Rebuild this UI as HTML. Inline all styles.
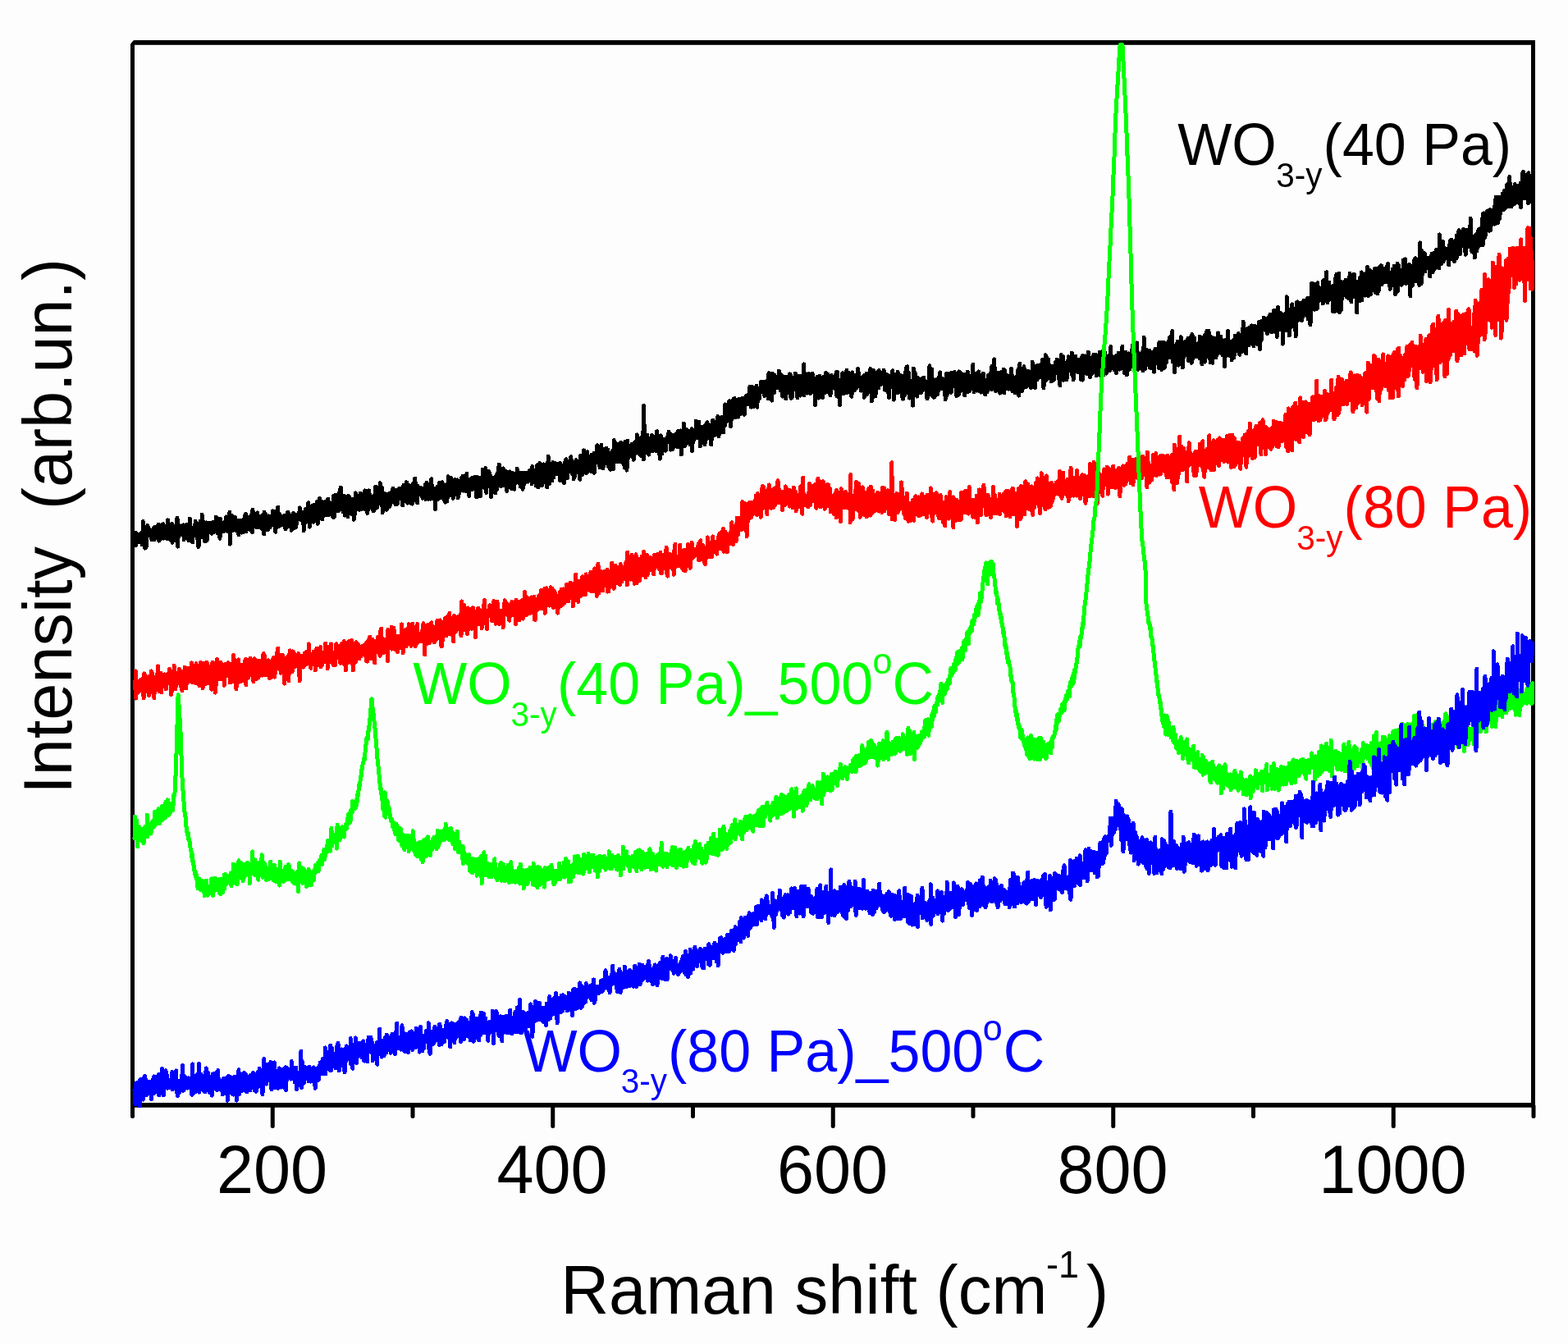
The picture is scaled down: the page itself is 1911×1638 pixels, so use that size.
<!DOCTYPE html>
<html><head><meta charset="utf-8"><title>Raman spectra</title>
<style>
html,body{margin:0;padding:0;background:#fdfdfd;overflow:hidden}
svg{display:block}
text{font-family:'Liberation Sans',Arial,sans-serif;}
</style></head><body>
<svg width="1911" height="1638" viewBox="0 0 1911 1638">
<rect x="0" y="0" width="1911" height="1638" fill="#fdfdfd"/>
<g stroke="#000" fill="none">
<line x1="161.5" y1="49" x2="161.5" y2="1350" stroke-width="5"/>
<line x1="1868.5" y1="49" x2="1868.5" y2="1350" stroke-width="5"/>
<line x1="159" y1="51.9" x2="1871" y2="51.9" stroke-width="5.8"/>
<line x1="159" y1="1346.9" x2="1871" y2="1346.9" stroke-width="5.8"/>
</g>
<polygon points="158,48 162.6,48 162.6,49.2 159.2,53.6 158,53.6" fill="#fdfdfd"/>
<g stroke="#000" stroke-width="5" stroke-linecap="round">
<line x1="161.50" y1="1348" x2="161.50" y2="1360.5" />
<line x1="332.25" y1="1348" x2="332.25" y2="1372.5" />
<line x1="503.00" y1="1348" x2="503.00" y2="1360.5" />
<line x1="673.75" y1="1348" x2="673.75" y2="1372.5" />
<line x1="844.50" y1="1348" x2="844.50" y2="1360.5" />
<line x1="1015.25" y1="1348" x2="1015.25" y2="1372.5" />
<line x1="1186.00" y1="1348" x2="1186.00" y2="1360.5" />
<line x1="1356.75" y1="1348" x2="1356.75" y2="1372.5" />
<line x1="1527.50" y1="1348" x2="1527.50" y2="1360.5" />
<line x1="1698.25" y1="1348" x2="1698.25" y2="1372.5" />
<line x1="1869.00" y1="1348" x2="1869.00" y2="1360.5" />
</g>
<g fill="none" stroke-width="5" stroke-linejoin="round" stroke-linecap="round" shape-rendering="crispEdges">
<polyline stroke="#000000" points="164.0,661.2 164.4,664.3 164.9,660.7 165.3,649.1 165.7,664.4 166.1,661.0 166.6,653.9 167.0,661.5 167.4,659.9 167.8,659.2 168.3,657.1 168.7,660.6 169.1,651.4 169.5,655.3 170.0,652.9 170.4,660.2 170.8,656.1 171.2,653.6 171.7,650.0 172.1,653.5 172.5,655.2 172.9,653.0 173.4,663.8 173.8,661.7 174.2,635.5 174.7,641.0 175.1,652.8 175.5,650.9 175.9,655.2 176.4,655.1 176.8,668.2 177.2,645.4 177.6,650.4 178.1,667.1 178.5,657.2 178.9,657.1 179.3,648.7 179.8,640.6 180.2,653.2 180.6,652.7 181.0,643.3 181.5,647.1 181.9,651.3 182.3,645.2 182.7,651.0 183.2,652.4 183.6,651.9 184.0,648.1 184.5,655.7 184.9,657.8 185.3,653.7 185.7,645.7 186.2,656.5 186.6,647.8 187.0,657.5 187.4,643.8 187.9,657.6 188.3,651.0 188.7,642.4 189.1,648.9 189.6,651.4 190.0,652.9 190.4,644.1 190.8,643.2 191.3,652.3 191.7,647.6 192.1,652.4 192.5,656.1 193.0,639.2 193.4,652.4 193.8,659.2 194.3,648.5 194.7,644.9 195.1,655.8 195.5,652.2 196.0,656.7 196.4,647.9 196.8,639.9 197.2,649.5 197.7,647.1 198.1,655.6 198.5,651.5 198.9,638.7 199.4,641.7 199.8,656.2 200.2,654.7 200.6,645.5 201.1,649.9 201.5,653.0 201.9,653.1 202.3,655.9 202.8,651.5 203.2,649.0 203.6,647.8 204.1,657.0 204.5,633.8 204.9,648.5 205.3,649.7 205.8,639.4 206.2,651.7 206.6,644.8 207.0,655.3 207.5,648.4 207.9,653.9 208.3,657.7 208.7,651.8 209.2,643.0 209.6,638.4 210.0,661.3 210.4,648.2 210.9,644.1 211.3,649.9 211.7,647.5 212.2,654.7 212.6,649.0 213.0,648.8 213.4,643.7 213.9,651.9 214.3,641.3 214.7,653.2 215.1,659.2 215.6,637.8 216.0,631.1 216.4,652.7 216.8,666.2 217.3,641.3 217.7,639.5 218.1,652.3 218.5,642.3 219.0,644.6 219.4,645.6 219.8,651.7 220.2,645.1 220.7,649.9 221.1,646.7 221.5,642.0 222.0,645.6 222.4,641.2 222.8,647.8 223.2,639.9 223.7,640.1 224.1,657.9 224.5,647.3 224.9,647.3 225.4,651.2 225.8,644.6 226.2,645.9 226.6,650.5 227.1,649.4 227.5,639.3 227.9,653.2 228.3,643.2 228.8,639.9 229.2,641.0 229.6,644.5 230.0,658.6 230.5,639.0 230.9,648.3 231.3,632.2 231.8,647.1 232.2,653.4 232.6,645.4 233.0,642.6 233.5,648.6 233.9,651.9 234.3,651.6 234.7,660.7 235.2,648.3 235.6,642.7 236.0,645.9 236.4,646.3 236.9,647.5 237.3,646.5 237.7,647.9 238.1,634.9 238.6,652.4 239.0,642.6 239.4,638.3 239.8,651.0 240.3,655.7 240.7,649.9 241.1,647.5 241.6,639.9 242.0,666.5 242.4,652.5 242.8,638.3 243.3,640.8 243.7,646.8 244.1,635.3 244.5,647.3 245.0,642.9 245.4,654.7 245.8,652.8 246.2,627.1 246.7,646.3 247.1,634.6 247.5,653.7 247.9,647.1 248.4,649.7 248.8,638.4 249.2,658.6 249.6,659.9 250.1,638.3 250.5,648.3 250.9,641.0 251.4,645.5 251.8,636.8 252.2,658.7 252.6,638.8 253.1,643.4 253.5,649.0 253.9,640.9 254.3,643.7 254.8,641.4 255.2,644.4 255.6,637.1 256.0,642.2 256.5,643.8 256.9,642.9 257.3,645.6 257.7,643.1 258.2,650.4 258.6,642.8 259.0,644.1 259.4,640.4 259.9,641.3 260.3,636.1 260.7,648.5 261.2,636.8 261.6,639.5 262.0,647.2 262.4,647.4 262.9,641.7 263.3,630.3 263.7,647.3 264.1,646.1 264.6,634.3 265.0,649.5 265.4,639.1 265.8,636.1 266.3,644.6 266.7,642.6 267.1,645.2 267.5,632.4 268.0,656.3 268.4,639.3 268.8,632.7 269.2,647.7 269.7,640.8 270.1,645.5 270.5,640.8 271.0,642.7 271.4,644.7 271.8,637.7 272.2,647.6 272.7,639.5 273.1,636.6 273.5,643.2 273.9,645.7 274.4,640.9 274.8,636.4 275.2,646.7 275.6,629.9 276.1,635.0 276.5,642.4 276.9,632.5 277.3,642.2 277.8,641.5 278.2,648.1 278.6,635.3 279.0,637.3 279.5,643.9 279.9,624.3 280.3,663.1 280.8,636.5 281.2,636.2 281.6,647.2 282.0,640.9 282.5,628.6 282.9,645.4 283.3,646.9 283.7,637.7 284.2,638.8 284.6,644.1 285.0,634.3 285.4,643.6 285.9,641.9 286.3,635.7 286.7,630.6 287.1,638.7 287.6,634.0 288.0,647.1 288.4,641.0 288.8,645.4 289.3,640.8 289.7,641.6 290.1,634.2 290.6,644.3 291.0,652.1 291.4,637.3 291.8,635.3 292.3,638.2 292.7,635.9 293.1,634.3 293.5,640.1 294.0,637.0 294.4,649.1 294.8,638.9 295.2,641.1 295.7,645.4 296.1,636.6 296.5,648.7 296.9,634.1 297.4,632.8 297.8,635.8 298.2,637.5 298.6,628.4 299.1,637.9 299.5,626.4 299.9,647.8 300.4,637.4 300.8,633.4 301.2,631.5 301.6,635.1 302.1,636.2 302.5,630.4 302.9,631.3 303.3,636.4 303.8,634.0 304.2,644.2 304.6,645.5 305.0,637.6 305.5,640.8 305.9,628.1 306.3,641.8 306.7,637.1 307.2,640.7 307.6,648.4 308.0,621.2 308.5,639.0 308.9,629.4 309.3,641.2 309.7,627.8 310.2,633.5 310.6,638.4 311.0,641.2 311.4,637.4 311.9,631.3 312.3,632.9 312.7,642.9 313.1,636.6 313.6,624.9 314.0,642.5 314.4,639.5 314.8,642.6 315.3,634.1 315.7,642.2 316.1,629.0 316.5,640.3 317.0,632.9 317.4,641.0 317.8,643.3 318.3,631.0 318.7,635.8 319.1,636.4 319.5,644.4 320.0,641.0 320.4,627.4 320.8,639.1 321.2,641.1 321.7,650.7 322.1,624.0 322.5,632.0 322.9,645.0 323.4,626.2 323.8,627.2 324.2,639.2 324.6,642.7 325.1,630.8 325.5,639.2 325.9,636.2 326.3,646.0 326.8,635.3 327.2,642.2 327.6,628.9 328.1,633.9 328.5,634.5 328.9,643.1 329.3,639.1 329.8,629.8 330.2,639.8 330.6,640.3 331.0,634.1 331.5,633.1 331.9,633.5 332.3,622.9 332.7,636.0 333.2,636.3 333.6,628.6 334.0,639.8 334.4,624.9 334.9,630.7 335.3,631.1 335.7,648.3 336.1,623.2 336.6,638.3 337.0,640.9 337.4,636.9 337.9,642.5 338.3,627.2 338.7,618.2 339.1,639.5 339.6,625.7 340.0,631.7 340.4,625.7 340.8,641.2 341.3,639.8 341.7,628.7 342.1,640.0 342.5,634.4 343.0,632.5 343.4,633.8 343.8,631.9 344.2,637.6 344.7,635.4 345.1,630.7 345.5,640.1 345.9,628.7 346.4,634.9 346.8,635.8 347.2,643.1 347.7,629.2 348.1,644.8 348.5,633.8 348.9,631.1 349.4,627.7 349.8,636.4 350.2,632.6 350.6,624.5 351.1,624.2 351.5,628.1 351.9,627.2 352.3,639.5 352.8,641.4 353.2,637.8 353.6,634.2 354.0,628.6 354.5,631.9 354.9,637.6 355.3,646.3 355.7,637.7 356.2,629.3 356.6,631.4 357.0,627.7 357.5,625.5 357.9,629.6 358.3,632.2 358.7,643.6 359.2,631.1 359.6,640.1 360.0,642.9 360.4,631.0 360.9,641.7 361.3,635.4 361.7,627.4 362.1,632.1 362.6,630.3 363.0,628.4 363.4,628.6 363.8,630.9 364.3,632.9 364.7,623.6 365.1,629.6 365.5,619.0 366.0,631.4 366.4,633.8 366.8,630.5 367.3,631.3 367.7,633.4 368.1,624.5 368.5,627.4 369.0,632.6 369.4,636.0 369.8,631.7 370.2,646.7 370.7,628.1 371.1,635.7 371.5,637.5 371.9,627.6 372.4,622.7 372.8,620.1 373.2,629.4 373.6,636.0 374.1,630.1 374.5,629.3 374.9,625.4 375.3,631.8 375.8,612.7 376.2,629.1 376.6,627.4 377.1,617.4 377.5,642.1 377.9,616.9 378.3,618.9 378.8,617.8 379.2,633.8 379.6,619.6 380.0,630.3 380.5,629.5 380.9,627.0 381.3,615.9 381.7,620.5 382.2,636.3 382.6,615.4 383.0,618.4 383.4,622.9 383.9,629.5 384.3,625.4 384.7,628.6 385.1,615.8 385.6,629.6 386.0,626.8 386.4,611.5 386.9,633.2 387.3,638.3 387.7,616.6 388.1,622.2 388.6,631.4 389.0,611.1 389.4,607.3 389.8,611.9 390.3,616.8 390.7,616.6 391.1,624.7 391.5,622.1 392.0,611.3 392.4,623.9 392.8,633.0 393.2,628.2 393.7,626.6 394.1,619.8 394.5,626.4 394.9,612.7 395.4,624.7 395.8,618.7 396.2,627.2 396.7,622.4 397.1,611.5 397.5,619.9 397.9,627.5 398.4,611.0 398.8,614.9 399.2,613.3 399.6,608.2 400.1,625.3 400.5,627.7 400.9,624.0 401.3,620.0 401.8,617.9 402.2,619.9 402.6,613.0 403.0,624.3 403.5,625.3 403.9,624.4 404.3,614.1 404.8,618.3 405.2,616.5 405.6,630.1 406.0,618.8 406.5,604.2 406.9,620.1 407.3,630.4 407.7,622.0 408.2,623.3 408.6,617.3 409.0,603.2 409.4,604.2 409.9,608.1 410.3,615.8 410.7,618.8 411.1,621.4 411.6,614.1 412.0,623.1 412.4,614.4 412.8,611.3 413.3,622.2 413.7,609.7 414.1,596.9 414.6,608.6 415.0,616.6 415.4,594.3 415.8,613.2 416.3,613.3 416.7,605.6 417.1,605.1 417.5,612.2 418.0,611.5 418.4,624.1 418.8,617.8 419.2,604.1 419.7,609.1 420.1,619.9 420.5,628.2 420.9,617.6 421.4,617.1 421.8,627.9 422.2,614.7 422.6,612.6 423.1,604.9 423.5,611.1 423.9,630.0 424.4,604.7 424.8,614.7 425.2,604.8 425.6,615.5 426.1,620.8 426.5,612.8 426.9,619.6 427.3,619.5 427.8,617.5 428.2,626.4 428.6,619.8 429.0,612.2 429.5,609.5 429.9,608.3 430.3,617.6 430.7,611.9 431.2,633.3 431.6,627.0 432.0,612.6 432.4,611.8 432.9,625.9 433.3,600.8 433.7,610.8 434.2,620.6 434.6,607.5 435.0,610.5 435.4,611.4 435.9,618.4 436.3,614.7 436.7,616.6 437.1,617.9 437.6,613.9 438.0,621.4 438.4,608.5 438.8,603.5 439.3,601.1 439.7,602.2 440.1,609.6 440.5,620.7 441.0,614.6 441.4,609.2 441.8,605.9 442.2,609.6 442.7,610.5 443.1,609.3 443.5,603.2 444.0,609.9 444.4,620.3 444.8,597.9 445.2,611.4 445.7,598.2 446.1,614.3 446.5,607.8 446.9,598.4 447.4,613.7 447.8,625.6 448.2,613.6 448.6,621.0 449.1,612.3 449.5,597.7 449.9,616.2 450.3,609.8 450.8,602.5 451.2,618.2 451.6,614.6 452.0,608.9 452.5,618.6 452.9,606.4 453.3,617.0 453.8,605.9 454.2,616.2 454.6,604.7 455.0,622.8 455.5,614.1 455.9,622.3 456.3,606.5 456.7,608.9 457.2,618.1 457.6,593.0 458.0,604.7 458.4,619.3 458.9,615.3 459.3,618.9 459.7,609.9 460.1,615.9 460.6,606.7 461.0,602.1 461.4,599.8 461.8,607.7 462.3,607.6 462.7,606.9 463.1,588.8 463.6,597.1 464.0,607.3 464.4,612.9 464.8,606.7 465.3,604.5 465.7,594.4 466.1,624.6 466.5,602.7 467.0,622.0 467.4,621.1 467.8,612.0 468.2,605.9 468.7,610.8 469.1,601.7 469.5,611.4 469.9,609.5 470.4,613.1 470.8,616.0 471.2,621.3 471.6,606.4 472.1,616.3 472.5,603.3 472.9,602.5 473.4,604.3 473.8,601.7 474.2,615.3 474.6,614.8 475.1,617.1 475.5,608.0 475.9,609.9 476.3,603.9 476.8,599.8 477.2,610.8 477.6,609.5 478.0,599.7 478.5,611.5 478.9,595.1 479.3,605.9 479.7,602.7 480.2,603.3 480.6,599.3 481.0,613.4 481.4,610.6 481.9,614.8 482.3,607.3 482.7,597.2 483.2,603.6 483.6,597.8 484.0,609.1 484.4,614.3 484.9,608.0 485.3,601.4 485.7,602.9 486.1,606.8 486.6,595.1 487.0,606.2 487.4,606.4 487.8,601.1 488.3,601.9 488.7,605.9 489.1,598.9 489.5,598.7 490.0,609.8 490.4,605.8 490.8,615.9 491.2,597.1 491.7,591.5 492.1,610.4 492.5,610.4 493.0,598.4 493.4,593.2 493.8,603.0 494.2,591.0 494.7,600.8 495.1,587.8 495.5,601.2 495.9,588.0 496.4,601.0 496.8,613.2 497.2,600.6 497.6,607.7 498.1,597.7 498.5,595.9 498.9,591.5 499.3,609.2 499.8,601.4 500.2,613.1 500.6,593.4 501.1,600.0 501.5,602.1 501.9,611.3 502.3,614.1 502.8,596.8 503.2,593.3 503.6,589.1 504.0,610.5 504.5,600.5 504.9,596.5 505.3,600.6 505.7,583.0 506.2,588.8 506.6,607.4 507.0,603.5 507.4,601.8 507.9,593.6 508.3,604.7 508.7,613.0 509.1,591.9 509.6,600.5 510.0,597.3 510.4,602.9 510.9,600.4 511.3,599.2 511.7,594.0 512.1,600.0 512.6,595.8 513.0,599.0 513.4,599.5 513.8,604.5 514.3,595.8 514.7,597.5 515.1,607.2 515.5,598.2 516.0,597.8 516.4,605.6 516.8,601.4 517.2,600.1 517.7,601.0 518.1,590.7 518.5,602.5 518.9,608.5 519.4,603.3 519.8,588.3 520.2,601.1 520.7,592.7 521.1,597.5 521.5,599.9 521.9,590.6 522.4,608.3 522.8,598.4 523.2,604.4 523.6,603.2 524.1,608.1 524.5,607.0 524.9,588.3 525.3,598.9 525.8,583.6 526.2,595.3 526.6,603.4 527.0,604.8 527.5,607.3 527.9,595.6 528.3,600.5 528.7,598.9 529.2,607.0 529.6,609.2 530.0,595.5 530.5,620.6 530.9,597.9 531.3,595.3 531.7,602.0 532.2,603.1 532.6,601.5 533.0,593.1 533.4,607.9 533.9,597.9 534.3,608.3 534.7,607.2 535.1,588.5 535.6,590.5 536.0,590.3 536.4,599.0 536.8,597.6 537.3,599.1 537.7,591.5 538.1,600.1 538.5,606.9 539.0,587.7 539.4,595.6 539.8,598.6 540.3,595.9 540.7,595.4 541.1,609.1 541.5,605.6 542.0,602.5 542.4,591.1 542.8,612.1 543.2,598.9 543.7,592.2 544.1,593.8 544.5,592.7 544.9,610.9 545.4,597.4 545.8,596.3 546.2,580.7 546.6,600.9 547.1,588.3 547.5,587.7 547.9,599.8 548.3,589.4 548.8,601.2 549.2,603.2 549.6,582.7 550.1,594.2 550.5,584.1 550.9,594.6 551.3,601.3 551.8,585.3 552.2,607.4 552.6,592.5 553.0,586.3 553.5,593.7 553.9,600.0 554.3,584.7 554.7,594.3 555.2,584.6 555.6,602.6 556.0,595.2 556.4,591.0 556.9,601.2 557.3,584.8 557.7,591.0 558.1,606.6 558.6,592.7 559.0,603.0 559.4,594.8 559.9,588.5 560.3,591.6 560.7,593.8 561.1,590.3 561.6,587.3 562.0,587.5 562.4,582.5 562.8,593.6 563.3,595.5 563.7,597.9 564.1,580.0 564.5,598.2 565.0,592.4 565.4,582.4 565.8,593.0 566.2,598.0 566.7,595.8 567.1,597.2 567.5,598.6 567.9,598.2 568.4,591.6 568.8,577.2 569.2,586.4 569.7,594.2 570.1,588.3 570.5,596.3 570.9,597.0 571.4,591.7 571.8,604.5 572.2,584.4 572.6,597.7 573.1,587.8 573.5,585.5 573.9,595.0 574.3,586.5 574.8,596.8 575.2,582.5 575.6,590.9 576.0,584.7 576.5,588.8 576.9,587.8 577.3,582.4 577.7,594.8 578.2,581.5 578.6,583.3 579.0,596.3 579.5,596.8 579.9,594.6 580.3,592.2 580.7,605.7 581.2,581.3 581.6,584.5 582.0,582.7 582.4,595.9 582.9,591.5 583.3,597.2 583.7,596.2 584.1,587.8 584.6,583.6 585.0,582.3 585.4,604.7 585.8,595.9 586.3,593.3 586.7,586.7 587.1,587.6 587.5,586.5 588.0,586.6 588.4,572.0 588.8,588.4 589.3,586.1 589.7,590.7 590.1,590.1 590.5,594.6 591.0,588.4 591.4,594.1 591.8,570.5 592.2,580.7 592.7,600.4 593.1,579.7 593.5,586.3 593.9,593.1 594.4,581.9 594.8,593.1 595.2,578.0 595.6,574.6 596.1,578.6 596.5,576.3 596.9,587.7 597.4,585.5 597.8,590.0 598.2,580.4 598.6,605.4 599.1,586.9 599.5,587.1 599.9,590.6 600.3,585.7 600.8,582.9 601.2,587.9 601.6,593.6 602.0,591.8 602.5,593.7 602.9,583.1 603.3,581.6 603.7,601.0 604.2,585.2 604.6,590.2 605.0,592.0 605.4,596.7 605.9,577.2 606.3,583.3 606.7,583.5 607.2,584.4 607.6,569.6 608.0,585.7 608.4,566.1 608.9,588.4 609.3,590.0 609.7,590.4 610.1,577.7 610.6,592.8 611.0,580.0 611.4,577.4 611.8,579.1 612.3,580.0 612.7,587.1 613.1,591.6 613.5,571.0 614.0,581.9 614.4,592.0 614.8,587.0 615.2,589.1 615.7,575.0 616.1,592.1 616.5,574.5 617.0,586.7 617.4,594.9 617.8,598.4 618.2,588.8 618.7,591.3 619.1,580.9 619.5,581.7 619.9,593.2 620.4,584.9 620.8,584.0 621.2,574.9 621.6,585.8 622.1,589.2 622.5,579.0 622.9,580.9 623.3,595.5 623.8,585.6 624.2,582.2 624.6,576.2 625.0,579.8 625.5,582.3 625.9,593.6 626.3,579.6 626.8,596.4 627.2,577.2 627.6,581.2 628.0,589.5 628.5,581.8 628.9,577.6 629.3,582.4 629.7,586.4 630.2,571.2 630.6,581.4 631.0,582.3 631.4,580.2 631.9,588.1 632.3,578.9 632.7,580.2 633.1,583.0 633.6,587.7 634.0,581.0 634.4,593.1 634.8,576.0 635.3,591.3 635.7,576.2 636.1,581.0 636.6,584.7 637.0,596.4 637.4,588.2 637.8,579.0 638.3,590.9 638.7,580.2 639.1,576.1 639.5,584.7 640.0,582.2 640.4,588.1 640.8,577.5 641.2,584.0 641.7,585.7 642.1,583.1 642.5,580.9 642.9,576.1 643.4,587.2 643.8,581.8 644.2,584.2 644.6,578.2 645.1,580.7 645.5,573.3 645.9,581.1 646.4,585.7 646.8,581.0 647.2,586.3 647.6,582.4 648.1,589.6 648.5,578.7 648.9,568.5 649.3,582.9 649.8,578.6 650.2,572.9 650.6,584.2 651.0,581.4 651.5,582.6 651.9,577.1 652.3,580.7 652.7,581.1 653.2,591.6 653.6,574.3 654.0,579.0 654.4,581.5 654.9,566.8 655.3,567.6 655.7,593.9 656.2,566.3 656.6,582.6 657.0,572.6 657.4,573.1 657.9,564.5 658.3,572.0 658.7,583.7 659.1,568.4 659.6,582.2 660.0,580.2 660.4,592.0 660.8,574.5 661.3,586.6 661.7,583.8 662.1,575.5 662.5,565.8 663.0,587.9 663.4,567.7 663.8,573.8 664.2,583.2 664.7,584.8 665.1,570.9 665.5,576.5 666.0,574.9 666.4,584.8 666.8,594.0 667.2,563.6 667.7,582.7 668.1,556.2 668.5,576.2 668.9,568.2 669.4,589.8 669.8,577.0 670.2,570.5 670.6,572.1 671.1,571.5 671.5,576.7 671.9,574.2 672.3,579.8 672.8,585.9 673.2,579.9 673.6,566.4 674.0,563.5 674.5,569.5 674.9,582.0 675.3,572.2 675.8,569.8 676.2,575.3 676.6,564.4 677.0,566.2 677.5,577.6 677.9,571.9 678.3,570.7 678.7,576.0 679.2,569.6 679.6,568.8 680.0,570.3 680.4,577.6 680.9,573.7 681.3,564.8 681.7,571.0 682.1,577.6 682.6,586.0 683.0,564.8 683.4,575.1 683.8,570.8 684.3,578.3 684.7,575.6 685.1,582.7 685.6,575.9 686.0,568.3 686.4,568.3 686.8,574.8 687.3,574.6 687.7,588.6 688.1,583.4 688.5,563.4 689.0,573.9 689.4,562.1 689.8,559.7 690.2,576.4 690.7,575.0 691.1,563.7 691.5,582.4 691.9,564.0 692.4,562.5 692.8,575.2 693.2,572.1 693.7,569.3 694.1,569.9 694.5,571.8 694.9,569.2 695.4,568.8 695.8,556.7 696.2,560.5 696.6,574.0 697.1,564.7 697.5,573.4 697.9,578.1 698.3,566.9 698.8,571.3 699.2,583.7 699.6,574.0 700.0,581.9 700.5,579.6 700.9,574.0 701.3,567.8 701.7,562.6 702.2,560.6 702.6,571.6 703.0,571.4 703.5,566.7 703.9,573.8 704.3,563.5 704.7,575.4 705.2,567.7 705.6,567.1 706.0,567.2 706.4,566.4 706.9,584.4 707.3,555.5 707.7,567.9 708.1,575.3 708.6,571.5 709.0,564.2 709.4,578.4 709.8,558.6 710.3,556.8 710.7,569.8 711.1,555.5 711.5,548.9 712.0,571.6 712.4,570.6 712.8,570.3 713.3,561.6 713.7,566.2 714.1,558.0 714.5,576.8 715.0,570.1 715.4,569.6 715.8,550.6 716.2,569.8 716.7,574.5 717.1,572.4 717.5,569.3 717.9,563.6 718.4,561.1 718.8,567.6 719.2,565.9 719.6,564.8 720.1,560.8 720.5,574.6 720.9,554.5 721.3,562.4 721.8,558.4 722.2,569.6 722.6,572.2 723.1,570.8 723.5,567.2 723.9,552.0 724.3,576.3 724.8,565.2 725.2,560.7 725.6,561.5 726.0,558.8 726.5,564.0 726.9,563.1 727.3,558.3 727.7,542.7 728.2,560.3 728.6,563.8 729.0,564.0 729.4,559.1 729.9,563.2 730.3,567.1 730.7,556.5 731.1,569.9 731.6,545.8 732.0,550.6 732.4,552.9 732.9,542.0 733.3,552.0 733.7,567.6 734.1,567.5 734.6,559.3 735.0,570.6 735.4,560.1 735.8,554.8 736.3,559.8 736.7,557.0 737.1,563.0 737.5,547.2 738.0,564.6 738.4,554.3 738.8,563.3 739.2,546.4 739.7,554.2 740.1,557.5 740.5,563.2 740.9,548.2 741.4,568.3 741.8,559.9 742.2,552.8 742.7,564.9 743.1,556.9 743.5,564.2 743.9,572.3 744.4,561.3 744.8,552.1 745.2,552.7 745.6,559.7 746.1,557.5 746.5,549.5 746.9,550.6 747.3,559.8 747.8,571.5 748.2,536.5 748.6,559.9 749.0,553.3 749.5,560.1 749.9,560.6 750.3,554.8 750.7,547.2 751.2,544.4 751.6,541.0 752.0,562.5 752.5,552.4 752.9,550.0 753.3,551.7 753.7,544.2 754.2,555.6 754.6,562.6 755.0,561.2 755.4,542.2 755.9,562.6 756.3,547.6 756.7,539.4 757.1,544.1 757.6,545.8 758.0,552.5 758.4,545.2 758.8,541.7 759.3,550.3 759.7,565.5 760.1,547.0 760.5,555.1 761.0,552.3 761.4,570.2 761.8,538.2 762.3,559.0 762.7,542.2 763.1,546.9 763.5,550.3 764.0,573.1 764.4,545.3 764.8,537.3 765.2,559.5 765.7,544.4 766.1,548.5 766.5,549.9 766.9,550.6 767.4,548.6 767.8,551.5 768.2,552.2 768.6,555.4 769.1,546.3 769.5,543.9 769.9,541.6 770.3,553.0 770.8,548.4 771.2,552.5 771.6,552.3 772.1,560.2 772.5,549.7 772.9,553.4 773.3,539.6 773.8,540.3 774.2,545.6 774.6,539.1 775.0,552.3 775.5,538.0 775.9,547.7 776.3,529.9 776.7,539.2 777.2,544.5 777.6,544.9 778.0,534.1 778.4,547.2 778.9,553.2 779.3,550.7 779.7,541.5 780.2,541.8 780.6,537.5 781.0,550.1 781.4,555.7 781.9,541.8 782.3,533.4 782.7,546.6 783.1,550.0 783.6,525.9 784.0,545.8 784.4,559.8 784.8,494.5 785.3,548.3 785.7,547.1 786.1,551.6 786.5,537.4 787.0,538.0 787.4,546.6 787.8,538.9 788.2,545.3 788.7,530.0 789.1,548.6 789.5,549.1 790.0,543.3 790.4,544.0 790.8,554.1 791.2,535.0 791.7,536.1 792.1,534.7 792.5,539.3 792.9,535.0 793.4,542.3 793.8,537.3 794.2,531.6 794.6,530.8 795.1,550.0 795.5,540.9 795.9,539.6 796.3,541.3 796.8,540.4 797.2,546.1 797.6,544.6 798.0,536.5 798.5,534.7 798.9,532.7 799.3,531.4 799.8,549.9 800.2,533.5 800.6,525.7 801.0,533.9 801.5,534.2 801.9,541.9 802.3,533.3 802.7,543.2 803.2,542.1 803.6,548.2 804.0,554.4 804.4,559.1 804.9,548.5 805.3,530.8 805.7,536.0 806.1,540.5 806.6,553.2 807.0,543.3 807.4,546.9 807.8,537.2 808.3,542.5 808.7,543.3 809.1,535.0 809.6,543.5 810.0,545.5 810.4,536.8 810.8,545.0 811.3,549.3 811.7,538.1 812.1,537.6 812.5,535.3 813.0,533.1 813.4,538.4 813.8,534.4 814.2,535.0 814.7,531.7 815.1,526.2 815.5,530.3 815.9,539.1 816.4,528.4 816.8,532.1 817.2,548.1 817.6,544.4 818.1,531.5 818.5,540.5 818.9,531.7 819.4,547.5 819.8,531.9 820.2,536.5 820.6,545.6 821.1,530.0 821.5,544.9 821.9,530.0 822.3,537.3 822.8,533.5 823.2,534.9 823.6,536.6 824.0,534.9 824.5,528.2 824.9,541.3 825.3,540.2 825.7,544.2 826.2,544.8 826.6,525.6 827.0,543.9 827.4,544.0 827.9,531.1 828.3,542.0 828.7,545.0 829.2,530.9 829.6,524.9 830.0,532.0 830.4,554.0 830.9,536.0 831.3,525.8 831.7,532.5 832.1,527.2 832.6,531.3 833.0,534.7 833.4,516.1 833.8,536.4 834.3,543.8 834.7,532.4 835.1,531.1 835.5,541.3 836.0,524.7 836.4,524.8 836.8,523.7 837.2,532.3 837.7,536.1 838.1,532.7 838.5,537.1 839.0,539.0 839.4,536.6 839.8,527.4 840.2,531.1 840.7,541.5 841.1,525.3 841.5,530.8 841.9,529.5 842.4,531.0 842.8,524.6 843.2,522.6 843.6,549.8 844.1,538.4 844.5,526.7 844.9,531.1 845.3,536.1 845.8,528.9 846.2,535.5 846.6,526.7 847.0,528.4 847.5,530.2 847.9,527.4 848.3,513.3 848.8,530.5 849.2,532.1 849.6,533.5 850.0,523.0 850.5,532.3 850.9,531.2 851.3,517.2 851.7,514.1 852.2,532.7 852.6,522.5 853.0,536.1 853.4,544.0 853.9,524.8 854.3,523.9 854.7,528.5 855.1,533.2 855.6,520.4 856.0,536.9 856.4,535.0 856.8,532.6 857.3,524.0 857.7,534.1 858.1,533.6 858.6,519.0 859.0,541.9 859.4,525.1 859.8,529.6 860.3,523.2 860.7,529.4 861.1,534.7 861.5,520.7 862.0,514.6 862.4,522.9 862.8,516.7 863.2,520.4 863.7,524.6 864.1,524.9 864.5,534.2 864.9,517.9 865.4,527.3 865.8,521.1 866.2,534.1 866.6,542.0 867.1,526.3 867.5,535.7 867.9,520.1 868.4,512.5 868.8,514.6 869.2,512.3 869.6,516.5 870.1,521.3 870.5,530.9 870.9,527.5 871.3,525.7 871.8,519.3 872.2,517.1 872.6,522.2 873.0,522.7 873.5,523.4 873.9,524.0 874.3,520.4 874.7,507.6 875.2,513.0 875.6,514.5 876.0,531.6 876.5,516.2 876.9,523.3 877.3,528.3 877.7,519.9 878.2,514.3 878.6,514.4 879.0,508.8 879.4,517.5 879.9,522.7 880.3,518.3 880.7,519.2 881.1,518.3 881.6,526.8 882.0,507.7 882.4,512.7 882.8,516.0 883.3,519.3 883.7,492.8 884.1,505.8 884.5,507.4 885.0,501.1 885.4,513.8 885.8,508.8 886.3,503.9 886.7,494.6 887.1,496.2 887.5,498.1 888.0,507.8 888.4,495.3 888.8,488.7 889.2,492.6 889.7,498.2 890.1,514.0 890.5,519.7 890.9,498.0 891.4,508.1 891.8,511.1 892.2,510.1 892.6,499.7 893.1,491.0 893.5,496.6 893.9,486.4 894.3,501.4 894.8,505.1 895.2,485.5 895.6,498.6 896.1,500.9 896.5,507.7 896.9,508.4 897.3,503.9 897.8,492.8 898.2,494.9 898.6,506.2 899.0,492.7 899.5,496.6 899.9,508.2 900.3,497.4 900.7,486.2 901.2,493.9 901.6,500.5 902.0,494.2 902.4,503.9 902.9,504.6 903.3,490.1 903.7,490.9 904.1,493.7 904.6,485.3 905.0,496.8 905.4,492.2 905.9,498.9 906.3,488.2 906.7,485.6 907.1,505.5 907.6,484.7 908.0,486.4 908.4,484.9 908.8,487.6 909.3,482.6 909.7,488.7 910.1,483.2 910.5,485.0 911.0,490.4 911.4,492.5 911.8,490.3 912.2,480.7 912.7,488.8 913.1,484.5 913.5,484.1 913.9,471.4 914.4,489.1 914.8,482.5 915.2,496.1 915.7,487.5 916.1,473.7 916.5,471.2 916.9,490.1 917.4,474.1 917.8,485.6 918.2,477.6 918.6,495.6 919.1,479.6 919.5,490.2 919.9,488.4 920.3,474.3 920.8,475.1 921.2,488.8 921.6,477.2 922.0,470.2 922.5,486.0 922.9,496.4 923.3,476.0 923.7,487.0 924.2,474.6 924.6,486.2 925.0,473.6 925.5,485.6 925.9,479.3 926.3,473.4 926.7,476.5 927.2,470.1 927.6,465.3 928.0,465.7 928.4,473.3 928.9,465.2 929.3,476.8 929.7,477.3 930.1,476.6 930.6,468.7 931.0,472.9 931.4,472.0 931.8,482.5 932.3,465.4 932.7,468.5 933.1,469.5 933.5,469.9 934.0,464.9 934.4,465.6 934.8,478.5 935.3,465.1 935.7,477.2 936.1,486.0 936.5,479.7 937.0,454.8 937.4,475.2 937.8,472.6 938.2,472.9 938.7,455.2 939.1,474.2 939.5,459.1 939.9,478.0 940.4,476.2 940.8,488.2 941.2,464.5 941.6,455.3 942.1,476.1 942.5,474.7 942.9,464.6 943.3,478.7 943.8,473.3 944.2,457.3 944.6,464.9 945.1,464.1 945.5,466.9 945.9,469.4 946.3,462.1 946.8,466.2 947.2,472.7 947.6,467.3 948.0,465.7 948.5,465.4 948.9,467.1 949.3,452.2 949.7,469.3 950.2,459.5 950.6,468.9 951.0,455.9 951.4,475.7 951.9,470.0 952.3,456.9 952.7,470.1 953.1,461.9 953.6,483.1 954.0,472.3 954.4,461.6 954.9,470.1 955.3,468.0 955.7,478.3 956.1,471.3 956.6,472.6 957.0,459.1 957.4,475.0 957.8,486.0 958.3,473.8 958.7,468.2 959.1,469.9 959.5,460.5 960.0,470.1 960.4,459.3 960.8,468.9 961.2,465.3 961.7,461.5 962.1,473.4 962.5,455.9 962.9,468.2 963.4,457.3 963.8,484.0 964.2,485.2 964.7,475.7 965.1,484.6 965.5,473.5 965.9,473.1 966.4,464.8 966.8,460.8 967.2,469.5 967.6,463.8 968.1,464.6 968.5,474.6 968.9,467.3 969.3,455.0 969.8,466.5 970.2,461.8 970.6,465.8 971.0,458.9 971.5,478.6 971.9,484.6 972.3,458.7 972.8,473.8 973.2,473.4 973.6,458.9 974.0,469.1 974.5,480.4 974.9,475.5 975.3,482.2 975.7,458.0 976.2,461.6 976.6,470.6 977.0,471.2 977.4,468.3 977.9,464.7 978.3,464.5 978.7,462.7 979.1,471.9 979.6,443.9 980.0,482.0 980.4,463.3 980.8,455.4 981.3,472.7 981.7,455.6 982.1,471.3 982.6,464.3 983.0,473.0 983.4,474.7 983.8,479.1 984.3,463.4 984.7,465.2 985.1,467.6 985.5,455.3 986.0,472.9 986.4,468.8 986.8,455.9 987.2,478.2 987.7,479.6 988.1,456.1 988.5,472.6 988.9,478.5 989.4,474.9 989.8,459.0 990.2,455.3 990.6,466.5 991.1,463.2 991.5,467.4 991.9,466.6 992.4,472.1 992.8,462.6 993.2,466.0 993.6,493.4 994.1,466.3 994.5,473.8 994.9,469.9 995.3,469.3 995.8,459.4 996.2,471.9 996.6,466.9 997.0,474.5 997.5,485.2 997.9,468.9 998.3,473.9 998.7,458.3 999.2,468.3 999.6,480.8 1000.0,466.7 1000.4,461.6 1000.9,469.0 1001.3,465.6 1001.7,465.1 1002.2,463.9 1002.6,484.6 1003.0,459.6 1003.4,463.6 1003.9,462.2 1004.3,478.0 1004.7,464.8 1005.1,478.6 1005.6,468.6 1006.0,467.0 1006.4,454.4 1006.8,477.8 1007.3,471.9 1007.7,470.7 1008.1,466.2 1008.5,463.5 1009.0,456.1 1009.4,475.5 1009.8,469.5 1010.2,464.0 1010.7,461.7 1011.1,468.2 1011.5,466.4 1012.0,481.6 1012.4,474.0 1012.8,462.0 1013.2,457.5 1013.7,465.1 1014.1,459.2 1014.5,467.9 1014.9,470.7 1015.4,472.8 1015.8,470.8 1016.2,465.5 1016.6,472.5 1017.1,459.4 1017.5,466.5 1017.9,474.3 1018.3,469.8 1018.8,456.1 1019.2,457.1 1019.6,453.1 1020.0,483.0 1020.5,453.7 1020.9,466.1 1021.3,483.3 1021.8,476.7 1022.2,478.8 1022.6,462.9 1023.0,473.8 1023.5,493.9 1023.9,467.0 1024.3,470.9 1024.7,464.5 1025.2,467.2 1025.6,470.6 1026.0,479.4 1026.4,459.4 1026.9,454.8 1027.3,467.5 1027.7,469.1 1028.1,479.7 1028.6,473.6 1029.0,461.9 1029.4,472.3 1029.8,477.1 1030.3,469.8 1030.7,464.3 1031.1,473.2 1031.6,464.2 1032.0,451.0 1032.4,479.0 1032.8,456.0 1033.3,464.4 1033.7,464.5 1034.1,464.4 1034.5,464.8 1035.0,454.7 1035.4,471.9 1035.8,467.5 1036.2,467.6 1036.7,476.6 1037.1,476.9 1037.5,479.0 1037.9,483.4 1038.4,471.2 1038.8,453.8 1039.2,469.1 1039.6,467.4 1040.1,467.8 1040.5,462.0 1040.9,459.4 1041.4,474.2 1041.8,475.7 1042.2,457.4 1042.6,471.9 1043.1,465.7 1043.5,463.8 1043.9,473.1 1044.3,466.7 1044.8,462.3 1045.2,467.6 1045.6,449.6 1046.0,461.9 1046.5,463.2 1046.9,454.8 1047.3,468.6 1047.7,469.3 1048.2,461.7 1048.6,465.5 1049.0,472.8 1049.4,476.2 1049.9,460.2 1050.3,469.8 1050.7,475.9 1051.2,466.6 1051.6,460.1 1052.0,460.1 1052.4,464.0 1052.9,457.7 1053.3,484.3 1053.7,461.7 1054.1,470.0 1054.6,468.3 1055.0,472.2 1055.4,463.3 1055.8,455.3 1056.3,480.9 1056.7,465.9 1057.1,467.6 1057.5,468.3 1058.0,477.6 1058.4,473.3 1058.8,476.8 1059.2,473.7 1059.7,467.9 1060.1,468.7 1060.5,460.0 1061.0,449.5 1061.4,464.4 1061.8,457.1 1062.2,489.1 1062.7,480.1 1063.1,476.7 1063.5,461.6 1063.9,484.4 1064.4,451.5 1064.8,455.8 1065.2,459.6 1065.6,458.0 1066.1,467.5 1066.5,468.0 1066.9,483.1 1067.3,475.1 1067.8,477.0 1068.2,470.0 1068.6,465.0 1069.1,460.3 1069.5,453.1 1069.9,458.7 1070.3,462.9 1070.8,472.9 1071.2,451.5 1071.6,454.3 1072.0,468.1 1072.5,457.0 1072.9,469.1 1073.3,462.6 1073.7,459.6 1074.2,454.5 1074.6,465.3 1075.0,459.8 1075.4,460.8 1075.9,460.5 1076.3,467.7 1076.7,467.4 1077.1,451.1 1077.6,464.7 1078.0,469.5 1078.4,475.1 1078.9,472.9 1079.3,467.9 1079.7,456.0 1080.1,459.3 1080.6,474.1 1081.0,460.1 1081.4,475.3 1081.8,477.6 1082.3,457.3 1082.7,470.5 1083.1,465.8 1083.5,484.6 1084.0,474.3 1084.4,462.6 1084.8,470.8 1085.2,459.3 1085.7,466.1 1086.1,469.3 1086.5,468.9 1086.9,470.4 1087.4,459.9 1087.8,451.7 1088.2,464.9 1088.7,460.4 1089.1,462.1 1089.5,487.1 1089.9,478.7 1090.4,467.1 1090.8,456.2 1091.2,457.4 1091.6,472.1 1092.1,478.4 1092.5,466.6 1092.9,470.4 1093.3,471.6 1093.8,478.8 1094.2,453.1 1094.6,471.0 1095.0,473.3 1095.5,478.2 1095.9,473.4 1096.3,460.4 1096.7,465.1 1097.2,457.0 1097.6,472.1 1098.0,472.2 1098.5,475.1 1098.9,462.2 1099.3,460.8 1099.7,484.3 1100.2,472.6 1100.6,486.3 1101.0,474.8 1101.4,458.2 1101.9,478.0 1102.3,481.7 1102.7,467.0 1103.1,454.1 1103.6,476.7 1104.0,469.6 1104.4,473.3 1104.8,447.3 1105.3,474.8 1105.7,446.7 1106.1,463.2 1106.5,478.5 1107.0,454.8 1107.4,454.4 1107.8,466.8 1108.3,485.1 1108.7,484.8 1109.1,465.4 1109.5,479.4 1110.0,475.7 1110.4,472.9 1110.8,473.7 1111.2,464.3 1111.7,477.6 1112.1,479.9 1112.5,494.2 1112.9,478.6 1113.4,449.1 1113.8,460.0 1114.2,473.4 1114.6,471.1 1115.1,454.2 1115.5,469.2 1115.9,467.3 1116.3,470.0 1116.8,469.3 1117.2,478.4 1117.6,483.2 1118.1,476.3 1118.5,460.6 1118.9,462.8 1119.3,464.5 1119.8,469.8 1120.2,466.6 1120.6,467.2 1121.0,462.2 1121.5,478.6 1121.9,477.7 1122.3,478.6 1122.7,469.5 1123.2,474.2 1123.6,462.2 1124.0,461.3 1124.4,465.4 1124.9,475.3 1125.3,468.8 1125.7,460.1 1126.1,470.9 1126.6,473.8 1127.0,471.5 1127.4,464.2 1127.9,470.6 1128.3,466.3 1128.7,467.2 1129.1,469.2 1129.6,476.6 1130.0,486.0 1130.4,483.6 1130.8,475.4 1131.3,466.4 1131.7,467.2 1132.1,467.5 1132.5,479.9 1133.0,445.6 1133.4,472.0 1133.8,452.3 1134.2,469.7 1134.7,481.3 1135.1,461.7 1135.5,449.7 1135.9,481.0 1136.4,482.8 1136.8,473.9 1137.2,480.5 1137.7,462.5 1138.1,479.7 1138.5,484.3 1138.9,475.0 1139.4,471.8 1139.8,480.6 1140.2,479.2 1140.6,462.7 1141.1,481.2 1141.5,475.7 1141.9,470.6 1142.3,480.6 1142.8,477.2 1143.2,475.6 1143.6,464.6 1144.0,476.4 1144.5,459.3 1144.9,467.9 1145.3,454.2 1145.7,454.0 1146.2,472.8 1146.6,468.2 1147.0,469.6 1147.5,474.0 1147.9,471.9 1148.3,461.0 1148.7,469.4 1149.2,468.1 1149.6,464.1 1150.0,467.6 1150.4,465.4 1150.9,462.9 1151.3,465.7 1151.7,470.6 1152.1,486.6 1152.6,461.3 1153.0,473.0 1153.4,455.7 1153.8,482.3 1154.3,465.5 1154.7,469.6 1155.1,479.5 1155.5,476.9 1156.0,455.2 1156.4,473.1 1156.8,466.2 1157.3,473.6 1157.7,469.5 1158.1,474.6 1158.5,470.7 1159.0,466.8 1159.4,478.3 1159.8,454.5 1160.2,464.2 1160.7,459.6 1161.1,466.7 1161.5,464.2 1161.9,466.6 1162.4,463.6 1162.8,463.8 1163.2,453.5 1163.6,467.5 1164.1,470.6 1164.5,462.6 1164.9,462.1 1165.4,462.2 1165.8,482.5 1166.2,469.4 1166.6,471.2 1167.1,465.1 1167.5,463.4 1167.9,460.0 1168.3,481.2 1168.8,452.8 1169.2,470.3 1169.6,467.5 1170.0,465.4 1170.5,453.9 1170.9,456.8 1171.3,476.2 1171.7,461.5 1172.2,475.3 1172.6,473.4 1173.0,472.6 1173.4,474.2 1173.9,456.9 1174.3,463.4 1174.7,473.4 1175.2,456.4 1175.6,482.0 1176.0,462.6 1176.4,466.9 1176.9,458.5 1177.3,470.6 1177.7,461.0 1178.1,465.3 1178.6,457.4 1179.0,477.8 1179.4,453.1 1179.8,471.3 1180.3,469.4 1180.7,471.1 1181.1,458.4 1181.5,476.3 1182.0,475.7 1182.4,468.6 1182.8,470.0 1183.2,465.8 1183.7,472.8 1184.1,460.0 1184.5,472.0 1185.0,470.7 1185.4,454.8 1185.8,444.2 1186.2,466.1 1186.7,465.7 1187.1,477.8 1187.5,467.6 1187.9,462.7 1188.4,455.2 1188.8,466.3 1189.2,461.9 1189.6,457.4 1190.1,465.9 1190.5,476.2 1190.9,467.8 1191.3,457.7 1191.8,469.7 1192.2,457.2 1192.6,453.0 1193.0,471.1 1193.5,462.0 1193.9,476.5 1194.3,469.4 1194.8,459.6 1195.2,468.6 1195.6,478.0 1196.0,464.9 1196.5,457.3 1196.9,460.8 1197.3,459.4 1197.7,456.2 1198.2,455.1 1198.6,470.1 1199.0,476.1 1199.4,463.2 1199.9,473.2 1200.3,474.3 1200.7,481.0 1201.1,464.6 1201.6,463.2 1202.0,469.9 1202.4,467.0 1202.8,468.8 1203.3,477.5 1203.7,462.3 1204.1,468.0 1204.6,457.4 1205.0,464.6 1205.4,460.1 1205.8,459.3 1206.3,464.0 1206.7,462.0 1207.1,469.1 1207.5,472.9 1208.0,452.7 1208.4,474.6 1208.8,446.3 1209.2,467.9 1209.7,471.9 1210.1,460.0 1210.5,463.6 1210.9,458.8 1211.4,473.4 1211.8,437.8 1212.2,457.0 1212.6,448.5 1213.1,467.1 1213.5,476.8 1213.9,475.8 1214.4,471.2 1214.8,467.5 1215.2,458.6 1215.6,476.0 1216.1,470.7 1216.5,457.8 1216.9,454.0 1217.3,459.7 1217.8,474.6 1218.2,476.1 1218.6,479.2 1219.0,458.3 1219.5,461.9 1219.9,477.1 1220.3,466.9 1220.7,471.6 1221.2,453.2 1221.6,461.5 1222.0,464.5 1222.4,461.5 1222.9,460.9 1223.3,450.2 1223.7,478.7 1224.2,465.6 1224.6,451.5 1225.0,473.6 1225.4,464.7 1225.9,470.4 1226.3,462.3 1226.7,457.1 1227.1,457.3 1227.6,466.9 1228.0,470.6 1228.4,468.0 1228.8,469.3 1229.3,474.1 1229.7,466.1 1230.1,472.3 1230.5,473.1 1231.0,465.9 1231.4,462.7 1231.8,459.5 1232.2,452.7 1232.7,449.5 1233.1,474.6 1233.5,462.9 1234.0,458.2 1234.4,476.7 1234.8,471.4 1235.2,463.3 1235.7,471.5 1236.1,461.0 1236.5,465.8 1236.9,478.5 1237.4,471.8 1237.8,460.1 1238.2,468.5 1238.6,472.7 1239.1,461.3 1239.5,458.6 1239.9,478.6 1240.3,459.6 1240.8,450.6 1241.2,463.3 1241.6,482.1 1242.0,467.5 1242.5,470.4 1242.9,443.0 1243.3,457.1 1243.8,472.5 1244.2,458.4 1244.6,473.4 1245.0,466.0 1245.5,465.3 1245.9,476.5 1246.3,457.3 1246.7,457.6 1247.2,462.5 1247.6,463.5 1248.0,446.6 1248.4,472.2 1248.9,463.4 1249.3,459.8 1249.7,466.7 1250.1,457.7 1250.6,471.6 1251.0,461.5 1251.4,467.1 1251.8,452.9 1252.3,458.2 1252.7,463.7 1253.1,452.1 1253.6,454.4 1254.0,459.6 1254.4,469.7 1254.8,466.5 1255.3,467.6 1255.7,462.3 1256.1,467.4 1256.5,472.9 1257.0,460.7 1257.4,462.9 1257.8,464.1 1258.2,441.4 1258.7,457.9 1259.1,462.3 1259.5,465.1 1259.9,455.6 1260.4,466.8 1260.8,452.6 1261.2,456.5 1261.7,472.6 1262.1,446.0 1262.5,457.0 1262.9,456.2 1263.4,456.6 1263.8,452.6 1264.2,462.8 1264.6,447.6 1265.1,445.3 1265.5,460.9 1265.9,446.2 1266.3,459.8 1266.8,456.5 1267.2,450.2 1267.6,453.1 1268.0,455.1 1268.5,459.7 1268.9,450.2 1269.3,453.7 1269.7,442.9 1270.2,452.9 1270.6,438.4 1271.0,454.6 1271.5,450.9 1271.9,473.0 1272.3,465.8 1272.7,453.2 1273.2,462.6 1273.6,456.7 1274.0,444.0 1274.4,432.7 1274.9,463.5 1275.3,457.1 1275.7,436.4 1276.1,459.0 1276.6,461.3 1277.0,447.2 1277.4,459.9 1277.8,437.9 1278.3,450.9 1278.7,453.0 1279.1,459.4 1279.5,455.9 1280.0,454.2 1280.4,457.1 1280.8,446.4 1281.3,465.0 1281.7,449.0 1282.1,458.8 1282.5,451.7 1283.0,449.5 1283.4,456.7 1283.8,455.4 1284.2,463.1 1284.7,460.7 1285.1,446.3 1285.5,455.5 1285.9,451.9 1286.4,444.0 1286.8,441.3 1287.2,453.0 1287.6,446.0 1288.1,438.5 1288.5,449.7 1288.9,452.4 1289.3,451.2 1289.8,439.7 1290.2,445.1 1290.6,462.1 1291.1,443.3 1291.5,447.0 1291.9,470.0 1292.3,452.8 1292.8,445.2 1293.2,432.5 1293.6,452.1 1294.0,437.2 1294.5,449.0 1294.9,441.6 1295.3,434.4 1295.7,463.4 1296.2,448.0 1296.6,456.8 1297.0,455.2 1297.4,442.2 1297.9,449.3 1298.3,445.3 1298.7,456.8 1299.1,452.0 1299.6,445.0 1300.0,462.6 1300.4,452.5 1300.9,451.9 1301.3,440.9 1301.7,451.3 1302.1,434.8 1302.6,451.6 1303.0,439.3 1303.4,449.0 1303.8,444.8 1304.3,449.2 1304.7,450.2 1305.1,446.5 1305.5,446.4 1306.0,433.8 1306.4,430.1 1306.8,457.7 1307.2,451.6 1307.7,433.5 1308.1,463.1 1308.5,440.0 1308.9,450.7 1309.4,449.8 1309.8,447.0 1310.2,451.3 1310.7,434.0 1311.1,445.6 1311.5,443.7 1311.9,446.7 1312.4,443.5 1312.8,440.3 1313.2,439.5 1313.6,453.6 1314.1,438.4 1314.5,449.0 1314.9,448.9 1315.3,445.0 1315.8,449.5 1316.2,450.5 1316.6,441.1 1317.0,448.7 1317.5,462.4 1317.9,436.4 1318.3,443.1 1318.7,439.0 1319.2,463.1 1319.6,433.4 1320.0,445.7 1320.5,453.8 1320.9,438.0 1321.3,444.4 1321.7,439.4 1322.2,433.9 1322.6,445.0 1323.0,449.9 1323.4,442.1 1323.9,447.0 1324.3,451.5 1324.7,455.9 1325.1,434.7 1325.6,450.8 1326.0,440.0 1326.4,429.0 1326.8,438.6 1327.3,451.0 1327.7,448.1 1328.1,435.8 1328.5,459.4 1329.0,448.9 1329.4,444.7 1329.8,440.6 1330.3,449.0 1330.7,441.9 1331.1,455.2 1331.5,448.0 1332.0,450.6 1332.4,442.6 1332.8,432.3 1333.2,449.8 1333.7,436.4 1334.1,444.3 1334.5,445.1 1334.9,438.4 1335.4,452.9 1335.8,432.7 1336.2,458.1 1336.6,440.0 1337.1,453.5 1337.5,456.4 1337.9,437.5 1338.3,438.6 1338.8,453.2 1339.2,446.7 1339.6,445.7 1340.1,429.1 1340.5,430.6 1340.9,449.6 1341.3,457.3 1341.8,438.6 1342.2,437.2 1342.6,446.5 1343.0,448.6 1343.5,449.4 1343.9,440.6 1344.3,427.5 1344.7,457.1 1345.2,440.0 1345.6,455.2 1346.0,426.9 1346.4,447.4 1346.9,439.7 1347.3,434.6 1347.7,452.4 1348.2,455.1 1348.6,438.8 1349.0,449.4 1349.4,434.4 1349.9,438.3 1350.3,441.5 1350.7,440.6 1351.1,449.1 1351.6,433.0 1352.0,451.8 1352.4,451.7 1352.8,441.4 1353.3,432.9 1353.7,422.5 1354.1,442.6 1354.5,436.8 1355.0,443.9 1355.4,433.8 1355.8,442.9 1356.2,442.3 1356.7,442.9 1357.1,445.2 1357.5,445.2 1358.0,451.0 1358.4,435.8 1358.8,448.7 1359.2,443.8 1359.7,438.8 1360.1,433.7 1360.5,454.9 1360.9,444.3 1361.4,437.7 1361.8,442.7 1362.2,442.1 1362.6,437.5 1363.1,430.0 1363.5,443.2 1363.9,440.4 1364.3,439.3 1364.8,450.2 1365.2,430.3 1365.6,433.4 1366.0,442.9 1366.5,448.7 1366.9,446.7 1367.3,447.7 1367.8,422.3 1368.2,445.6 1368.6,444.8 1369.0,447.1 1369.5,435.2 1369.9,445.5 1370.3,449.7 1370.7,454.8 1371.2,443.0 1371.6,429.2 1372.0,441.1 1372.4,446.1 1372.9,444.9 1373.3,457.0 1373.7,438.6 1374.1,431.4 1374.6,434.7 1375.0,445.8 1375.4,433.1 1375.8,430.9 1376.3,432.6 1376.7,450.2 1377.1,441.7 1377.6,436.7 1378.0,446.8 1378.4,445.3 1378.8,430.9 1379.3,446.4 1379.7,441.3 1380.1,421.2 1380.5,428.7 1381.0,441.2 1381.4,443.0 1381.8,436.3 1382.2,430.0 1382.7,440.7 1383.1,422.7 1383.5,443.2 1383.9,437.0 1384.4,438.0 1384.8,432.5 1385.2,445.3 1385.6,417.9 1386.1,430.4 1386.5,442.8 1386.9,431.7 1387.4,450.3 1387.8,441.3 1388.2,430.9 1388.6,447.0 1389.1,436.6 1389.5,442.4 1389.9,431.9 1390.3,432.0 1390.8,443.3 1391.2,437.9 1391.6,430.4 1392.0,429.3 1392.5,442.4 1392.9,452.0 1393.3,429.4 1393.7,442.5 1394.2,411.4 1394.6,424.5 1395.0,442.2 1395.4,450.0 1395.9,436.8 1396.3,440.9 1396.7,438.3 1397.2,444.7 1397.6,426.5 1398.0,441.3 1398.4,432.0 1398.9,432.7 1399.3,435.5 1399.7,433.7 1400.1,428.8 1400.6,433.1 1401.0,427.0 1401.4,447.8 1401.8,440.9 1402.3,431.2 1402.7,448.4 1403.1,445.6 1403.5,438.6 1404.0,429.6 1404.4,436.4 1404.8,439.0 1405.2,445.9 1405.7,432.2 1406.1,428.7 1406.5,453.3 1407.0,445.4 1407.4,435.9 1407.8,425.2 1408.2,437.2 1408.7,442.5 1409.1,439.3 1409.5,439.7 1409.9,432.9 1410.4,442.2 1410.8,427.0 1411.2,428.3 1411.6,427.6 1412.1,426.2 1412.5,448.6 1412.9,416.9 1413.3,433.5 1413.8,422.8 1414.2,420.4 1414.6,431.9 1415.0,417.3 1415.5,430.0 1415.9,450.5 1416.3,429.5 1416.8,434.3 1417.2,422.9 1417.6,434.3 1418.0,417.0 1418.5,431.5 1418.9,428.6 1419.3,448.3 1419.7,428.6 1420.2,426.1 1420.6,424.2 1421.0,418.5 1421.4,435.5 1421.9,441.2 1422.3,425.3 1422.7,434.5 1423.1,425.2 1423.6,431.6 1424.0,432.0 1424.4,415.4 1424.8,421.0 1425.3,435.7 1425.7,410.8 1426.1,427.4 1426.6,424.2 1427.0,418.9 1427.4,427.3 1427.8,429.4 1428.3,431.3 1428.7,403.6 1429.1,441.0 1429.5,422.1 1430.0,435.2 1430.4,425.0 1430.8,421.0 1431.2,425.4 1431.7,453.6 1432.1,439.6 1432.5,422.9 1432.9,427.9 1433.4,435.6 1433.8,430.9 1434.2,426.5 1434.6,424.1 1435.1,416.3 1435.5,432.2 1435.9,435.3 1436.4,445.1 1436.8,420.8 1437.2,431.3 1437.6,425.3 1438.1,436.5 1438.5,424.6 1438.9,419.8 1439.3,410.6 1439.8,431.6 1440.2,426.8 1440.6,435.2 1441.0,420.5 1441.5,448.0 1441.9,419.0 1442.3,429.7 1442.7,428.8 1443.2,434.8 1443.6,423.7 1444.0,417.1 1444.5,416.4 1444.9,432.2 1445.3,425.9 1445.7,428.0 1446.2,417.8 1446.6,426.1 1447.0,426.8 1447.4,430.2 1447.9,412.0 1448.3,418.1 1448.7,439.9 1449.1,421.3 1449.6,424.0 1450.0,421.2 1450.4,411.5 1450.8,415.2 1451.3,427.8 1451.7,418.7 1452.1,442.3 1452.5,411.4 1453.0,407.5 1453.4,421.0 1453.8,413.8 1454.3,436.5 1454.7,420.6 1455.1,428.8 1455.5,411.9 1456.0,430.1 1456.4,429.8 1456.8,435.0 1457.2,426.1 1457.7,428.6 1458.1,425.5 1458.5,432.1 1458.9,420.4 1459.4,428.7 1459.8,418.9 1460.2,430.1 1460.6,421.5 1461.1,418.2 1461.5,418.0 1461.9,436.8 1462.3,410.2 1462.8,410.9 1463.2,429.5 1463.6,415.2 1464.1,419.8 1464.5,419.6 1464.9,443.9 1465.3,418.0 1465.8,417.6 1466.2,420.5 1466.6,425.9 1467.0,428.3 1467.5,411.0 1467.9,427.9 1468.3,441.1 1468.7,408.2 1469.2,429.0 1469.6,430.7 1470.0,425.3 1470.4,422.2 1470.9,403.3 1471.3,434.5 1471.7,421.1 1472.1,422.1 1472.6,434.7 1473.0,403.4 1473.4,423.4 1473.9,429.2 1474.3,430.3 1474.7,429.3 1475.1,441.9 1475.6,426.5 1476.0,432.9 1476.4,430.8 1476.8,410.9 1477.3,417.2 1477.7,442.3 1478.1,421.6 1478.5,423.4 1479.0,412.4 1479.4,421.0 1479.8,412.4 1480.2,418.6 1480.7,428.9 1481.1,416.7 1481.5,418.6 1481.9,435.8 1482.4,428.1 1482.8,428.5 1483.2,432.8 1483.7,419.1 1484.1,420.6 1484.5,405.9 1484.9,430.5 1485.4,422.2 1485.8,424.0 1486.2,414.4 1486.6,429.5 1487.1,429.5 1487.5,425.6 1487.9,410.0 1488.3,416.6 1488.8,423.7 1489.2,416.6 1489.6,427.4 1490.0,432.9 1490.5,417.2 1490.9,422.1 1491.3,417.6 1491.7,432.6 1492.2,431.3 1492.6,446.7 1493.0,423.2 1493.5,414.7 1493.9,426.5 1494.3,420.7 1494.7,424.3 1495.2,433.4 1495.6,419.8 1496.0,428.6 1496.4,403.4 1496.9,431.3 1497.3,423.0 1497.7,419.6 1498.1,417.2 1498.6,434.0 1499.0,416.9 1499.4,432.4 1499.8,416.6 1500.3,421.4 1500.7,424.0 1501.1,438.6 1501.5,422.8 1502.0,422.6 1502.4,419.8 1502.8,417.6 1503.3,414.8 1503.7,436.0 1504.1,432.9 1504.5,413.7 1505.0,421.0 1505.4,409.1 1505.8,427.7 1506.2,425.3 1506.7,420.1 1507.1,411.9 1507.5,425.7 1507.9,424.2 1508.4,417.0 1508.8,425.0 1509.2,406.5 1509.6,412.9 1510.1,409.7 1510.5,418.8 1510.9,432.3 1511.3,417.7 1511.8,427.1 1512.2,416.5 1512.6,412.9 1513.1,425.3 1513.5,420.8 1513.9,428.3 1514.3,424.1 1514.8,408.0 1515.2,392.4 1515.6,415.9 1516.0,404.0 1516.5,401.7 1516.9,400.8 1517.3,408.0 1517.7,411.7 1518.2,413.2 1518.6,431.0 1519.0,401.9 1519.4,412.3 1519.9,401.1 1520.3,403.1 1520.7,412.2 1521.1,415.1 1521.6,399.7 1522.0,421.0 1522.4,402.3 1522.9,418.8 1523.3,409.6 1523.7,417.9 1524.1,414.6 1524.6,406.8 1525.0,413.3 1525.4,396.9 1525.8,397.0 1526.3,405.1 1526.7,420.2 1527.1,401.1 1527.5,402.2 1528.0,422.0 1528.4,407.4 1528.8,406.7 1529.2,397.1 1529.7,406.8 1530.1,411.2 1530.5,405.2 1530.9,412.3 1531.4,408.1 1531.8,414.3 1532.2,412.0 1532.7,403.2 1533.1,411.9 1533.5,420.0 1533.9,406.4 1534.4,392.5 1534.8,404.8 1535.2,401.1 1535.6,425.7 1536.1,409.1 1536.5,392.3 1536.9,400.2 1537.3,414.6 1537.8,391.0 1538.2,396.7 1538.6,400.8 1539.0,399.2 1539.5,395.0 1539.9,401.2 1540.3,387.2 1540.8,394.5 1541.2,394.1 1541.6,396.6 1542.0,396.4 1542.5,398.9 1542.9,395.6 1543.3,394.8 1543.7,401.6 1544.2,406.2 1544.6,406.6 1545.0,387.6 1545.4,399.9 1545.9,404.1 1546.3,394.9 1546.7,401.3 1547.1,395.0 1547.6,400.2 1548.0,383.0 1548.4,400.6 1548.8,392.0 1549.3,389.5 1549.7,393.3 1550.1,404.6 1550.6,404.0 1551.0,397.6 1551.4,402.9 1551.8,391.4 1552.3,383.8 1552.7,378.1 1553.1,394.3 1553.5,393.1 1554.0,394.5 1554.4,394.6 1554.8,404.7 1555.2,385.5 1555.7,386.6 1556.1,410.5 1556.5,400.0 1556.9,390.3 1557.4,374.6 1557.8,385.0 1558.2,389.2 1558.6,391.5 1559.1,393.8 1559.5,389.9 1559.9,402.0 1560.4,381.0 1560.8,388.8 1561.2,385.1 1561.6,397.9 1562.1,392.4 1562.5,397.6 1562.9,391.1 1563.3,419.1 1563.8,396.5 1564.2,383.1 1564.6,389.6 1565.0,385.8 1565.5,396.0 1565.9,397.7 1566.3,392.3 1566.7,387.1 1567.2,382.5 1567.6,402.7 1568.0,398.2 1568.4,361.7 1568.9,388.4 1569.3,380.1 1569.7,384.1 1570.2,402.4 1570.6,376.9 1571.0,377.6 1571.4,408.7 1571.9,382.3 1572.3,384.2 1572.7,396.4 1573.1,381.4 1573.6,386.1 1574.0,387.8 1574.4,398.1 1574.8,370.8 1575.3,377.6 1575.7,383.8 1576.1,392.9 1576.5,378.8 1577.0,388.5 1577.4,379.6 1577.8,380.4 1578.2,395.2 1578.7,381.5 1579.1,410.0 1579.5,386.4 1580.0,393.1 1580.4,389.3 1580.8,368.3 1581.2,368.0 1581.7,385.8 1582.1,371.1 1582.5,375.7 1582.9,377.2 1583.4,371.6 1583.8,390.0 1584.2,386.0 1584.6,380.2 1585.1,383.2 1585.5,369.6 1585.9,385.2 1586.3,369.3 1586.8,390.6 1587.2,370.2 1587.6,370.8 1588.0,385.8 1588.5,380.8 1588.9,366.0 1589.3,379.6 1589.8,373.7 1590.2,373.5 1590.6,378.5 1591.0,378.1 1591.5,381.3 1591.9,376.1 1592.3,374.3 1592.7,370.0 1593.2,384.0 1593.6,363.1 1594.0,386.9 1594.4,389.0 1594.9,388.4 1595.3,367.3 1595.7,387.1 1596.1,378.1 1596.6,377.0 1597.0,395.7 1597.4,368.3 1597.8,371.3 1598.3,354.4 1598.7,345.3 1599.1,367.5 1599.6,368.4 1600.0,370.5 1600.4,366.7 1600.8,345.8 1601.3,367.0 1601.7,373.5 1602.1,377.4 1602.5,354.5 1603.0,354.9 1603.4,356.5 1603.8,356.8 1604.2,347.7 1604.7,356.0 1605.1,376.3 1605.5,352.3 1605.9,344.8 1606.4,359.0 1606.8,356.7 1607.2,367.3 1607.6,354.2 1608.1,359.1 1608.5,353.0 1608.9,351.6 1609.4,363.6 1609.8,361.2 1610.2,359.4 1610.6,364.4 1611.1,352.1 1611.5,359.6 1611.9,361.1 1612.3,369.7 1612.8,341.7 1613.2,355.5 1613.6,362.6 1614.0,353.1 1614.5,359.0 1614.9,364.2 1615.3,362.2 1615.7,342.0 1616.2,346.6 1616.6,331.7 1617.0,363.1 1617.4,358.9 1617.9,369.0 1618.3,357.1 1618.7,346.1 1619.2,366.0 1619.6,344.1 1620.0,355.9 1620.4,354.1 1620.9,363.0 1621.3,364.2 1621.7,352.1 1622.1,349.3 1622.6,355.5 1623.0,350.7 1623.4,364.6 1623.8,359.4 1624.3,368.6 1624.7,379.7 1625.1,348.1 1625.5,350.5 1626.0,360.3 1626.4,359.6 1626.8,352.8 1627.2,340.3 1627.7,379.1 1628.1,356.7 1628.5,345.3 1629.0,334.1 1629.4,368.7 1629.8,359.0 1630.2,356.0 1630.7,346.5 1631.1,355.0 1631.5,352.4 1631.9,333.2 1632.4,380.4 1632.8,360.0 1633.2,352.8 1633.6,347.1 1634.1,350.4 1634.5,378.1 1634.9,359.5 1635.3,343.7 1635.8,364.1 1636.2,360.5 1636.6,360.7 1637.1,354.7 1637.5,354.4 1637.9,357.9 1638.3,354.0 1638.8,343.0 1639.2,346.7 1639.6,356.0 1640.0,341.2 1640.5,354.5 1640.9,352.7 1641.3,362.2 1641.7,356.9 1642.2,352.5 1642.6,352.4 1643.0,359.0 1643.4,363.5 1643.9,344.9 1644.3,340.6 1644.7,347.6 1645.1,333.2 1645.6,347.0 1646.0,361.7 1646.4,363.0 1646.9,367.9 1647.3,354.3 1647.7,355.0 1648.1,348.0 1648.6,348.5 1649.0,355.8 1649.4,361.4 1649.8,356.9 1650.3,334.2 1650.7,357.2 1651.1,352.6 1651.5,347.0 1652.0,353.6 1652.4,360.4 1652.8,353.3 1653.2,345.2 1653.7,381.0 1654.1,345.8 1654.5,355.8 1654.9,362.9 1655.4,343.3 1655.8,356.2 1656.2,343.2 1656.7,348.4 1657.1,343.7 1657.5,366.8 1657.9,337.8 1658.4,355.1 1658.8,350.5 1659.2,331.8 1659.6,365.9 1660.1,344.6 1660.5,347.2 1660.9,351.5 1661.3,340.9 1661.8,342.0 1662.2,348.6 1662.6,340.7 1663.0,349.5 1663.5,360.1 1663.9,338.9 1664.3,333.5 1664.7,346.7 1665.2,351.4 1665.6,353.7 1666.0,337.3 1666.5,325.5 1666.9,355.1 1667.3,353.4 1667.7,360.6 1668.2,337.7 1668.6,351.6 1669.0,355.5 1669.4,329.1 1669.9,355.6 1670.3,358.8 1670.7,350.9 1671.1,350.3 1671.6,352.0 1672.0,342.6 1672.4,331.6 1672.8,336.2 1673.3,342.9 1673.7,336.5 1674.1,353.6 1674.5,340.2 1675.0,342.8 1675.4,327.4 1675.8,347.1 1676.3,336.8 1676.7,357.0 1677.1,327.1 1677.5,345.8 1678.0,338.9 1678.4,339.1 1678.8,357.9 1679.2,350.9 1679.7,334.1 1680.1,354.6 1680.5,335.7 1680.9,348.9 1681.4,325.6 1681.8,338.5 1682.2,338.7 1682.6,338.2 1683.1,326.6 1683.5,323.7 1683.9,340.9 1684.3,346.5 1684.8,341.2 1685.2,337.6 1685.6,326.8 1686.1,338.1 1686.5,335.4 1686.9,333.8 1687.3,342.0 1687.8,341.8 1688.2,343.9 1688.6,337.7 1689.0,332.3 1689.5,338.1 1689.9,337.0 1690.3,324.7 1690.7,336.4 1691.2,324.3 1691.6,321.3 1692.0,331.8 1692.4,333.4 1692.9,345.6 1693.3,336.3 1693.7,343.9 1694.1,352.2 1694.6,340.0 1695.0,342.3 1695.4,332.3 1695.9,346.1 1696.3,339.1 1696.7,339.0 1697.1,328.0 1697.6,329.7 1698.0,332.0 1698.4,339.0 1698.8,348.0 1699.3,324.0 1699.7,334.5 1700.1,334.9 1700.5,358.5 1701.0,335.6 1701.4,332.3 1701.8,344.0 1702.2,326.8 1702.7,341.8 1703.1,321.3 1703.5,355.1 1703.9,335.9 1704.4,332.3 1704.8,324.0 1705.2,334.5 1705.7,336.5 1706.1,328.9 1706.5,346.4 1706.9,332.3 1707.4,336.0 1707.8,337.6 1708.2,347.4 1708.6,331.2 1709.1,335.2 1709.5,337.1 1709.9,339.9 1710.3,317.3 1710.8,344.6 1711.2,332.7 1711.6,327.1 1712.0,333.3 1712.5,315.7 1712.9,326.2 1713.3,334.9 1713.7,345.5 1714.2,332.1 1714.6,336.4 1715.0,329.9 1715.5,340.4 1715.9,328.6 1716.3,336.4 1716.7,328.9 1717.2,322.9 1717.6,322.5 1718.0,325.6 1718.4,342.1 1718.9,360.7 1719.3,329.3 1719.7,324.2 1720.1,335.7 1720.6,335.1 1721.0,325.4 1721.4,347.8 1721.8,338.0 1722.3,338.4 1722.7,330.0 1723.1,330.4 1723.5,338.0 1724.0,315.9 1724.4,321.1 1724.8,329.1 1725.3,314.6 1725.7,343.0 1726.1,321.9 1726.5,323.4 1727.0,330.2 1727.4,340.9 1727.8,326.3 1728.2,319.4 1728.7,317.6 1729.1,328.1 1729.5,320.4 1729.9,347.5 1730.4,336.9 1730.8,295.8 1731.2,316.2 1731.6,327.9 1732.1,345.8 1732.5,305.5 1732.9,319.8 1733.4,334.8 1733.8,317.0 1734.2,323.8 1734.6,318.3 1735.1,328.9 1735.5,312.3 1735.9,322.5 1736.3,308.6 1736.8,330.8 1737.2,327.1 1737.6,321.0 1738.0,321.4 1738.5,321.1 1738.9,317.2 1739.3,321.8 1739.7,323.5 1740.2,319.3 1740.6,314.2 1741.0,315.7 1741.4,315.0 1741.9,323.3 1742.3,320.3 1742.7,336.9 1743.2,316.8 1743.6,318.9 1744.0,312.2 1744.4,318.7 1744.9,313.5 1745.3,309.4 1745.7,318.6 1746.1,331.7 1746.6,308.7 1747.0,310.5 1747.4,315.9 1747.8,318.4 1748.3,327.9 1748.7,309.6 1749.1,314.1 1749.5,307.8 1750.0,306.9 1750.4,310.4 1750.8,304.2 1751.2,318.4 1751.7,323.8 1752.1,309.0 1752.5,307.1 1753.0,325.6 1753.4,311.1 1753.8,326.7 1754.2,285.8 1754.7,310.9 1755.1,302.8 1755.5,307.1 1755.9,319.3 1756.4,321.6 1756.8,309.8 1757.2,319.8 1757.6,300.6 1758.1,313.2 1758.5,309.1 1758.9,294.5 1759.3,318.5 1759.8,303.6 1760.2,313.7 1760.6,302.3 1761.0,310.8 1761.5,314.6 1761.9,308.7 1762.3,304.1 1762.8,313.9 1763.2,310.0 1763.6,303.9 1764.0,308.0 1764.5,306.6 1764.9,304.0 1765.3,315.3 1765.7,322.8 1766.2,301.7 1766.6,305.1 1767.0,297.3 1767.4,293.4 1767.9,316.0 1768.3,299.1 1768.7,308.2 1769.1,292.3 1769.6,298.7 1770.0,308.7 1770.4,308.5 1770.8,306.1 1771.3,307.4 1771.7,305.4 1772.1,312.5 1772.6,318.7 1773.0,307.9 1773.4,301.4 1773.8,292.7 1774.3,297.5 1774.7,298.8 1775.1,314.9 1775.5,286.9 1776.0,293.7 1776.4,291.3 1776.8,308.6 1777.2,293.9 1777.7,283.1 1778.1,280.8 1778.5,302.5 1778.9,284.2 1779.4,309.3 1779.8,308.7 1780.2,288.1 1780.6,295.3 1781.1,298.4 1781.5,284.2 1781.9,286.4 1782.4,291.7 1782.8,297.0 1783.2,299.7 1783.6,279.6 1784.1,299.0 1784.5,295.5 1784.9,293.9 1785.3,291.9 1785.8,305.5 1786.2,310.3 1786.6,291.4 1787.0,293.8 1787.5,280.5 1787.9,291.3 1788.3,301.2 1788.7,293.7 1789.2,297.8 1789.6,293.3 1790.0,295.0 1790.4,300.1 1790.9,300.9 1791.3,275.5 1791.7,291.4 1792.2,266.3 1792.6,293.2 1793.0,287.9 1793.4,287.3 1793.9,307.1 1794.3,295.7 1794.7,302.7 1795.1,297.9 1795.6,307.5 1796.0,289.4 1796.4,289.2 1796.8,290.5 1797.3,313.9 1797.7,287.0 1798.1,291.1 1798.5,303.4 1799.0,299.0 1799.4,285.7 1799.8,306.2 1800.2,294.1 1800.7,302.4 1801.1,294.0 1801.5,294.9 1802.0,280.2 1802.4,299.6 1802.8,279.3 1803.2,285.9 1803.7,294.6 1804.1,280.7 1804.5,284.3 1804.9,282.7 1805.4,283.4 1805.8,286.8 1806.2,266.8 1806.6,275.2 1807.1,298.6 1807.5,260.6 1807.9,272.2 1808.3,284.9 1808.8,259.8 1809.2,268.2 1809.6,268.1 1810.0,289.5 1810.5,266.2 1810.9,279.5 1811.3,267.2 1811.8,272.5 1812.2,261.2 1812.6,257.4 1813.0,266.1 1813.5,257.0 1813.9,267.5 1814.3,269.6 1814.7,271.7 1815.2,281.4 1815.6,279.8 1816.0,255.7 1816.4,258.4 1816.9,280.4 1817.3,263.5 1817.7,259.8 1818.1,272.7 1818.6,256.3 1819.0,270.2 1819.4,258.1 1819.8,272.2 1820.3,258.3 1820.7,266.8 1821.1,268.6 1821.6,273.3 1822.0,250.4 1822.4,253.8 1822.8,243.7 1823.3,240.4 1823.7,251.3 1824.1,257.0 1824.5,266.6 1825.0,250.7 1825.4,271.8 1825.8,255.3 1826.2,261.3 1826.7,250.3 1827.1,240.5 1827.5,266.4 1827.9,248.5 1828.4,261.1 1828.8,246.9 1829.2,255.3 1829.7,247.9 1830.1,245.7 1830.5,247.0 1830.9,254.3 1831.4,236.3 1831.8,238.0 1832.2,255.6 1832.6,239.2 1833.1,247.3 1833.5,232.6 1833.9,242.6 1834.3,254.3 1834.8,244.5 1835.2,245.1 1835.6,239.1 1836.0,243.2 1836.5,225.2 1836.9,226.1 1837.3,244.6 1837.7,223.9 1838.2,252.0 1838.6,247.3 1839.0,227.7 1839.5,218.2 1839.9,215.5 1840.3,240.6 1840.7,236.7 1841.2,249.9 1841.6,241.6 1842.0,251.6 1842.4,245.1 1842.9,228.0 1843.3,234.9 1843.7,228.6 1844.1,233.4 1844.6,231.4 1845.0,233.9 1845.4,248.5 1845.8,230.6 1846.3,224.5 1846.7,229.5 1847.1,230.8 1847.5,229.7 1848.0,233.4 1848.4,230.8 1848.8,245.0 1849.3,243.0 1849.7,227.3 1850.1,243.4 1850.5,247.1 1851.0,234.0 1851.4,226.0 1851.8,237.7 1852.2,232.8 1852.7,236.5 1853.1,223.4 1853.5,252.6 1853.9,231.2 1854.4,237.8 1854.8,227.2 1855.2,234.0 1855.6,211.2 1856.1,220.2 1856.5,209.2 1856.9,241.2 1857.3,219.0 1857.8,217.3 1858.2,242.1 1858.6,226.9 1859.1,229.8 1859.5,241.2 1859.9,235.7 1860.3,233.9 1860.8,236.9 1861.2,212.6 1861.6,242.6 1862.0,242.8 1862.5,247.5 1862.9,210.7 1863.3,222.2 1863.7,224.7 1864.2,245.6 1864.6,234.9 1865.0,246.0 1865.4,233.6 1865.9,223.3 1866.3,217.1 1866.7,223.7 1867.1,241.8 1867.6,220.8 1868.0,212.0"/>
<polyline stroke="#ff0000" points="164.0,838.8 164.4,833.1 164.9,833.9 165.3,817.8 165.7,851.1 166.1,845.9 166.6,834.2 167.0,842.8 167.4,838.8 167.8,832.1 168.3,844.1 168.7,833.8 169.1,833.6 169.5,829.8 170.0,839.6 170.4,835.1 170.8,840.1 171.2,830.9 171.7,836.6 172.1,828.5 172.5,842.0 172.9,836.8 173.4,837.8 173.8,838.4 174.2,827.1 174.7,841.1 175.1,851.0 175.5,821.8 175.9,821.0 176.4,822.7 176.8,841.1 177.2,835.4 177.6,842.8 178.1,839.9 178.5,835.7 178.9,836.2 179.3,832.5 179.8,840.6 180.2,824.8 180.6,830.3 181.0,835.4 181.5,847.6 181.9,827.3 182.3,824.7 182.7,828.7 183.2,840.7 183.6,831.1 184.0,843.3 184.5,818.0 184.9,841.5 185.3,840.7 185.7,821.3 186.2,833.6 186.6,841.8 187.0,832.9 187.4,839.9 187.9,850.7 188.3,834.0 188.7,829.6 189.1,825.6 189.6,836.7 190.0,829.9 190.4,830.0 190.8,830.5 191.3,836.3 191.7,822.7 192.1,819.0 192.5,811.8 193.0,840.3 193.4,831.3 193.8,842.5 194.3,830.5 194.7,824.6 195.1,834.1 195.5,829.6 196.0,820.3 196.4,823.1 196.8,843.9 197.2,832.7 197.7,833.0 198.1,827.5 198.5,824.1 198.9,836.5 199.4,828.6 199.8,823.3 200.2,828.1 200.6,822.0 201.1,830.5 201.5,837.8 201.9,822.2 202.3,840.0 202.8,823.4 203.2,829.7 203.6,821.8 204.1,826.6 204.5,828.6 204.9,824.7 205.3,822.5 205.8,822.6 206.2,821.4 206.6,815.4 207.0,825.6 207.5,830.7 207.9,834.6 208.3,832.5 208.7,846.6 209.2,829.7 209.6,823.5 210.0,841.7 210.4,818.7 210.9,834.5 211.3,819.3 211.7,829.6 212.2,811.3 212.6,833.8 213.0,825.5 213.4,819.0 213.9,839.8 214.3,832.6 214.7,826.9 215.1,820.6 215.6,826.1 216.0,825.1 216.4,832.1 216.8,832.6 217.3,821.0 217.7,821.9 218.1,822.0 218.5,815.5 219.0,821.4 219.4,825.3 219.8,831.5 220.2,836.4 220.7,819.6 221.1,830.2 221.5,822.3 222.0,842.1 222.4,825.4 222.8,829.7 223.2,818.3 223.7,819.3 224.1,827.2 224.5,822.5 224.9,828.3 225.4,813.2 225.8,830.6 226.2,818.3 226.6,838.9 227.1,823.0 227.5,833.9 227.9,814.2 228.3,828.5 228.8,818.1 229.2,821.2 229.6,825.2 230.0,822.5 230.5,827.0 230.9,830.8 231.3,830.0 231.8,824.1 232.2,814.0 232.6,818.4 233.0,823.2 233.5,807.9 233.9,830.5 234.3,822.7 234.7,822.5 235.2,832.0 235.6,829.7 236.0,826.1 236.4,816.5 236.9,826.8 237.3,827.0 237.7,817.3 238.1,832.4 238.6,828.1 239.0,808.6 239.4,825.0 239.8,814.1 240.3,832.9 240.7,830.3 241.1,815.2 241.6,816.9 242.0,824.6 242.4,821.9 242.8,835.7 243.3,829.5 243.7,821.4 244.1,828.1 244.5,807.5 245.0,825.9 245.4,830.3 245.8,822.0 246.2,817.8 246.7,827.8 247.1,838.7 247.5,824.9 247.9,814.4 248.4,834.5 248.8,808.3 249.2,827.0 249.6,818.5 250.1,830.3 250.5,816.3 250.9,833.3 251.4,825.2 251.8,809.2 252.2,807.2 252.6,820.2 253.1,832.9 253.5,823.7 253.9,823.1 254.3,820.7 254.8,828.3 255.2,825.5 255.6,824.6 256.0,814.6 256.5,831.7 256.9,833.0 257.3,812.0 257.7,840.3 258.2,827.9 258.6,818.3 259.0,807.1 259.4,827.2 259.9,826.4 260.3,817.3 260.7,807.8 261.2,830.7 261.6,817.2 262.0,818.1 262.4,844.2 262.9,838.5 263.3,829.2 263.7,818.0 264.1,826.7 264.6,803.6 265.0,822.3 265.4,815.5 265.8,811.3 266.3,808.9 266.7,825.5 267.1,822.0 267.5,822.5 268.0,827.8 268.4,814.5 268.8,811.4 269.2,807.1 269.7,818.4 270.1,827.0 270.5,819.8 271.0,826.0 271.4,811.6 271.8,817.1 272.2,814.7 272.7,810.9 273.1,835.3 273.5,827.4 273.9,814.6 274.4,814.5 274.8,820.1 275.2,809.1 275.6,823.9 276.1,810.2 276.5,817.4 276.9,812.2 277.3,816.5 277.8,809.7 278.2,807.8 278.6,812.5 279.0,814.7 279.5,817.7 279.9,820.6 280.3,832.0 280.8,826.3 281.2,817.9 281.6,825.6 282.0,814.4 282.5,831.2 282.9,824.0 283.3,809.0 283.7,825.6 284.2,826.0 284.6,798.4 285.0,813.6 285.4,815.7 285.9,804.2 286.3,811.0 286.7,811.9 287.1,823.3 287.6,821.6 288.0,839.9 288.4,816.1 288.8,828.2 289.3,819.7 289.7,821.2 290.1,809.8 290.6,803.9 291.0,812.8 291.4,824.8 291.8,831.1 292.3,823.4 292.7,822.5 293.1,811.9 293.5,830.5 294.0,828.9 294.4,814.1 294.8,817.8 295.2,810.2 295.7,829.6 296.1,821.1 296.5,817.1 296.9,821.0 297.4,821.2 297.8,814.4 298.2,807.8 298.6,807.4 299.1,803.7 299.5,821.0 299.9,834.7 300.4,803.8 300.8,818.2 301.2,820.3 301.6,809.2 302.1,818.5 302.5,808.2 302.9,826.2 303.3,812.0 303.8,817.4 304.2,821.9 304.6,813.1 305.0,802.3 305.5,812.1 305.9,822.2 306.3,815.5 306.7,817.9 307.2,807.5 307.6,817.0 308.0,821.6 308.5,816.1 308.9,830.7 309.3,814.0 309.7,807.3 310.2,802.7 310.6,824.5 311.0,814.9 311.4,823.2 311.9,818.8 312.3,827.9 312.7,825.0 313.1,812.0 313.6,817.0 314.0,823.3 314.4,805.0 314.8,826.1 315.3,824.1 315.7,822.2 316.1,812.8 316.5,816.7 317.0,805.5 317.4,814.7 317.8,809.5 318.3,814.7 318.7,810.1 319.1,816.1 319.5,823.1 320.0,803.4 320.4,821.0 320.8,797.9 321.2,796.5 321.7,812.5 322.1,813.4 322.5,816.8 322.9,800.3 323.4,812.7 323.8,814.1 324.2,822.9 324.6,812.1 325.1,817.0 325.5,805.1 325.9,811.2 326.3,809.1 326.8,818.1 327.2,804.7 327.6,805.8 328.1,816.9 328.5,826.4 328.9,815.2 329.3,814.5 329.8,809.3 330.2,820.5 330.6,816.1 331.0,825.5 331.5,814.3 331.9,804.2 332.3,807.1 332.7,803.7 333.2,801.6 333.6,821.3 334.0,817.7 334.4,801.5 334.9,825.2 335.3,813.0 335.7,803.5 336.1,814.0 336.6,810.3 337.0,804.7 337.4,795.4 337.9,810.9 338.3,812.9 338.7,790.2 339.1,814.8 339.6,815.2 340.0,806.6 340.4,811.1 340.8,807.9 341.3,803.4 341.7,807.1 342.1,820.5 342.5,798.4 343.0,811.6 343.4,811.1 343.8,804.0 344.2,806.0 344.7,798.4 345.1,802.6 345.5,809.4 345.9,811.8 346.4,802.1 346.8,833.1 347.2,804.5 347.7,809.9 348.1,807.0 348.5,805.6 348.9,818.9 349.4,804.8 349.8,819.0 350.2,817.5 350.6,800.2 351.1,816.5 351.5,803.1 351.9,829.7 352.3,805.1 352.8,800.6 353.2,792.9 353.6,797.7 354.0,803.2 354.5,799.9 354.9,798.0 355.3,802.1 355.7,805.9 356.2,818.8 356.6,793.9 357.0,802.9 357.5,799.7 357.9,795.2 358.3,797.1 358.7,799.8 359.2,812.5 359.6,805.3 360.0,802.5 360.4,811.5 360.9,808.8 361.3,804.8 361.7,809.5 362.1,799.9 362.6,811.2 363.0,809.9 363.4,802.9 363.8,796.5 364.3,818.0 364.7,806.7 365.1,829.9 365.5,800.6 366.0,812.4 366.4,802.2 366.8,807.6 367.3,812.0 367.7,799.1 368.1,804.5 368.5,806.5 369.0,806.1 369.4,809.8 369.8,813.1 370.2,811.5 370.7,807.0 371.1,802.1 371.5,795.8 371.9,798.9 372.4,800.4 372.8,809.9 373.2,801.6 373.6,794.6 374.1,809.2 374.5,797.9 374.9,798.1 375.3,802.3 375.8,807.7 376.2,784.9 376.6,795.0 377.1,805.1 377.5,800.8 377.9,796.8 378.3,799.3 378.8,814.4 379.2,799.8 379.6,808.9 380.0,809.5 380.5,799.6 380.9,806.6 381.3,799.5 381.7,798.1 382.2,794.0 382.6,809.7 383.0,799.6 383.4,798.3 383.9,793.7 384.3,816.7 384.7,808.3 385.1,801.3 385.6,796.8 386.0,790.2 386.4,804.4 386.9,804.3 387.3,790.9 387.7,811.0 388.1,807.9 388.6,794.2 389.0,797.3 389.4,798.2 389.8,802.8 390.3,800.3 390.7,788.5 391.1,812.9 391.5,803.7 392.0,811.1 392.4,811.0 392.8,799.4 393.2,803.6 393.7,806.7 394.1,806.8 394.5,799.4 394.9,795.8 395.4,800.8 395.8,794.2 396.2,796.0 396.7,784.3 397.1,800.9 397.5,792.1 397.9,795.7 398.4,799.6 398.8,802.4 399.2,814.8 399.6,801.4 400.1,788.6 400.5,800.7 400.9,794.9 401.3,802.7 401.8,794.0 402.2,793.8 402.6,795.3 403.0,794.3 403.5,784.8 403.9,793.8 404.3,798.9 404.8,808.4 405.2,796.5 405.6,795.8 406.0,803.3 406.5,802.9 406.9,811.1 407.3,803.1 407.7,798.2 408.2,808.9 408.6,810.3 409.0,794.4 409.4,799.3 409.9,784.8 410.3,795.1 410.7,790.9 411.1,796.1 411.6,793.9 412.0,796.3 412.4,796.8 412.8,801.4 413.3,799.2 413.7,792.9 414.1,787.1 414.6,806.9 415.0,808.3 415.4,793.5 415.8,801.4 416.3,784.9 416.7,784.5 417.1,794.6 417.5,808.3 418.0,788.4 418.4,790.0 418.8,809.1 419.2,781.5 419.7,801.4 420.1,800.1 420.5,794.5 420.9,797.6 421.4,816.7 421.8,787.1 422.2,793.4 422.6,793.9 423.1,790.3 423.5,785.1 423.9,808.1 424.4,797.2 424.8,781.6 425.2,789.8 425.6,798.5 426.1,798.4 426.5,783.8 426.9,794.3 427.3,797.0 427.8,798.0 428.2,797.9 428.6,780.4 429.0,809.2 429.5,796.3 429.9,808.7 430.3,817.0 430.7,793.1 431.2,784.6 431.6,801.0 432.0,792.7 432.4,790.5 432.9,785.9 433.3,807.2 433.7,790.4 434.2,782.8 434.6,790.2 435.0,784.5 435.4,794.8 435.9,790.2 436.3,785.1 436.7,798.1 437.1,788.2 437.6,798.9 438.0,803.0 438.4,790.2 438.8,787.9 439.3,794.4 439.7,799.8 440.1,792.7 440.5,793.8 441.0,792.4 441.4,795.0 441.8,797.4 442.2,786.8 442.7,788.5 443.1,792.6 443.5,786.9 444.0,793.1 444.4,796.2 444.8,791.7 445.2,787.1 445.7,785.6 446.1,805.5 446.5,798.5 446.9,782.7 447.4,784.8 447.8,806.1 448.2,803.2 448.6,792.2 449.1,800.3 449.5,779.4 449.9,791.0 450.3,796.7 450.8,776.1 451.2,784.5 451.6,796.7 452.0,799.3 452.5,785.6 452.9,792.4 453.3,802.6 453.8,786.9 454.2,779.2 454.6,789.1 455.0,786.4 455.5,799.6 455.9,790.5 456.3,782.8 456.7,807.9 457.2,784.9 457.6,792.4 458.0,793.9 458.4,794.6 458.9,789.7 459.3,792.8 459.7,787.5 460.1,776.8 460.6,786.1 461.0,786.1 461.4,786.2 461.8,788.5 462.3,782.4 462.7,797.6 463.1,799.4 463.6,769.6 464.0,786.9 464.4,781.1 464.8,766.0 465.3,789.7 465.7,781.4 466.1,783.2 466.5,780.9 467.0,794.5 467.4,795.5 467.8,787.8 468.2,791.0 468.7,784.5 469.1,786.4 469.5,779.3 469.9,785.3 470.4,779.3 470.8,787.7 471.2,791.1 471.6,787.0 472.1,793.7 472.5,805.4 472.9,767.5 473.4,784.1 473.8,779.4 474.2,780.1 474.6,772.9 475.1,783.9 475.5,781.3 475.9,778.2 476.3,781.1 476.8,778.3 477.2,764.4 477.6,791.2 478.0,780.2 478.5,775.0 478.9,784.7 479.3,777.0 479.7,765.0 480.2,788.9 480.6,768.6 481.0,780.0 481.4,782.5 481.9,792.1 482.3,790.7 482.7,782.5 483.2,775.0 483.6,777.7 484.0,789.4 484.4,794.7 484.9,784.8 485.3,775.3 485.7,788.4 486.1,777.2 486.6,776.8 487.0,777.7 487.4,784.4 487.8,781.8 488.3,787.3 488.7,789.6 489.1,783.3 489.5,760.8 490.0,765.6 490.4,780.2 490.8,778.3 491.2,795.8 491.7,778.5 492.1,777.4 492.5,786.0 493.0,786.9 493.4,776.6 493.8,782.1 494.2,769.3 494.7,770.8 495.1,787.8 495.5,767.0 495.9,785.2 496.4,783.2 496.8,783.9 497.2,784.9 497.6,782.1 498.1,760.7 498.5,769.6 498.9,772.7 499.3,784.6 499.8,768.4 500.2,771.7 500.6,774.3 501.1,787.4 501.5,765.6 501.9,766.3 502.3,781.8 502.8,760.0 503.2,779.3 503.6,773.0 504.0,764.1 504.5,773.2 504.9,768.5 505.3,777.6 505.7,779.1 506.2,787.9 506.6,776.0 507.0,776.8 507.4,771.4 507.9,775.7 508.3,784.1 508.7,760.6 509.1,780.8 509.6,771.4 510.0,776.1 510.4,778.0 510.9,782.0 511.3,777.2 511.7,772.1 512.1,777.6 512.6,775.1 513.0,773.4 513.4,776.5 513.8,781.7 514.3,775.8 514.7,775.9 515.1,764.5 515.5,773.5 516.0,759.8 516.4,780.1 516.8,766.9 517.2,784.4 517.7,797.7 518.1,771.0 518.5,784.5 518.9,777.1 519.4,769.5 519.8,767.2 520.2,778.1 520.7,784.6 521.1,776.3 521.5,761.6 521.9,765.2 522.4,771.5 522.8,784.0 523.2,775.4 523.6,775.7 524.1,782.6 524.5,771.4 524.9,772.2 525.3,771.4 525.8,758.7 526.2,776.3 526.6,775.8 527.0,780.2 527.5,763.1 527.9,765.9 528.3,779.7 528.7,774.8 529.2,783.0 529.6,765.3 530.0,773.6 530.5,766.5 530.9,774.0 531.3,767.5 531.7,775.4 532.2,779.4 532.6,776.0 533.0,756.3 533.4,777.7 533.9,773.6 534.3,761.6 534.7,762.7 535.1,769.5 535.6,773.7 536.0,765.5 536.4,756.0 536.8,770.8 537.3,769.7 537.7,787.4 538.1,757.8 538.5,787.6 539.0,781.3 539.4,769.7 539.8,780.2 540.3,767.6 540.7,774.4 541.1,760.7 541.5,766.9 542.0,758.0 542.4,753.4 542.8,763.5 543.2,760.2 543.7,769.7 544.1,775.0 544.5,763.4 544.9,765.0 545.4,765.8 545.8,750.9 546.2,766.0 546.6,763.8 547.1,763.1 547.5,754.6 547.9,747.4 548.3,760.9 548.8,765.1 549.2,773.0 549.6,771.1 550.1,773.4 550.5,764.7 550.9,770.7 551.3,759.7 551.8,766.1 552.2,768.2 552.6,781.9 553.0,762.4 553.5,750.2 553.9,770.9 554.3,753.6 554.7,759.2 555.2,757.1 555.6,752.1 556.0,769.5 556.4,763.5 556.9,753.7 557.3,758.9 557.7,754.7 558.1,762.8 558.6,754.7 559.0,751.5 559.4,752.2 559.9,753.6 560.3,759.2 560.7,749.6 561.1,756.0 561.6,760.1 562.0,774.9 562.4,763.1 562.8,732.8 563.3,752.2 563.7,753.0 564.1,758.5 564.5,768.2 565.0,761.6 565.4,737.5 565.8,758.0 566.2,756.3 566.7,758.6 567.1,765.9 567.5,746.5 567.9,763.7 568.4,741.9 568.8,755.2 569.2,757.7 569.7,772.6 570.1,748.9 570.5,741.0 570.9,759.7 571.4,749.0 571.8,766.4 572.2,748.4 572.6,746.9 573.1,763.5 573.5,754.3 573.9,761.4 574.3,742.2 574.8,766.3 575.2,748.6 575.6,759.5 576.0,745.1 576.5,740.7 576.9,750.8 577.3,754.0 577.7,765.0 578.2,755.2 578.6,758.0 579.0,757.4 579.5,776.6 579.9,745.6 580.3,761.9 580.7,750.8 581.2,753.9 581.6,747.5 582.0,761.0 582.4,741.9 582.9,741.3 583.3,750.0 583.7,742.5 584.1,757.1 584.6,758.8 585.0,745.6 585.4,757.6 585.8,746.2 586.3,751.0 586.7,751.4 587.1,766.1 587.5,751.2 588.0,744.0 588.4,743.9 588.8,760.6 589.3,737.9 589.7,747.3 590.1,748.0 590.5,731.6 591.0,747.2 591.4,758.8 591.8,752.6 592.2,743.7 592.7,756.2 593.1,754.8 593.5,766.6 593.9,744.8 594.4,747.5 594.8,750.8 595.2,749.4 595.6,751.1 596.1,749.5 596.5,744.9 596.9,737.7 597.4,745.8 597.8,739.3 598.2,741.9 598.6,745.8 599.1,754.1 599.5,756.7 599.9,741.8 600.3,752.3 600.8,756.1 601.2,749.3 601.6,736.6 602.0,732.5 602.5,755.6 602.9,756.5 603.3,751.4 603.7,740.8 604.2,760.4 604.6,758.5 605.0,748.5 605.4,747.0 605.9,733.2 606.3,754.5 606.7,735.7 607.2,753.7 607.6,754.0 608.0,748.9 608.4,760.5 608.9,745.5 609.3,752.6 609.7,754.1 610.1,749.7 610.6,744.4 611.0,757.3 611.4,750.8 611.8,745.9 612.3,746.0 612.7,748.3 613.1,765.1 613.5,747.9 614.0,745.1 614.4,738.5 614.8,737.2 615.2,731.8 615.7,748.5 616.1,746.8 616.5,738.4 617.0,734.7 617.4,743.7 617.8,742.1 618.2,735.6 618.7,748.4 619.1,747.1 619.5,745.5 619.9,751.9 620.4,740.6 620.8,756.4 621.2,737.7 621.6,749.7 622.1,750.6 622.5,743.5 622.9,748.2 623.3,735.3 623.8,733.5 624.2,743.7 624.6,739.5 625.0,749.9 625.5,745.4 625.9,750.0 626.3,747.6 626.8,746.7 627.2,745.8 627.6,742.1 628.0,741.3 628.5,760.9 628.9,731.0 629.3,743.3 629.7,752.7 630.2,748.0 630.6,755.8 631.0,749.0 631.4,734.6 631.9,742.0 632.3,733.4 632.7,752.2 633.1,755.8 633.6,740.9 634.0,748.6 634.4,741.0 634.8,732.9 635.3,740.6 635.7,731.7 636.1,739.6 636.6,745.7 637.0,749.7 637.4,754.1 637.8,741.3 638.3,745.7 638.7,747.1 639.1,748.1 639.5,721.2 640.0,737.5 640.4,749.7 640.8,734.5 641.2,745.1 641.7,749.5 642.1,727.8 642.5,741.1 642.9,744.3 643.4,742.3 643.8,730.0 644.2,744.6 644.6,737.3 645.1,748.0 645.5,744.7 645.9,736.8 646.4,742.4 646.8,735.4 647.2,735.1 647.6,728.0 648.1,738.4 648.5,746.4 648.9,740.8 649.3,739.5 649.8,734.5 650.2,735.2 650.6,745.0 651.0,727.2 651.5,755.0 651.9,738.1 652.3,755.5 652.7,747.4 653.2,734.7 653.6,743.6 654.0,739.7 654.4,741.1 654.9,743.5 655.3,732.8 655.7,732.0 656.2,733.4 656.6,725.8 657.0,734.3 657.4,738.0 657.9,737.9 658.3,737.3 658.7,732.5 659.1,741.6 659.6,719.1 660.0,731.9 660.4,732.3 660.8,741.9 661.3,739.9 661.7,740.9 662.1,734.5 662.5,741.8 663.0,726.3 663.4,734.6 663.8,717.3 664.2,747.3 664.7,746.2 665.1,728.9 665.5,726.8 666.0,716.8 666.4,721.2 666.8,734.1 667.2,731.8 667.7,721.3 668.1,728.9 668.5,727.5 668.9,736.3 669.4,738.1 669.8,730.7 670.2,733.2 670.6,732.1 671.1,715.6 671.5,733.4 671.9,731.4 672.3,737.7 672.8,717.2 673.2,737.6 673.6,726.4 674.0,733.5 674.5,740.8 674.9,719.5 675.3,720.7 675.8,738.8 676.2,721.8 676.6,723.2 677.0,735.4 677.5,728.9 677.9,736.5 678.3,732.7 678.7,730.0 679.2,737.9 679.6,747.2 680.0,729.1 680.4,741.4 680.9,738.5 681.3,730.3 681.7,732.8 682.1,721.7 682.6,724.0 683.0,730.9 683.4,728.2 683.8,738.6 684.3,718.0 684.7,725.7 685.1,722.9 685.6,726.5 686.0,736.7 686.4,717.9 686.8,733.9 687.3,722.4 687.7,724.3 688.1,734.6 688.5,724.3 689.0,731.6 689.4,727.1 689.8,724.7 690.2,723.0 690.7,712.1 691.1,719.7 691.5,726.7 691.9,726.8 692.4,713.3 692.8,732.8 693.2,729.2 693.7,714.3 694.1,716.2 694.5,728.2 694.9,710.2 695.4,718.0 695.8,723.3 696.2,722.6 696.6,723.0 697.1,726.3 697.5,716.8 697.9,719.1 698.3,738.9 698.8,711.5 699.2,718.9 699.6,723.1 700.0,717.0 700.5,731.5 700.9,722.1 701.3,727.3 701.7,700.4 702.2,730.1 702.6,729.5 703.0,714.2 703.5,730.2 703.9,721.8 704.3,726.7 704.7,733.4 705.2,719.7 705.6,710.6 706.0,718.2 706.4,708.0 706.9,711.5 707.3,711.5 707.7,711.6 708.1,726.2 708.6,723.3 709.0,709.4 709.4,725.1 709.8,702.7 710.3,710.5 710.7,714.3 711.1,724.5 711.5,720.6 712.0,718.2 712.4,724.6 712.8,719.7 713.3,724.6 713.7,707.3 714.1,699.9 714.5,709.7 715.0,719.3 715.4,714.5 715.8,719.2 716.2,717.5 716.7,715.7 717.1,717.8 717.5,705.5 717.9,719.4 718.4,702.6 718.8,709.4 719.2,698.8 719.6,713.7 720.1,697.2 720.5,720.5 720.9,698.7 721.3,711.3 721.8,708.0 722.2,702.1 722.6,718.8 723.1,705.5 723.5,720.4 723.9,700.6 724.3,702.3 724.8,692.8 725.2,712.8 725.6,715.6 726.0,710.1 726.5,706.9 726.9,700.9 727.3,726.6 727.7,713.8 728.2,693.3 728.6,705.3 729.0,687.1 729.4,720.1 729.9,723.1 730.3,719.0 730.7,707.0 731.1,702.6 731.6,696.1 732.0,711.3 732.4,701.2 732.9,704.0 733.3,701.8 733.7,704.4 734.1,713.8 734.6,720.0 735.0,707.7 735.4,706.6 735.8,697.6 736.3,696.6 736.7,697.8 737.1,713.1 737.5,708.0 738.0,713.6 738.4,709.3 738.8,702.6 739.2,695.9 739.7,702.7 740.1,694.3 740.5,721.2 740.9,707.4 741.4,702.2 741.8,720.8 742.2,701.8 742.7,709.1 743.1,703.2 743.5,707.2 743.9,701.3 744.4,708.0 744.8,715.2 745.2,693.8 745.6,686.1 746.1,714.2 746.5,704.7 746.9,710.1 747.3,700.8 747.8,715.2 748.2,717.2 748.6,693.3 749.0,707.8 749.5,697.5 749.9,689.4 750.3,699.6 750.7,706.4 751.2,690.8 751.6,691.3 752.0,711.1 752.5,701.4 752.9,704.2 753.3,691.8 753.7,695.5 754.2,701.5 754.6,701.8 755.0,701.3 755.4,712.6 755.9,701.1 756.3,687.5 756.7,692.5 757.1,698.8 757.6,709.3 758.0,693.5 758.4,695.7 758.8,698.4 759.3,692.8 759.7,691.7 760.1,696.2 760.5,705.8 761.0,701.6 761.4,695.3 761.8,700.6 762.3,687.0 762.7,705.0 763.1,702.8 763.5,699.2 764.0,683.6 764.4,712.7 764.8,673.0 765.2,688.2 765.7,688.7 766.1,701.4 766.5,683.8 766.9,697.4 767.4,694.2 767.8,693.0 768.2,701.9 768.6,706.3 769.1,698.0 769.5,692.5 769.9,676.4 770.3,706.1 770.8,691.8 771.2,679.3 771.6,695.2 772.1,705.3 772.5,692.5 772.9,684.2 773.3,711.4 773.8,698.1 774.2,695.9 774.6,701.1 775.0,675.6 775.5,692.1 775.9,691.2 776.3,710.5 776.7,687.8 777.2,687.7 777.6,680.9 778.0,685.3 778.4,690.1 778.9,693.7 779.3,689.9 779.7,707.3 780.2,695.1 780.6,696.2 781.0,701.9 781.4,696.0 781.9,686.7 782.3,678.4 782.7,693.5 783.1,684.0 783.6,701.0 784.0,684.3 784.4,672.6 784.8,690.6 785.3,698.7 785.7,688.4 786.1,691.5 786.5,691.2 787.0,703.6 787.4,692.2 787.8,689.3 788.2,684.7 788.7,676.4 789.1,700.7 789.5,698.5 790.0,681.6 790.4,694.0 790.8,691.7 791.2,685.9 791.7,686.4 792.1,694.8 792.5,679.1 792.9,684.5 793.4,687.9 793.8,688.4 794.2,686.7 794.6,690.0 795.1,692.4 795.5,681.0 795.9,688.7 796.3,683.7 796.8,699.9 797.2,676.5 797.6,685.8 798.0,693.2 798.5,685.2 798.9,684.8 799.3,683.0 799.8,689.8 800.2,677.9 800.6,686.4 801.0,686.1 801.5,675.1 801.9,688.9 802.3,682.9 802.7,688.9 803.2,693.2 803.6,689.0 804.0,676.7 804.4,688.6 804.9,673.1 805.3,679.7 805.7,699.0 806.1,685.6 806.6,697.9 807.0,683.9 807.4,685.3 807.8,676.2 808.3,692.5 808.7,683.3 809.1,689.7 809.6,688.1 810.0,688.8 810.4,687.0 810.8,684.0 811.3,684.2 811.7,678.6 812.1,667.0 812.5,687.8 813.0,700.4 813.4,692.3 813.8,702.2 814.2,687.3 814.7,675.7 815.1,675.4 815.5,689.1 815.9,685.8 816.4,681.6 816.8,688.7 817.2,675.7 817.6,686.8 818.1,680.3 818.5,683.6 818.9,691.7 819.4,681.0 819.8,693.0 820.2,692.5 820.6,675.8 821.1,700.3 821.5,671.8 821.9,680.8 822.3,687.4 822.8,663.3 823.2,689.6 823.6,690.4 824.0,680.4 824.5,683.3 824.9,682.8 825.3,679.4 825.7,689.5 826.2,677.9 826.6,680.4 827.0,683.6 827.4,687.4 827.9,689.3 828.3,668.6 828.7,664.1 829.2,679.2 829.6,679.7 830.0,671.4 830.4,682.4 830.9,684.9 831.3,682.9 831.7,692.9 832.1,671.4 832.6,679.7 833.0,694.9 833.4,684.8 833.8,670.4 834.3,680.8 834.7,688.5 835.1,695.7 835.5,684.2 836.0,688.2 836.4,669.9 836.8,676.7 837.2,688.1 837.7,670.8 838.1,677.9 838.5,663.4 839.0,690.1 839.4,677.1 839.8,682.6 840.2,665.9 840.7,667.3 841.1,692.2 841.5,674.8 841.9,673.1 842.4,681.4 842.8,681.6 843.2,661.4 843.6,669.1 844.1,677.2 844.5,676.7 844.9,679.3 845.3,673.0 845.8,674.0 846.2,677.9 846.6,670.5 847.0,669.2 847.5,671.4 847.9,675.7 848.3,674.3 848.8,671.5 849.2,673.2 849.6,674.7 850.0,677.5 850.5,677.7 850.9,664.4 851.3,682.3 851.7,661.7 852.2,678.7 852.6,668.5 853.0,678.7 853.4,682.4 853.9,658.8 854.3,678.4 854.7,675.7 855.1,669.7 855.6,676.3 856.0,669.2 856.4,673.9 856.8,664.5 857.3,679.0 857.7,677.3 858.1,678.4 858.6,667.1 859.0,686.8 859.4,687.8 859.8,671.2 860.3,668.5 860.7,668.4 861.1,676.9 861.5,679.4 862.0,665.2 862.4,654.8 862.8,674.4 863.2,670.3 863.7,671.8 864.1,674.3 864.5,661.2 864.9,670.4 865.4,667.3 865.8,672.5 866.2,679.0 866.6,669.2 867.1,662.2 867.5,678.7 867.9,674.3 868.4,666.8 868.8,653.9 869.2,661.1 869.6,669.0 870.1,672.1 870.5,663.3 870.9,670.8 871.3,662.1 871.8,663.6 872.2,671.0 872.6,664.5 873.0,667.6 873.5,673.2 873.9,675.1 874.3,661.2 874.7,663.7 875.2,655.1 875.6,655.0 876.0,667.6 876.5,660.9 876.9,650.2 877.3,668.9 877.7,657.9 878.2,661.8 878.6,667.5 879.0,667.1 879.4,663.3 879.9,647.9 880.3,667.8 880.7,658.2 881.1,651.3 881.6,644.6 882.0,672.2 882.4,662.4 882.8,661.8 883.3,665.4 883.7,659.5 884.1,647.9 884.5,664.8 885.0,666.9 885.4,662.7 885.8,670.5 886.3,673.0 886.7,651.0 887.1,653.4 887.5,663.7 888.0,657.6 888.4,657.5 888.8,662.9 889.2,661.0 889.7,651.0 890.1,655.2 890.5,648.1 890.9,651.8 891.4,644.0 891.8,636.7 892.2,648.2 892.6,647.0 893.1,658.7 893.5,663.8 893.9,650.9 894.3,654.1 894.8,644.7 895.2,641.8 895.6,646.4 896.1,645.7 896.5,649.7 896.9,647.6 897.3,659.5 897.8,643.5 898.2,631.1 898.6,644.9 899.0,637.9 899.5,644.3 899.9,651.2 900.3,636.0 900.7,639.9 901.2,644.2 901.6,631.4 902.0,640.3 902.4,642.4 902.9,643.9 903.3,645.6 903.7,640.4 904.1,638.4 904.6,622.9 905.0,611.5 905.4,625.3 905.9,644.6 906.3,633.3 906.7,613.0 907.1,627.8 907.6,633.8 908.0,614.8 908.4,634.5 908.8,619.6 909.3,637.5 909.7,628.5 910.1,653.7 910.5,616.0 911.0,629.1 911.4,613.8 911.8,635.4 912.2,626.3 912.7,632.5 913.1,625.1 913.5,613.8 913.9,617.7 914.4,612.2 914.8,613.3 915.2,623.0 915.7,630.4 916.1,628.2 916.5,624.9 916.9,615.3 917.4,624.1 917.8,612.1 918.2,620.7 918.6,625.7 919.1,616.6 919.5,613.7 919.9,613.7 920.3,622.2 920.8,613.9 921.2,604.0 921.6,612.2 922.0,606.2 922.5,627.9 922.9,614.7 923.3,601.5 923.7,616.1 924.2,619.6 924.6,616.3 925.0,609.5 925.5,613.5 925.9,614.2 926.3,620.1 926.7,614.2 927.2,630.3 927.6,608.3 928.0,623.1 928.4,609.6 928.9,594.2 929.3,598.4 929.7,592.4 930.1,593.0 930.6,618.4 931.0,602.1 931.4,613.1 931.8,600.0 932.3,607.6 932.7,598.5 933.1,615.2 933.5,605.4 934.0,603.6 934.4,606.1 934.8,626.6 935.3,611.4 935.7,614.8 936.1,596.4 936.5,601.6 937.0,609.9 937.4,590.8 937.8,619.0 938.2,609.5 938.7,606.9 939.1,605.3 939.5,604.9 939.9,602.5 940.4,619.3 940.8,613.0 941.2,617.9 941.6,604.1 942.1,598.9 942.5,618.8 942.9,595.8 943.3,601.2 943.8,613.0 944.2,616.3 944.6,594.7 945.1,604.0 945.5,606.7 945.9,605.2 946.3,598.6 946.8,612.4 947.2,601.5 947.6,604.0 948.0,585.8 948.5,605.1 948.9,588.5 949.3,612.4 949.7,610.4 950.2,601.4 950.6,607.5 951.0,607.0 951.4,604.7 951.9,609.4 952.3,605.0 952.7,601.8 953.1,599.0 953.6,621.5 954.0,608.0 954.4,606.1 954.9,612.9 955.3,602.8 955.7,602.9 956.1,612.5 956.6,615.9 957.0,612.7 957.4,592.9 957.8,607.1 958.3,606.4 958.7,610.8 959.1,598.5 959.5,597.0 960.0,605.7 960.4,598.6 960.8,597.0 961.2,606.2 961.7,615.4 962.1,608.2 962.5,617.3 962.9,597.7 963.4,613.5 963.8,606.9 964.2,598.9 964.7,603.2 965.1,599.2 965.5,605.1 965.9,600.2 966.4,618.9 966.8,603.9 967.2,594.1 967.6,605.5 968.1,610.9 968.5,604.4 968.9,615.4 969.3,599.0 969.8,599.5 970.2,622.7 970.6,607.6 971.0,612.7 971.5,612.3 971.9,613.1 972.3,608.1 972.8,605.9 973.2,617.9 973.6,603.2 974.0,608.9 974.5,614.3 974.9,604.2 975.3,593.5 975.7,612.2 976.2,618.0 976.6,610.3 977.0,592.0 977.4,613.9 977.9,626.4 978.3,593.2 978.7,582.2 979.1,605.5 979.6,608.5 980.0,615.1 980.4,615.5 980.8,608.6 981.3,612.8 981.7,610.9 982.1,608.9 982.6,607.1 983.0,606.2 983.4,614.3 983.8,611.5 984.3,603.6 984.7,617.9 985.1,600.7 985.5,605.4 986.0,608.8 986.4,589.6 986.8,604.0 987.2,615.6 987.7,615.2 988.1,596.2 988.5,599.7 988.9,597.3 989.4,605.2 989.8,606.8 990.2,592.4 990.6,610.4 991.1,608.0 991.5,606.7 991.9,601.0 992.4,605.6 992.8,590.6 993.2,609.4 993.6,609.2 994.1,606.2 994.5,596.1 994.9,619.2 995.3,617.8 995.8,589.6 996.2,611.0 996.6,608.6 997.0,583.0 997.5,612.0 997.9,613.2 998.3,613.8 998.7,608.6 999.2,600.9 999.6,602.2 1000.0,611.8 1000.4,618.0 1000.9,602.5 1001.3,604.5 1001.7,613.7 1002.2,587.0 1002.6,611.4 1003.0,605.1 1003.4,586.7 1003.9,614.5 1004.3,598.7 1004.7,614.8 1005.1,620.3 1005.6,595.7 1006.0,596.2 1006.4,607.4 1006.8,591.1 1007.3,614.4 1007.7,609.3 1008.1,616.8 1008.5,590.5 1009.0,609.6 1009.4,612.1 1009.8,590.9 1010.2,616.2 1010.7,594.9 1011.1,609.6 1011.5,595.6 1012.0,615.3 1012.4,624.0 1012.8,608.6 1013.2,608.4 1013.7,620.3 1014.1,604.0 1014.5,608.7 1014.9,615.9 1015.4,612.3 1015.8,623.1 1016.2,619.7 1016.6,626.6 1017.1,608.4 1017.5,619.2 1017.9,601.1 1018.3,617.3 1018.8,625.4 1019.2,631.0 1019.6,597.3 1020.0,607.5 1020.5,615.9 1020.9,601.0 1021.3,614.4 1021.8,614.4 1022.2,604.8 1022.6,604.3 1023.0,600.7 1023.5,612.3 1023.9,621.4 1024.3,612.2 1024.7,635.6 1025.2,595.6 1025.6,604.1 1026.0,616.0 1026.4,598.9 1026.9,613.0 1027.3,617.4 1027.7,611.4 1028.1,607.7 1028.6,618.7 1029.0,613.8 1029.4,616.7 1029.8,615.0 1030.3,603.6 1030.7,599.6 1031.1,606.4 1031.6,611.7 1032.0,608.2 1032.4,619.0 1032.8,612.5 1033.3,619.2 1033.7,611.2 1034.1,603.3 1034.5,618.1 1035.0,614.9 1035.4,602.2 1035.8,606.3 1036.2,636.6 1036.7,578.6 1037.1,620.9 1037.5,610.8 1037.9,609.6 1038.4,607.4 1038.8,605.4 1039.2,632.7 1039.6,606.1 1040.1,607.4 1040.5,617.9 1040.9,613.9 1041.4,608.6 1041.8,607.6 1042.2,597.7 1042.6,620.6 1043.1,600.3 1043.5,587.3 1043.9,620.3 1044.3,617.5 1044.8,613.6 1045.2,605.5 1045.6,621.7 1046.0,600.1 1046.5,589.6 1046.9,612.0 1047.3,618.1 1047.7,616.4 1048.2,630.3 1048.6,618.5 1049.0,608.4 1049.4,608.7 1049.9,619.1 1050.3,610.0 1050.7,609.4 1051.2,593.8 1051.6,607.7 1052.0,598.3 1052.4,613.0 1052.9,612.0 1053.3,617.6 1053.7,627.9 1054.1,609.1 1054.6,624.6 1055.0,600.1 1055.4,612.4 1055.8,620.1 1056.3,629.7 1056.7,600.4 1057.1,608.6 1057.5,612.4 1058.0,610.1 1058.4,601.9 1058.8,595.5 1059.2,599.4 1059.7,610.4 1060.1,598.3 1060.5,628.3 1061.0,623.1 1061.4,593.0 1061.8,606.6 1062.2,624.1 1062.7,625.4 1063.1,622.2 1063.5,597.8 1063.9,608.0 1064.4,623.9 1064.8,612.6 1065.2,607.3 1065.6,616.6 1066.1,621.2 1066.5,613.2 1066.9,614.2 1067.3,622.2 1067.8,606.5 1068.2,603.2 1068.6,619.4 1069.1,600.5 1069.5,616.9 1069.9,605.1 1070.3,620.2 1070.8,600.8 1071.2,623.2 1071.6,615.0 1072.0,609.4 1072.5,604.1 1072.9,610.9 1073.3,603.6 1073.7,601.0 1074.2,622.9 1074.6,618.3 1075.0,624.5 1075.4,599.6 1075.9,594.0 1076.3,597.5 1076.7,619.0 1077.1,620.6 1077.6,595.0 1078.0,622.7 1078.4,608.7 1078.9,601.4 1079.3,612.2 1079.7,618.5 1080.1,611.0 1080.6,611.4 1081.0,605.0 1081.4,599.5 1081.8,609.6 1082.3,597.6 1082.7,619.1 1083.1,605.1 1083.5,626.0 1084.0,598.1 1084.4,627.0 1084.8,605.0 1085.2,604.9 1085.7,616.4 1086.1,622.3 1086.5,613.2 1086.9,563.7 1087.4,632.9 1087.8,618.7 1088.2,602.2 1088.7,611.3 1089.1,630.2 1089.5,617.1 1089.9,621.9 1090.4,633.6 1090.8,608.4 1091.2,617.7 1091.6,607.8 1092.1,614.2 1092.5,619.5 1092.9,601.5 1093.3,615.8 1093.8,615.9 1094.2,624.7 1094.6,608.9 1095.0,602.4 1095.5,618.5 1095.9,603.9 1096.3,616.6 1096.7,620.3 1097.2,606.5 1097.6,613.8 1098.0,605.0 1098.5,587.7 1098.9,601.1 1099.3,595.0 1099.7,615.4 1100.2,604.9 1100.6,613.9 1101.0,614.9 1101.4,625.6 1101.9,612.1 1102.3,611.6 1102.7,620.4 1103.1,631.2 1103.6,614.9 1104.0,619.0 1104.4,613.9 1104.8,609.1 1105.3,601.0 1105.7,615.2 1106.1,613.4 1106.5,613.7 1107.0,635.3 1107.4,612.9 1107.8,619.4 1108.3,613.0 1108.7,627.8 1109.1,613.6 1109.5,634.5 1110.0,614.0 1110.4,624.1 1110.8,626.5 1111.2,614.5 1111.7,625.0 1112.1,617.5 1112.5,609.6 1112.9,610.5 1113.4,620.2 1113.8,634.3 1114.2,612.4 1114.6,622.5 1115.1,609.5 1115.5,619.8 1115.9,604.8 1116.3,609.8 1116.8,617.4 1117.2,610.3 1117.6,615.0 1118.1,627.4 1118.5,616.5 1118.9,610.9 1119.3,605.9 1119.8,612.8 1120.2,629.0 1120.6,617.1 1121.0,616.5 1121.5,624.9 1121.9,626.0 1122.3,627.6 1122.7,614.4 1123.2,609.0 1123.6,601.8 1124.0,611.2 1124.4,614.2 1124.9,624.8 1125.3,620.9 1125.7,612.3 1126.1,626.3 1126.6,605.6 1127.0,607.6 1127.4,606.4 1127.9,607.2 1128.3,615.3 1128.7,609.5 1129.1,610.3 1129.6,630.6 1130.0,603.5 1130.4,607.7 1130.8,615.3 1131.3,621.9 1131.7,622.3 1132.1,615.0 1132.5,614.0 1133.0,615.0 1133.4,624.7 1133.8,608.7 1134.2,594.9 1134.7,619.3 1135.1,606.3 1135.5,616.9 1135.9,630.9 1136.4,618.4 1136.8,635.2 1137.2,602.1 1137.7,619.8 1138.1,621.2 1138.5,625.4 1138.9,610.4 1139.4,619.0 1139.8,618.6 1140.2,618.3 1140.6,604.2 1141.1,600.8 1141.5,622.6 1141.9,620.7 1142.3,617.8 1142.8,623.5 1143.2,627.8 1143.6,606.2 1144.0,624.9 1144.5,631.7 1144.9,627.2 1145.3,623.1 1145.7,624.2 1146.2,603.5 1146.6,612.7 1147.0,627.3 1147.5,631.7 1147.9,621.9 1148.3,613.1 1148.7,616.2 1149.2,625.7 1149.6,637.0 1150.0,625.1 1150.4,612.5 1150.9,623.6 1151.3,621.7 1151.7,640.7 1152.1,623.3 1152.6,617.9 1153.0,616.8 1153.4,605.7 1153.8,607.4 1154.3,613.0 1154.7,609.7 1155.1,619.4 1155.5,618.5 1156.0,626.6 1156.4,632.1 1156.8,619.0 1157.3,615.6 1157.7,599.6 1158.1,621.2 1158.5,623.8 1159.0,610.1 1159.4,613.7 1159.8,610.7 1160.2,627.6 1160.7,623.4 1161.1,629.2 1161.5,605.8 1161.9,643.0 1162.4,609.2 1162.8,607.6 1163.2,619.2 1163.6,612.1 1164.1,634.9 1164.5,613.4 1164.9,610.8 1165.4,626.8 1165.8,629.1 1166.2,609.3 1166.6,612.7 1167.1,613.9 1167.5,615.8 1167.9,633.8 1168.3,629.4 1168.8,627.6 1169.2,629.5 1169.6,617.4 1170.0,625.7 1170.5,616.5 1170.9,610.0 1171.3,633.3 1171.7,600.3 1172.2,617.2 1172.6,611.6 1173.0,601.2 1173.4,613.5 1173.9,617.8 1174.3,621.6 1174.7,609.2 1175.2,624.4 1175.6,620.1 1176.0,624.9 1176.4,598.5 1176.9,612.7 1177.3,611.1 1177.7,622.6 1178.1,609.9 1178.6,612.1 1179.0,606.0 1179.4,605.5 1179.8,608.0 1180.3,626.2 1180.7,606.7 1181.1,593.5 1181.5,619.7 1182.0,612.5 1182.4,622.2 1182.8,622.0 1183.2,613.9 1183.7,612.8 1184.1,611.5 1184.5,616.8 1185.0,609.4 1185.4,618.7 1185.8,630.1 1186.2,610.4 1186.7,610.8 1187.1,610.7 1187.5,622.7 1187.9,623.2 1188.4,630.7 1188.8,623.7 1189.2,618.1 1189.6,621.3 1190.1,604.3 1190.5,622.3 1190.9,618.5 1191.3,636.8 1191.8,630.0 1192.2,608.8 1192.6,611.2 1193.0,625.1 1193.5,596.7 1193.9,607.7 1194.3,620.1 1194.8,622.7 1195.2,618.2 1195.6,627.6 1196.0,613.8 1196.5,617.3 1196.9,614.4 1197.3,605.7 1197.7,616.6 1198.2,610.9 1198.6,616.9 1199.0,591.0 1199.4,617.1 1199.9,610.8 1200.3,610.1 1200.7,616.4 1201.1,611.3 1201.6,624.7 1202.0,627.8 1202.4,624.2 1202.8,625.0 1203.3,619.2 1203.7,615.9 1204.1,603.3 1204.6,612.0 1205.0,627.1 1205.4,622.8 1205.8,610.7 1206.3,616.4 1206.7,625.5 1207.1,613.8 1207.5,630.8 1208.0,608.0 1208.4,622.8 1208.8,621.8 1209.2,616.8 1209.7,618.0 1210.1,620.2 1210.5,593.2 1210.9,619.5 1211.4,625.9 1211.8,618.7 1212.2,625.8 1212.6,603.4 1213.1,614.1 1213.5,617.9 1213.9,612.1 1214.4,626.0 1214.8,619.2 1215.2,609.6 1215.6,622.3 1216.1,622.3 1216.5,610.2 1216.9,620.4 1217.3,618.0 1217.8,617.7 1218.2,602.2 1218.6,626.4 1219.0,620.4 1219.5,613.9 1219.9,617.4 1220.3,617.2 1220.7,611.0 1221.2,608.2 1221.6,614.7 1222.0,608.0 1222.4,609.0 1222.9,602.4 1223.3,610.8 1223.7,623.1 1224.2,615.4 1224.6,613.7 1225.0,610.1 1225.4,609.0 1225.9,598.7 1226.3,628.9 1226.7,605.9 1227.1,598.4 1227.6,616.6 1228.0,615.1 1228.4,607.6 1228.8,598.4 1229.3,599.2 1229.7,627.5 1230.1,611.2 1230.5,606.0 1231.0,630.1 1231.4,606.9 1231.8,603.1 1232.2,617.2 1232.7,615.4 1233.1,626.9 1233.5,596.8 1234.0,614.4 1234.4,595.3 1234.8,616.0 1235.2,605.2 1235.7,606.9 1236.1,604.2 1236.5,619.3 1236.9,626.8 1237.4,610.3 1237.8,608.6 1238.2,606.1 1238.6,615.9 1239.1,600.9 1239.5,641.6 1239.9,608.4 1240.3,627.1 1240.8,611.9 1241.2,597.2 1241.6,595.3 1242.0,606.2 1242.5,603.3 1242.9,607.7 1243.3,599.0 1243.8,632.6 1244.2,630.4 1244.6,592.4 1245.0,614.4 1245.5,621.2 1245.9,606.3 1246.3,607.3 1246.7,619.9 1247.2,614.5 1247.6,597.5 1248.0,621.0 1248.4,604.4 1248.9,626.9 1249.3,599.7 1249.7,586.7 1250.1,609.7 1250.6,620.3 1251.0,613.4 1251.4,609.8 1251.8,599.2 1252.3,616.9 1252.7,589.9 1253.1,615.3 1253.6,595.8 1254.0,601.5 1254.4,594.4 1254.8,598.2 1255.3,621.2 1255.7,595.3 1256.1,608.4 1256.5,598.6 1257.0,616.2 1257.4,592.9 1257.8,605.9 1258.2,614.5 1258.7,627.5 1259.1,593.9 1259.5,596.8 1259.9,604.6 1260.4,619.3 1260.8,594.9 1261.2,612.6 1261.7,598.4 1262.1,594.3 1262.5,588.7 1262.9,605.3 1263.4,613.4 1263.8,602.7 1264.2,582.9 1264.6,598.0 1265.1,612.7 1265.5,611.6 1265.9,605.7 1266.3,617.2 1266.8,590.3 1267.2,590.5 1267.6,625.7 1268.0,608.8 1268.5,600.1 1268.9,597.2 1269.3,576.7 1269.7,609.9 1270.2,581.3 1270.6,582.2 1271.0,600.8 1271.5,615.8 1271.9,597.1 1272.3,604.5 1272.7,596.4 1273.2,604.4 1273.6,584.1 1274.0,620.8 1274.4,590.7 1274.9,605.4 1275.3,579.8 1275.7,617.1 1276.1,603.8 1276.6,619.0 1277.0,592.8 1277.4,609.3 1277.8,597.3 1278.3,598.5 1278.7,611.5 1279.1,589.8 1279.5,605.7 1280.0,617.5 1280.4,615.4 1280.8,608.6 1281.3,601.2 1281.7,588.4 1282.1,611.8 1282.5,591.0 1283.0,609.3 1283.4,594.1 1283.8,597.4 1284.2,597.1 1284.7,602.9 1285.1,592.5 1285.5,598.5 1285.9,591.5 1286.4,601.6 1286.8,599.1 1287.2,600.4 1287.6,587.7 1288.1,599.1 1288.5,596.2 1288.9,601.3 1289.3,596.0 1289.8,585.8 1290.2,602.3 1290.6,588.4 1291.1,597.6 1291.5,574.4 1291.9,599.5 1292.3,600.9 1292.8,585.3 1293.2,599.8 1293.6,590.3 1294.0,607.4 1294.5,600.2 1294.9,581.3 1295.3,591.4 1295.7,576.0 1296.2,590.0 1296.6,598.3 1297.0,601.0 1297.4,591.7 1297.9,590.2 1298.3,594.0 1298.7,586.4 1299.1,595.4 1299.6,603.0 1300.0,593.8 1300.4,600.2 1300.9,584.0 1301.3,586.7 1301.7,594.7 1302.1,611.1 1302.6,601.1 1303.0,607.8 1303.4,591.4 1303.8,603.0 1304.3,574.2 1304.7,595.7 1305.1,570.0 1305.5,602.4 1306.0,594.9 1306.4,601.5 1306.8,593.9 1307.2,585.0 1307.7,582.4 1308.1,591.5 1308.5,604.2 1308.9,595.5 1309.4,583.9 1309.8,583.5 1310.2,582.1 1310.7,586.9 1311.1,588.1 1311.5,584.2 1311.9,589.0 1312.4,573.4 1312.8,604.2 1313.2,591.3 1313.6,603.8 1314.1,591.6 1314.5,586.9 1314.9,589.6 1315.3,590.9 1315.8,582.2 1316.2,585.0 1316.6,607.5 1317.0,597.9 1317.5,583.6 1317.9,593.8 1318.3,580.4 1318.7,602.4 1319.2,578.6 1319.6,597.4 1320.0,588.8 1320.5,588.9 1320.9,580.5 1321.3,585.9 1321.7,580.9 1322.2,579.9 1322.6,592.9 1323.0,613.2 1323.4,585.0 1323.9,598.2 1324.3,588.2 1324.7,581.2 1325.1,601.5 1325.6,594.5 1326.0,599.4 1326.4,589.3 1326.8,589.6 1327.3,580.0 1327.7,585.4 1328.1,604.7 1328.5,565.5 1329.0,591.8 1329.4,602.5 1329.8,595.9 1330.3,596.6 1330.7,585.3 1331.1,599.1 1331.5,599.3 1332.0,587.5 1332.4,604.4 1332.8,583.0 1333.2,563.3 1333.7,587.7 1334.1,586.6 1334.5,579.3 1334.9,583.1 1335.4,582.3 1335.8,569.5 1336.2,599.8 1336.6,587.6 1337.1,614.2 1337.5,587.4 1337.9,591.4 1338.3,572.5 1338.8,597.5 1339.2,576.6 1339.6,592.7 1340.1,596.5 1340.5,594.8 1340.9,578.9 1341.3,579.1 1341.8,594.5 1342.2,598.6 1342.6,601.2 1343.0,586.4 1343.5,585.6 1343.9,604.4 1344.3,580.5 1344.7,593.9 1345.2,583.1 1345.6,572.0 1346.0,575.0 1346.4,590.5 1346.9,588.1 1347.3,590.7 1347.7,582.2 1348.2,580.6 1348.6,588.4 1349.0,583.6 1349.4,569.3 1349.9,580.9 1350.3,602.1 1350.7,577.5 1351.1,590.5 1351.6,584.1 1352.0,592.1 1352.4,576.0 1352.8,571.9 1353.3,589.0 1353.7,577.4 1354.1,584.0 1354.5,581.1 1355.0,593.8 1355.4,586.6 1355.8,585.4 1356.2,574.1 1356.7,568.1 1357.1,575.3 1357.5,591.9 1358.0,590.4 1358.4,589.2 1358.8,579.3 1359.2,573.0 1359.7,594.6 1360.1,584.9 1360.5,588.3 1360.9,573.5 1361.4,575.9 1361.8,589.1 1362.2,590.0 1362.6,572.5 1363.1,585.3 1363.5,570.6 1363.9,594.5 1364.3,588.8 1364.8,604.8 1365.2,597.1 1365.6,575.3 1366.0,583.8 1366.5,577.0 1366.9,583.1 1367.3,589.4 1367.8,581.4 1368.2,582.0 1368.6,567.9 1369.0,587.0 1369.5,581.0 1369.9,587.3 1370.3,591.3 1370.7,581.1 1371.2,587.6 1371.6,574.4 1372.0,589.8 1372.4,580.0 1372.9,574.1 1373.3,577.6 1373.7,565.5 1374.1,573.1 1374.6,575.2 1375.0,579.6 1375.4,578.3 1375.8,572.6 1376.3,577.0 1376.7,557.3 1377.1,579.5 1377.6,584.0 1378.0,586.2 1378.4,589.0 1378.8,575.9 1379.3,577.0 1379.7,572.9 1380.1,572.7 1380.5,578.6 1381.0,590.8 1381.4,560.1 1381.8,572.0 1382.2,579.6 1382.7,566.6 1383.1,580.7 1383.5,562.5 1383.9,572.7 1384.4,559.4 1384.8,578.6 1385.2,567.8 1385.6,582.1 1386.1,572.5 1386.5,565.6 1386.9,570.9 1387.4,576.2 1387.8,574.7 1388.2,572.0 1388.6,570.9 1389.1,574.4 1389.5,582.7 1389.9,568.3 1390.3,578.3 1390.8,560.4 1391.2,582.9 1391.6,577.1 1392.0,569.8 1392.5,569.9 1392.9,555.9 1393.3,573.8 1393.7,570.3 1394.2,558.5 1394.6,568.0 1395.0,578.1 1395.4,574.0 1395.9,574.8 1396.3,566.3 1396.7,580.3 1397.2,571.4 1397.6,580.1 1398.0,593.7 1398.4,551.0 1398.9,566.0 1399.3,571.0 1399.7,563.4 1400.1,581.2 1400.6,567.2 1401.0,587.6 1401.4,578.3 1401.8,574.8 1402.3,570.3 1402.7,579.0 1403.1,575.4 1403.5,585.3 1404.0,574.6 1404.4,580.8 1404.8,574.4 1405.2,573.6 1405.7,554.4 1406.1,570.3 1406.5,574.1 1407.0,558.3 1407.4,556.0 1407.8,566.9 1408.2,572.9 1408.7,552.6 1409.1,573.0 1409.5,579.5 1409.9,567.2 1410.4,572.1 1410.8,574.3 1411.2,562.8 1411.6,575.8 1412.1,574.0 1412.5,556.7 1412.9,574.6 1413.3,578.1 1413.8,558.2 1414.2,578.0 1414.6,566.4 1415.0,555.3 1415.5,558.4 1415.9,559.9 1416.3,574.3 1416.8,563.9 1417.2,564.7 1417.6,555.7 1418.0,568.8 1418.5,555.8 1418.9,561.6 1419.3,574.7 1419.7,575.2 1420.2,562.9 1420.6,567.7 1421.0,573.6 1421.4,568.0 1421.9,580.4 1422.3,581.8 1422.7,567.1 1423.1,555.3 1423.6,566.3 1424.0,581.6 1424.4,579.3 1424.8,579.9 1425.3,579.1 1425.7,562.3 1426.1,570.4 1426.6,578.7 1427.0,570.2 1427.4,576.5 1427.8,557.0 1428.3,554.8 1428.7,588.0 1429.1,575.1 1429.5,573.5 1430.0,582.2 1430.4,590.0 1430.8,596.7 1431.2,542.0 1431.7,570.8 1432.1,577.4 1432.5,546.8 1432.9,548.1 1433.4,564.7 1433.8,586.0 1434.2,576.1 1434.6,588.6 1435.1,569.2 1435.5,577.2 1435.9,581.8 1436.4,570.7 1436.8,565.6 1437.2,567.0 1437.6,532.1 1438.1,568.9 1438.5,546.0 1438.9,556.8 1439.3,572.6 1439.8,569.3 1440.2,544.1 1440.6,570.4 1441.0,572.7 1441.5,566.8 1441.9,571.9 1442.3,570.5 1442.7,546.6 1443.2,562.2 1443.6,561.2 1444.0,551.4 1444.5,563.6 1444.9,555.4 1445.3,563.0 1445.7,554.7 1446.2,574.7 1446.6,586.9 1447.0,557.5 1447.4,563.8 1447.9,563.9 1448.3,567.9 1448.7,561.3 1449.1,539.6 1449.6,566.7 1450.0,561.5 1450.4,551.5 1450.8,560.6 1451.3,557.2 1451.7,565.0 1452.1,559.0 1452.5,559.3 1453.0,563.3 1453.4,564.7 1453.8,562.2 1454.3,574.3 1454.7,564.4 1455.1,553.6 1455.5,579.9 1456.0,562.8 1456.4,578.0 1456.8,550.2 1457.2,567.3 1457.7,579.4 1458.1,574.6 1458.5,562.0 1458.9,554.8 1459.4,554.5 1459.8,558.8 1460.2,550.4 1460.6,552.6 1461.1,549.9 1461.5,549.6 1461.9,562.6 1462.3,541.2 1462.8,561.5 1463.2,566.9 1463.6,549.5 1464.1,549.7 1464.5,559.4 1464.9,558.6 1465.3,569.0 1465.8,537.6 1466.2,557.9 1466.6,573.3 1467.0,559.2 1467.5,576.9 1467.9,581.2 1468.3,552.0 1468.7,573.7 1469.2,563.1 1469.6,557.3 1470.0,554.3 1470.4,554.8 1470.9,547.3 1471.3,555.1 1471.7,566.7 1472.1,570.0 1472.6,552.4 1473.0,561.9 1473.4,561.2 1473.9,530.8 1474.3,563.4 1474.7,542.5 1475.1,543.3 1475.6,564.4 1476.0,573.1 1476.4,543.2 1476.8,545.5 1477.3,544.6 1477.7,549.0 1478.1,550.3 1478.5,545.4 1479.0,536.7 1479.4,572.9 1479.8,548.5 1480.2,545.5 1480.7,563.3 1481.1,549.6 1481.5,565.1 1481.9,561.8 1482.4,563.9 1482.8,549.0 1483.2,560.1 1483.7,536.6 1484.1,538.4 1484.5,553.8 1484.9,549.7 1485.4,567.4 1485.8,550.0 1486.2,533.8 1486.6,553.4 1487.1,549.6 1487.5,554.7 1487.9,540.1 1488.3,544.2 1488.8,553.1 1489.2,560.4 1489.6,556.8 1490.0,560.4 1490.5,536.6 1490.9,549.9 1491.3,554.5 1491.7,562.5 1492.2,554.9 1492.6,549.4 1493.0,550.6 1493.5,550.9 1493.9,536.4 1494.3,552.1 1494.7,560.4 1495.2,559.3 1495.6,531.5 1496.0,551.5 1496.4,535.3 1496.9,563.2 1497.3,557.2 1497.7,558.9 1498.1,544.1 1498.6,530.3 1499.0,539.8 1499.4,547.2 1499.8,534.8 1500.3,540.0 1500.7,569.6 1501.1,536.3 1501.5,556.3 1502.0,530.0 1502.4,552.7 1502.8,558.9 1503.3,554.5 1503.7,562.5 1504.1,568.8 1504.5,534.3 1505.0,551.9 1505.4,554.5 1505.8,553.3 1506.2,565.8 1506.7,551.4 1507.1,561.3 1507.5,560.7 1507.9,549.6 1508.4,553.8 1508.8,539.4 1509.2,551.0 1509.6,549.5 1510.1,545.6 1510.5,542.1 1510.9,557.5 1511.3,545.6 1511.8,571.4 1512.2,560.7 1512.6,554.6 1513.1,539.9 1513.5,555.9 1513.9,547.4 1514.3,546.7 1514.8,533.7 1515.2,551.8 1515.6,548.0 1516.0,540.1 1516.5,537.7 1516.9,541.8 1517.3,530.3 1517.7,538.5 1518.2,559.4 1518.6,537.1 1519.0,569.2 1519.4,529.3 1519.9,555.6 1520.3,555.3 1520.7,555.9 1521.1,549.3 1521.6,525.3 1522.0,555.0 1522.4,554.0 1522.9,542.5 1523.3,516.1 1523.7,553.3 1524.1,531.2 1524.6,538.1 1525.0,554.4 1525.4,555.1 1525.8,544.6 1526.3,534.0 1526.7,558.6 1527.1,552.3 1527.5,537.7 1528.0,528.6 1528.4,542.1 1528.8,523.8 1529.2,557.8 1529.7,543.7 1530.1,534.0 1530.5,542.1 1530.9,519.1 1531.4,536.4 1531.8,529.9 1532.2,519.2 1532.7,529.4 1533.1,540.0 1533.5,520.1 1533.9,533.5 1534.4,519.3 1534.8,537.3 1535.2,515.5 1535.6,542.5 1536.1,541.7 1536.5,543.3 1536.9,553.8 1537.3,535.5 1537.8,534.7 1538.2,539.8 1538.6,527.8 1539.0,511.7 1539.5,518.9 1539.9,518.7 1540.3,534.1 1540.8,524.8 1541.2,527.4 1541.6,537.8 1542.0,533.5 1542.5,553.5 1542.9,530.6 1543.3,520.6 1543.7,545.0 1544.2,526.2 1544.6,529.9 1545.0,541.6 1545.4,532.4 1545.9,538.1 1546.3,523.3 1546.7,526.9 1547.1,537.1 1547.6,524.0 1548.0,525.5 1548.4,529.3 1548.8,547.4 1549.3,546.0 1549.7,532.1 1550.1,530.2 1550.6,521.6 1551.0,543.9 1551.4,533.7 1551.8,539.6 1552.3,513.3 1552.7,537.8 1553.1,530.5 1553.5,537.1 1554.0,540.1 1554.4,528.6 1554.8,524.3 1555.2,536.0 1555.7,514.7 1556.1,544.0 1556.5,531.8 1556.9,515.5 1557.4,542.2 1557.8,538.4 1558.2,544.7 1558.6,538.7 1559.1,532.9 1559.5,526.9 1559.9,515.4 1560.4,535.4 1560.8,533.3 1561.2,521.7 1561.6,532.8 1562.1,515.9 1562.5,537.4 1562.9,527.0 1563.3,527.7 1563.8,516.5 1564.2,535.0 1564.6,525.9 1565.0,517.3 1565.5,527.8 1565.9,520.8 1566.3,534.5 1566.7,505.5 1567.2,509.3 1567.6,544.5 1568.0,516.0 1568.4,526.8 1568.9,516.4 1569.3,523.0 1569.7,549.7 1570.2,497.8 1570.6,525.8 1571.0,520.0 1571.4,519.5 1571.9,509.9 1572.3,507.8 1572.7,533.5 1573.1,523.5 1573.6,504.1 1574.0,517.3 1574.4,501.9 1574.8,548.9 1575.3,520.6 1575.7,495.7 1576.1,526.1 1576.5,522.4 1577.0,518.6 1577.4,516.8 1577.8,508.2 1578.2,512.0 1578.7,491.0 1579.1,528.2 1579.5,535.9 1580.0,518.6 1580.4,519.6 1580.8,497.1 1581.2,507.4 1581.7,496.0 1582.1,497.0 1582.5,517.7 1582.9,527.4 1583.4,510.4 1583.8,539.0 1584.2,520.0 1584.6,484.9 1585.1,505.7 1585.5,524.8 1585.9,511.6 1586.3,521.3 1586.8,490.3 1587.2,523.6 1587.6,495.5 1588.0,512.6 1588.5,532.5 1588.9,509.1 1589.3,505.4 1589.8,516.5 1590.2,498.1 1590.6,496.6 1591.0,518.3 1591.5,490.0 1591.9,492.6 1592.3,526.5 1592.7,492.0 1593.2,511.1 1593.6,518.4 1594.0,504.9 1594.4,493.3 1594.9,514.5 1595.3,494.3 1595.7,528.8 1596.1,529.8 1596.6,492.6 1597.0,510.7 1597.4,495.8 1597.8,507.9 1598.3,500.5 1598.7,492.0 1599.1,508.8 1599.6,483.9 1600.0,506.0 1600.4,500.5 1600.8,493.0 1601.3,512.0 1601.7,501.9 1602.1,497.2 1602.5,499.0 1603.0,498.1 1603.4,511.0 1603.8,496.8 1604.2,466.7 1604.7,464.1 1605.1,487.3 1605.5,484.7 1605.9,495.6 1606.4,483.0 1606.8,489.0 1607.2,513.1 1607.6,482.5 1608.1,507.2 1608.5,495.8 1608.9,511.9 1609.4,507.0 1609.8,497.2 1610.2,508.7 1610.6,498.7 1611.1,483.0 1611.5,501.3 1611.9,501.2 1612.3,493.9 1612.8,497.9 1613.2,489.8 1613.6,498.3 1614.0,491.2 1614.5,476.4 1614.9,490.8 1615.3,511.8 1615.7,502.8 1616.2,510.2 1616.6,492.8 1617.0,487.9 1617.4,480.2 1617.9,493.8 1618.3,503.5 1618.7,500.9 1619.2,499.7 1619.6,485.2 1620.0,492.0 1620.4,481.7 1620.9,499.7 1621.3,496.9 1621.7,482.4 1622.1,490.9 1622.6,463.1 1623.0,497.1 1623.4,479.2 1623.8,484.2 1624.3,495.2 1624.7,495.7 1625.1,479.8 1625.5,505.9 1626.0,510.7 1626.4,503.8 1626.8,502.0 1627.2,487.0 1627.7,502.4 1628.1,475.5 1628.5,472.5 1629.0,487.2 1629.4,488.1 1629.8,474.6 1630.2,505.7 1630.7,466.9 1631.1,459.4 1631.5,479.0 1631.9,503.1 1632.4,492.2 1632.8,487.1 1633.2,484.4 1633.6,489.2 1634.1,486.0 1634.5,483.1 1634.9,480.2 1635.3,462.0 1635.8,492.8 1636.2,475.6 1636.6,485.2 1637.1,486.3 1637.5,492.7 1637.9,470.2 1638.3,489.6 1638.8,489.7 1639.2,477.7 1639.6,478.1 1640.0,480.3 1640.5,465.7 1640.9,472.6 1641.3,464.0 1641.7,492.5 1642.2,468.0 1642.6,464.3 1643.0,479.3 1643.4,483.9 1643.9,472.5 1644.3,465.0 1644.7,482.0 1645.1,487.2 1645.6,455.9 1646.0,487.6 1646.4,453.8 1646.9,484.3 1647.3,470.3 1647.7,472.5 1648.1,484.6 1648.6,493.6 1649.0,501.7 1649.4,492.4 1649.8,483.7 1650.3,457.8 1650.7,469.5 1651.1,476.2 1651.5,466.7 1652.0,481.6 1652.4,470.9 1652.8,496.8 1653.2,471.4 1653.7,457.3 1654.1,466.8 1654.5,464.0 1654.9,482.3 1655.4,491.1 1655.8,486.0 1656.2,485.9 1656.7,463.6 1657.1,458.0 1657.5,461.8 1657.9,472.6 1658.4,467.5 1658.8,475.6 1659.2,485.2 1659.6,472.7 1660.1,493.9 1660.5,461.1 1660.9,479.4 1661.3,470.1 1661.8,483.9 1662.2,469.9 1662.6,463.1 1663.0,468.3 1663.5,458.0 1663.9,454.8 1664.3,479.9 1664.7,460.9 1665.2,484.9 1665.6,502.1 1666.0,463.2 1666.5,479.7 1666.9,466.6 1667.3,442.0 1667.7,465.9 1668.2,486.9 1668.6,450.3 1669.0,464.2 1669.4,463.8 1669.9,446.3 1670.3,470.0 1670.7,463.4 1671.1,473.1 1671.6,465.6 1672.0,445.3 1672.4,466.3 1672.8,472.8 1673.3,460.5 1673.7,471.4 1674.1,470.9 1674.5,433.5 1675.0,471.5 1675.4,434.6 1675.8,444.5 1676.3,460.2 1676.7,448.1 1677.1,450.2 1677.5,476.6 1678.0,445.9 1678.4,477.2 1678.8,485.9 1679.2,479.8 1679.7,444.4 1680.1,438.1 1680.5,460.2 1680.9,489.0 1681.4,455.9 1681.8,450.8 1682.2,456.8 1682.6,469.0 1683.1,475.1 1683.5,457.9 1683.9,455.9 1684.3,464.8 1684.8,457.9 1685.2,451.3 1685.6,431.8 1686.1,458.5 1686.5,448.0 1686.9,453.0 1687.3,452.0 1687.8,443.3 1688.2,463.8 1688.6,471.0 1689.0,463.1 1689.5,445.8 1689.9,457.5 1690.3,465.0 1690.7,453.2 1691.2,464.6 1691.6,433.8 1692.0,451.0 1692.4,474.9 1692.9,468.3 1693.3,451.7 1693.7,455.2 1694.1,484.8 1694.6,469.1 1695.0,442.6 1695.4,457.3 1695.9,445.8 1696.3,443.7 1696.7,434.4 1697.1,462.6 1697.6,484.7 1698.0,464.4 1698.4,432.2 1698.8,459.2 1699.3,429.5 1699.7,454.4 1700.1,466.5 1700.5,472.7 1701.0,452.2 1701.4,455.0 1701.8,450.2 1702.2,447.2 1702.7,473.0 1703.1,435.0 1703.5,425.1 1703.9,475.2 1704.4,482.8 1704.8,424.3 1705.2,462.3 1705.7,460.1 1706.1,441.3 1706.5,433.0 1706.9,449.6 1707.4,441.9 1707.8,459.2 1708.2,436.9 1708.6,464.3 1709.1,436.4 1709.5,470.8 1709.9,459.2 1710.3,462.8 1710.8,439.2 1711.2,441.4 1711.6,443.2 1712.0,462.7 1712.5,434.0 1712.9,431.9 1713.3,440.2 1713.7,449.0 1714.2,442.0 1714.6,442.0 1715.0,422.4 1715.5,432.9 1715.9,425.6 1716.3,458.4 1716.7,441.2 1717.2,452.2 1717.6,420.8 1718.0,440.5 1718.4,446.7 1718.9,424.1 1719.3,430.2 1719.7,432.0 1720.1,442.2 1720.6,444.1 1721.0,417.0 1721.4,444.5 1721.8,442.3 1722.3,443.4 1722.7,424.7 1723.1,437.2 1723.5,458.4 1724.0,456.2 1724.4,427.9 1724.8,463.0 1725.3,430.5 1725.7,422.6 1726.1,454.7 1726.5,441.7 1727.0,473.1 1727.4,432.3 1727.8,438.0 1728.2,447.5 1728.7,439.7 1729.1,428.7 1729.5,435.0 1729.9,434.4 1730.4,434.2 1730.8,433.8 1731.2,409.1 1731.6,448.4 1732.1,423.5 1732.5,429.4 1732.9,420.3 1733.4,429.6 1733.8,448.7 1734.2,453.2 1734.6,437.6 1735.1,434.8 1735.5,423.3 1735.9,427.0 1736.3,435.3 1736.8,428.6 1737.2,414.7 1737.6,431.8 1738.0,413.2 1738.5,464.6 1738.9,435.2 1739.3,420.5 1739.7,437.4 1740.2,417.0 1740.6,425.0 1741.0,454.8 1741.4,450.2 1741.9,408.7 1742.3,409.6 1742.7,419.5 1743.2,465.6 1743.6,428.7 1744.0,431.7 1744.4,418.6 1744.9,449.3 1745.3,443.0 1745.7,397.3 1746.1,412.0 1746.6,395.1 1747.0,406.2 1747.4,411.8 1747.8,402.7 1748.3,414.3 1748.7,436.7 1749.1,443.9 1749.5,426.4 1750.0,436.7 1750.4,400.9 1750.8,449.0 1751.2,462.9 1751.7,420.9 1752.1,433.0 1752.5,429.0 1753.0,385.4 1753.4,440.0 1753.8,430.5 1754.2,394.1 1754.7,414.5 1755.1,441.6 1755.5,431.3 1755.9,397.2 1756.4,410.9 1756.8,408.7 1757.2,423.1 1757.6,407.9 1758.1,420.8 1758.5,416.7 1758.9,393.6 1759.3,426.4 1759.8,423.6 1760.2,406.8 1760.6,431.6 1761.0,458.6 1761.5,390.2 1761.9,421.7 1762.3,432.4 1762.8,418.0 1763.2,406.9 1763.6,455.8 1764.0,407.8 1764.5,414.1 1764.9,404.6 1765.3,437.6 1765.7,377.7 1766.2,399.6 1766.6,407.1 1767.0,420.7 1767.4,421.0 1767.9,432.3 1768.3,412.1 1768.7,400.9 1769.1,412.7 1769.6,398.0 1770.0,403.8 1770.4,404.6 1770.8,418.4 1771.3,427.7 1771.7,392.6 1772.1,401.5 1772.6,411.6 1773.0,412.0 1773.4,406.9 1773.8,421.8 1774.3,407.1 1774.7,379.2 1775.1,434.5 1775.5,387.6 1776.0,439.9 1776.4,414.7 1776.8,415.6 1777.2,382.7 1777.7,414.2 1778.1,405.2 1778.5,393.4 1778.9,418.6 1779.4,422.0 1779.8,429.8 1780.2,385.4 1780.6,393.1 1781.1,432.9 1781.5,416.8 1781.9,421.9 1782.4,397.1 1782.8,413.0 1783.2,421.4 1783.6,383.6 1784.1,393.3 1784.5,410.3 1784.9,430.9 1785.3,397.4 1785.8,417.4 1786.2,389.4 1786.6,382.6 1787.0,416.1 1787.5,385.3 1787.9,404.7 1788.3,393.4 1788.7,413.1 1789.2,379.9 1789.6,377.0 1790.0,376.5 1790.4,398.8 1790.9,426.1 1791.3,417.4 1791.7,405.4 1792.2,398.9 1792.6,424.0 1793.0,399.2 1793.4,420.3 1793.9,426.0 1794.3,413.0 1794.7,407.5 1795.1,407.1 1795.6,398.0 1796.0,404.6 1796.4,382.5 1796.8,382.9 1797.3,428.1 1797.7,396.0 1798.1,366.1 1798.5,423.4 1799.0,423.2 1799.4,405.8 1799.8,373.7 1800.2,433.4 1800.7,416.5 1801.1,418.7 1801.5,389.9 1802.0,401.9 1802.4,388.1 1802.8,388.1 1803.2,369.7 1803.7,376.3 1804.1,380.9 1804.5,390.7 1804.9,408.2 1805.4,399.3 1805.8,353.4 1806.2,407.2 1806.6,357.6 1807.1,395.3 1807.5,381.4 1807.9,385.8 1808.3,374.6 1808.8,362.8 1809.2,413.9 1809.6,334.5 1810.0,363.9 1810.5,406.1 1810.9,379.5 1811.3,379.4 1811.8,361.8 1812.2,355.7 1812.6,388.7 1813.0,373.1 1813.5,382.4 1813.9,390.1 1814.3,340.7 1814.7,353.3 1815.2,359.9 1815.6,376.8 1816.0,385.4 1816.4,350.6 1816.9,366.0 1817.3,367.5 1817.7,366.8 1818.1,399.3 1818.6,353.0 1819.0,370.2 1819.4,320.2 1819.8,363.4 1820.3,367.4 1820.7,378.4 1821.1,353.5 1821.6,351.9 1822.0,338.3 1822.4,351.7 1822.8,408.5 1823.3,326.2 1823.7,325.7 1824.1,361.0 1824.5,339.6 1825.0,382.6 1825.4,327.0 1825.8,389.4 1826.2,346.9 1826.7,322.0 1827.1,310.1 1827.5,335.8 1827.9,340.2 1828.4,359.8 1828.8,326.1 1829.2,412.2 1829.7,367.4 1830.1,346.2 1830.5,338.2 1830.9,402.6 1831.4,332.7 1831.8,362.5 1832.2,376.4 1832.6,327.5 1833.1,357.2 1833.5,334.9 1833.9,372.1 1834.3,372.8 1834.8,353.9 1835.2,345.6 1835.6,317.2 1836.0,390.3 1836.5,370.8 1836.9,354.3 1837.3,369.3 1837.7,338.9 1838.2,315.4 1838.6,356.2 1839.0,317.2 1839.5,325.2 1839.9,350.4 1840.3,303.2 1840.7,335.1 1841.2,328.3 1841.6,310.5 1842.0,309.2 1842.4,328.8 1842.9,327.0 1843.3,335.8 1843.7,302.1 1844.1,333.6 1844.6,306.2 1845.0,315.0 1845.4,350.5 1845.8,317.0 1846.3,320.4 1846.7,313.6 1847.1,329.5 1847.5,346.2 1848.0,322.0 1848.4,342.1 1848.8,302.1 1849.3,337.4 1849.7,325.5 1850.1,328.9 1850.5,308.5 1851.0,314.4 1851.4,332.7 1851.8,302.4 1852.2,341.3 1852.7,316.7 1853.1,334.3 1853.5,302.1 1853.9,291.9 1854.4,337.1 1854.8,337.7 1855.2,322.7 1855.6,336.4 1856.1,322.7 1856.5,335.9 1856.9,325.3 1857.3,302.5 1857.8,343.9 1858.2,302.0 1858.6,366.5 1859.1,317.8 1859.5,301.7 1859.9,315.8 1860.3,321.2 1860.8,322.4 1861.2,330.7 1861.6,307.2 1862.0,277.6 1862.5,301.6 1862.9,327.4 1863.3,340.9 1863.7,278.1 1864.2,320.0 1864.6,340.2 1865.0,289.3 1865.4,351.7 1865.9,301.6 1866.3,314.5 1866.7,306.7 1867.1,352.4 1867.6,334.3 1868.0,318.7"/>
<polyline stroke="#00ff00" points="164.0,1022.0 164.4,995.3 164.9,1013.2 165.3,1007.7 165.7,1008.8 166.1,1010.5 166.6,1000.2 167.0,1011.1 167.4,1007.7 167.8,1032.0 168.3,1014.9 168.7,1011.8 169.1,1012.6 169.5,1010.7 170.0,1007.9 170.4,1012.1 170.8,1018.2 171.2,1013.1 171.7,1021.4 172.1,1013.2 172.5,1014.7 172.9,1025.3 173.4,1018.2 173.8,1010.7 174.2,1012.9 174.7,1017.9 175.1,1027.6 175.5,1012.0 175.9,1012.1 176.4,1020.8 176.8,1007.4 177.2,1011.5 177.6,1019.7 178.1,1017.5 178.5,1013.9 178.9,1017.9 179.3,993.2 179.8,1019.8 180.2,1007.3 180.6,1003.3 181.0,1013.2 181.5,1015.0 181.9,1008.3 182.3,1004.4 182.7,1009.8 183.2,1008.9 183.6,1016.2 184.0,1012.2 184.5,1008.7 184.9,1013.1 185.3,1005.5 185.7,1001.1 186.2,1008.8 186.6,1008.2 187.0,1003.4 187.4,999.9 187.9,1004.8 188.3,989.6 188.7,1006.3 189.1,1004.7 189.6,992.7 190.0,1001.3 190.4,995.4 190.8,1003.9 191.3,988.7 191.7,994.0 192.1,1002.0 192.5,1003.8 193.0,985.8 193.4,994.0 193.8,997.7 194.3,992.3 194.7,1003.3 195.1,988.1 195.5,995.7 196.0,987.8 196.4,1000.1 196.8,992.0 197.2,989.6 197.7,982.0 198.1,999.3 198.5,993.9 198.9,993.3 199.4,994.8 199.8,990.2 200.2,983.9 200.6,982.4 201.1,982.3 201.5,996.5 201.9,977.5 202.3,983.1 202.8,984.8 203.2,988.2 203.6,990.4 204.1,978.1 204.5,974.7 204.9,986.0 205.3,993.9 205.8,990.7 206.2,987.0 206.6,983.2 207.0,987.1 207.5,983.4 207.9,990.3 208.3,979.4 208.7,985.4 209.2,983.6 209.6,987.6 210.0,984.7 210.4,987.7 210.9,982.5 211.3,980.0 211.7,968.5 212.2,970.2 212.6,967.0 213.0,966.7 213.4,954.5 213.9,948.3 214.3,938.8 214.7,927.4 215.1,916.1 215.6,899.5 216.0,883.1 216.4,866.6 216.8,851.2 217.3,846.6 217.7,854.7 218.1,860.7 218.5,869.3 219.0,874.7 219.4,882.2 219.8,886.1 220.2,897.2 220.7,909.6 221.1,924.0 221.5,936.2 222.0,948.2 222.4,954.4 222.8,961.4 223.2,965.4 223.7,970.8 224.1,978.4 224.5,986.8 224.9,988.7 225.4,991.8 225.8,993.9 226.2,997.0 226.6,1004.2 227.1,1008.3 227.5,1009.9 227.9,1014.1 228.3,1015.9 228.8,1017.9 229.2,1014.8 229.6,1019.9 230.0,1023.5 230.5,1022.8 230.9,1025.6 231.3,1026.5 231.8,1029.9 232.2,1035.3 232.6,1034.2 233.0,1037.3 233.5,1042.2 233.9,1044.1 234.3,1049.2 234.7,1041.5 235.2,1051.7 235.6,1050.4 236.0,1054.4 236.4,1058.5 236.9,1061.0 237.3,1062.5 237.7,1061.4 238.1,1067.8 238.6,1063.4 239.0,1065.5 239.4,1070.3 239.8,1067.4 240.3,1080.4 240.7,1076.2 241.1,1082.8 241.6,1072.0 242.0,1070.7 242.4,1074.2 242.8,1077.7 243.3,1071.4 243.7,1077.0 244.1,1075.6 244.5,1084.6 245.0,1073.4 245.4,1082.8 245.8,1074.7 246.2,1073.6 246.7,1075.5 247.1,1073.6 247.5,1081.1 247.9,1086.6 248.4,1082.3 248.8,1085.4 249.2,1091.8 249.6,1083.8 250.1,1083.7 250.5,1081.1 250.9,1073.3 251.4,1088.0 251.8,1073.0 252.2,1088.0 252.6,1084.2 253.1,1091.5 253.5,1084.5 253.9,1080.2 254.3,1087.7 254.8,1082.1 255.2,1084.6 255.6,1085.9 256.0,1084.5 256.5,1083.9 256.9,1079.6 257.3,1083.4 257.7,1070.9 258.2,1083.1 258.6,1076.3 259.0,1090.6 259.4,1091.3 259.9,1070.8 260.3,1083.7 260.7,1081.8 261.2,1075.7 261.6,1085.4 262.0,1078.9 262.4,1070.5 262.9,1079.6 263.3,1080.1 263.7,1081.4 264.1,1072.8 264.6,1084.1 265.0,1084.5 265.4,1072.9 265.8,1075.4 266.3,1078.4 266.7,1075.2 267.1,1088.3 267.5,1079.0 268.0,1071.5 268.4,1072.5 268.8,1076.4 269.2,1089.7 269.7,1074.9 270.1,1076.3 270.5,1078.2 271.0,1074.6 271.4,1087.8 271.8,1071.0 272.2,1078.1 272.7,1074.3 273.1,1076.6 273.5,1065.8 273.9,1082.6 274.4,1071.2 274.8,1071.7 275.2,1065.7 275.6,1066.5 276.1,1073.7 276.5,1075.8 276.9,1074.1 277.3,1076.4 277.8,1073.1 278.2,1068.7 278.6,1073.1 279.0,1071.3 279.5,1066.9 279.9,1071.6 280.3,1075.7 280.8,1068.4 281.2,1064.2 281.6,1071.6 282.0,1079.7 282.5,1064.9 282.9,1065.6 283.3,1065.2 283.7,1074.6 284.2,1053.2 284.6,1068.4 285.0,1074.0 285.4,1060.0 285.9,1075.9 286.3,1069.1 286.7,1061.5 287.1,1066.6 287.6,1054.4 288.0,1061.1 288.4,1077.6 288.8,1058.6 289.3,1077.5 289.7,1064.0 290.1,1071.4 290.6,1064.7 291.0,1048.7 291.4,1060.2 291.8,1065.4 292.3,1055.9 292.7,1054.5 293.1,1066.3 293.5,1059.1 294.0,1051.7 294.4,1058.7 294.8,1069.3 295.2,1059.9 295.7,1069.6 296.1,1073.6 296.5,1063.1 296.9,1054.9 297.4,1053.6 297.8,1062.4 298.2,1068.6 298.6,1064.2 299.1,1066.0 299.5,1059.0 299.9,1064.0 300.4,1058.8 300.8,1059.5 301.2,1053.3 301.6,1051.3 302.1,1057.6 302.5,1053.5 302.9,1054.1 303.3,1063.8 303.8,1058.7 304.2,1076.8 304.6,1064.4 305.0,1054.6 305.5,1062.9 305.9,1060.1 306.3,1053.4 306.7,1064.0 307.2,1052.2 307.6,1038.0 308.0,1061.2 308.5,1052.3 308.9,1064.9 309.3,1051.5 309.7,1047.6 310.2,1066.5 310.6,1048.1 311.0,1056.8 311.4,1065.2 311.9,1056.5 312.3,1055.4 312.7,1056.8 313.1,1061.8 313.6,1051.1 314.0,1060.7 314.4,1060.6 314.8,1072.4 315.3,1054.9 315.7,1051.2 316.1,1062.3 316.5,1055.0 317.0,1059.7 317.4,1058.8 317.8,1065.9 318.3,1053.9 318.7,1057.9 319.1,1041.7 319.5,1052.9 320.0,1069.2 320.4,1054.6 320.8,1054.7 321.2,1051.4 321.7,1063.5 322.1,1061.0 322.5,1052.1 322.9,1064.6 323.4,1062.1 323.8,1065.5 324.2,1056.4 324.6,1072.4 325.1,1063.7 325.5,1060.4 325.9,1057.9 326.3,1059.9 326.8,1067.4 327.2,1060.1 327.6,1069.2 328.1,1066.1 328.5,1071.3 328.9,1068.0 329.3,1062.3 329.8,1050.0 330.2,1065.1 330.6,1068.7 331.0,1064.3 331.5,1067.2 331.9,1059.9 332.3,1060.6 332.7,1056.7 333.2,1073.2 333.6,1064.7 334.0,1060.1 334.4,1054.1 334.9,1062.6 335.3,1074.1 335.7,1067.2 336.1,1058.7 336.6,1074.2 337.0,1074.3 337.4,1071.1 337.9,1069.8 338.3,1072.5 338.7,1068.2 339.1,1069.9 339.6,1058.8 340.0,1075.2 340.4,1066.2 340.8,1079.1 341.3,1050.1 341.7,1069.8 342.1,1071.9 342.5,1062.4 343.0,1068.2 343.4,1070.4 343.8,1069.2 344.2,1061.3 344.7,1064.2 345.1,1072.6 345.5,1074.5 345.9,1066.1 346.4,1066.0 346.8,1067.0 347.2,1073.0 347.7,1058.1 348.1,1056.2 348.5,1066.7 348.9,1057.9 349.4,1061.7 349.8,1066.6 350.2,1069.5 350.6,1058.4 351.1,1071.9 351.5,1053.5 351.9,1070.2 352.3,1055.0 352.8,1057.3 353.2,1071.1 353.6,1063.6 354.0,1060.9 354.5,1063.5 354.9,1070.1 355.3,1066.4 355.7,1066.7 356.2,1074.5 356.6,1061.9 357.0,1063.7 357.5,1063.4 357.9,1075.6 358.3,1074.4 358.7,1076.5 359.2,1067.1 359.6,1066.3 360.0,1073.6 360.4,1064.7 360.9,1073.6 361.3,1072.9 361.7,1062.8 362.1,1067.2 362.6,1067.0 363.0,1080.4 363.4,1086.6 363.8,1067.4 364.3,1068.2 364.7,1051.9 365.1,1069.8 365.5,1068.3 366.0,1060.7 366.4,1074.1 366.8,1057.3 367.3,1067.0 367.7,1069.6 368.1,1059.8 368.5,1074.9 369.0,1076.4 369.4,1059.0 369.8,1058.6 370.2,1073.3 370.7,1068.7 371.1,1060.2 371.5,1066.6 371.9,1067.9 372.4,1067.5 372.8,1074.3 373.2,1071.1 373.6,1080.8 374.1,1077.9 374.5,1072.9 374.9,1075.6 375.3,1077.3 375.8,1072.8 376.2,1059.1 376.6,1073.7 377.1,1068.1 377.5,1078.9 377.9,1068.1 378.3,1071.0 378.8,1069.6 379.2,1079.0 379.6,1068.3 380.0,1065.4 380.5,1067.9 380.9,1063.5 381.3,1065.8 381.7,1064.4 382.2,1065.1 382.6,1072.8 383.0,1060.4 383.4,1062.0 383.9,1060.2 384.3,1063.9 384.7,1054.0 385.1,1055.8 385.6,1058.4 386.0,1060.7 386.4,1057.1 386.9,1054.2 387.3,1051.7 387.7,1058.0 388.1,1062.0 388.6,1055.8 389.0,1054.5 389.4,1055.1 389.8,1047.7 390.3,1050.0 390.7,1049.4 391.1,1051.0 391.5,1048.6 392.0,1042.5 392.4,1052.0 392.8,1053.6 393.2,1044.0 393.7,1046.1 394.1,1044.6 394.5,1046.0 394.9,1035.1 395.4,1047.9 395.8,1037.7 396.2,1044.5 396.7,1038.4 397.1,1035.4 397.5,1035.6 397.9,1039.3 398.4,1030.6 398.8,1031.9 399.2,1030.5 399.6,1024.1 400.1,1037.3 400.5,1033.5 400.9,1029.8 401.3,1035.6 401.8,1023.7 402.2,1028.0 402.6,1037.1 403.0,1032.6 403.5,1014.9 403.9,1009.1 404.3,1020.2 404.8,1031.0 405.2,1022.2 405.6,1023.1 406.0,1027.0 406.5,1018.5 406.9,1023.9 407.3,1026.5 407.7,1024.2 408.2,1023.3 408.6,1017.5 409.0,1023.0 409.4,1017.4 409.9,1026.5 410.3,1034.1 410.7,1014.0 411.1,1004.9 411.6,1015.3 412.0,1019.9 412.4,1023.7 412.8,1023.6 413.3,1011.9 413.7,1011.6 414.1,1023.8 414.6,1009.1 415.0,1022.2 415.4,1013.8 415.8,1019.6 416.3,1018.9 416.7,1019.1 417.1,1019.0 417.5,1007.7 418.0,1015.2 418.4,1013.2 418.8,1014.7 419.2,1020.1 419.7,1010.7 420.1,1008.5 420.5,1007.7 420.9,1008.2 421.4,1011.2 421.8,1003.9 422.2,1010.4 422.6,1005.9 423.1,1002.7 423.5,997.1 423.9,1002.2 424.4,1002.7 424.8,991.9 425.2,1002.4 425.6,1003.0 426.1,996.7 426.5,996.1 426.9,1002.5 427.3,996.7 427.8,987.1 428.2,989.5 428.6,988.0 429.0,987.1 429.5,976.5 429.9,989.3 430.3,982.2 430.7,984.8 431.2,982.6 431.6,986.1 432.0,980.1 432.4,977.0 432.9,981.9 433.3,984.8 433.7,976.3 434.2,982.8 434.6,977.1 435.0,973.3 435.4,976.4 435.9,967.9 436.3,970.2 436.7,963.8 437.1,963.8 437.6,957.0 438.0,955.5 438.4,957.9 438.8,953.2 439.3,950.4 439.7,946.7 440.1,946.4 440.5,939.2 441.0,937.4 441.4,937.2 441.8,933.0 442.2,930.8 442.7,929.8 443.1,927.1 443.5,924.3 444.0,926.5 444.4,922.3 444.8,920.3 445.2,914.5 445.7,910.8 446.1,905.9 446.5,906.1 446.9,899.2 447.4,900.4 447.8,901.2 448.2,900.8 448.6,896.6 449.1,889.4 449.5,890.3 449.9,884.9 450.3,883.2 450.8,876.6 451.2,872.9 451.6,870.4 452.0,862.8 452.5,859.8 452.9,851.8 453.3,852.4 453.8,859.6 454.2,864.3 454.6,864.2 455.0,869.4 455.5,870.7 455.9,877.0 456.3,883.0 456.7,885.3 457.2,888.9 457.6,892.6 458.0,900.3 458.4,905.9 458.9,910.6 459.3,915.0 459.7,917.6 460.1,927.2 460.6,929.3 461.0,934.1 461.4,940.4 461.8,940.6 462.3,948.0 462.7,951.2 463.1,955.6 463.6,960.9 464.0,962.4 464.4,960.9 464.8,967.4 465.3,971.8 465.7,975.0 466.1,975.4 466.5,977.9 467.0,986.5 467.4,987.2 467.8,984.4 468.2,973.4 468.7,995.1 469.1,965.6 469.5,981.2 469.9,996.3 470.4,982.0 470.8,984.2 471.2,975.1 471.6,991.7 472.1,976.2 472.5,984.6 472.9,985.7 473.4,983.1 473.8,991.3 474.2,984.8 474.6,988.8 475.1,992.6 475.5,992.8 475.9,997.3 476.3,1000.4 476.8,997.6 477.2,998.3 477.6,999.8 478.0,1001.6 478.5,1007.7 478.9,1003.5 479.3,1007.2 479.7,1005.6 480.2,1002.7 480.6,1011.6 481.0,1003.2 481.4,1008.9 481.9,1016.8 482.3,1005.1 482.7,1010.8 483.2,1004.2 483.6,1010.1 484.0,1006.1 484.4,1012.3 484.9,1012.1 485.3,1016.1 485.7,1024.2 486.1,1018.0 486.6,1020.5 487.0,1017.3 487.4,1016.9 487.8,1014.3 488.3,1009.8 488.7,1020.2 489.1,1028.9 489.5,1023.4 490.0,1018.7 490.4,1030.7 490.8,1020.3 491.2,1019.9 491.7,1017.3 492.1,1019.2 492.5,1023.5 493.0,1035.8 493.4,1024.8 493.8,1021.0 494.2,1023.8 494.7,1026.4 495.1,1017.9 495.5,1029.1 495.9,1033.0 496.4,1030.8 496.8,1032.8 497.2,1020.8 497.6,1018.4 498.1,1037.8 498.5,1036.8 498.9,1020.0 499.3,1031.5 499.8,1030.6 500.2,1034.1 500.6,1032.2 501.1,1027.8 501.5,1032.5 501.9,1032.5 502.3,1031.4 502.8,1019.9 503.2,1012.8 503.6,1027.2 504.0,1022.0 504.5,1034.4 504.9,1037.7 505.3,1034.9 505.7,1030.5 506.2,1033.7 506.6,1041.6 507.0,1028.3 507.4,1040.0 507.9,1038.6 508.3,1035.5 508.7,1044.0 509.1,1028.8 509.6,1040.6 510.0,1027.4 510.4,1028.7 510.9,1026.7 511.3,1037.4 511.7,1027.7 512.1,1034.8 512.6,1026.5 513.0,1042.1 513.4,1047.6 513.8,1036.4 514.3,1046.4 514.7,1039.0 515.1,1050.7 515.5,1035.5 516.0,1024.0 516.4,1044.8 516.8,1033.6 517.2,1027.2 517.7,1029.7 518.1,1022.9 518.5,1032.8 518.9,1026.5 519.4,1043.8 519.8,1038.1 520.2,1022.1 520.7,1023.0 521.1,1029.3 521.5,1019.9 521.9,1032.2 522.4,1032.5 522.8,1027.4 523.2,1028.8 523.6,1035.8 524.1,1042.0 524.5,1042.4 524.9,1032.2 525.3,1036.9 525.8,1027.0 526.2,1033.5 526.6,1025.0 527.0,1034.7 527.5,1022.7 527.9,1024.0 528.3,1029.3 528.7,1032.3 529.2,1020.1 529.6,1025.1 530.0,1028.8 530.5,1029.0 530.9,1022.3 531.3,1027.5 531.7,1025.0 532.2,1034.6 532.6,1029.2 533.0,1017.7 533.4,1012.2 533.9,1025.5 534.3,1031.6 534.7,1025.2 535.1,1028.7 535.6,1020.7 536.0,1015.5 536.4,1026.3 536.8,1022.3 537.3,1025.0 537.7,1013.3 538.1,1021.2 538.5,1016.4 539.0,1023.6 539.4,1015.6 539.8,1014.9 540.3,1014.5 540.7,1024.0 541.1,1016.8 541.5,1012.1 542.0,1010.2 542.4,1009.5 542.8,1022.5 543.2,1004.4 543.7,1009.0 544.1,1016.5 544.5,1018.9 544.9,1011.0 545.4,1016.9 545.8,1017.0 546.2,1018.8 546.6,1014.1 547.1,1023.4 547.5,1016.0 547.9,1023.8 548.3,1009.9 548.8,1021.5 549.2,1010.1 549.6,1009.2 550.1,1020.6 550.5,1013.9 550.9,1021.3 551.3,1013.6 551.8,1028.5 552.2,1020.5 552.6,1015.4 553.0,1022.6 553.5,1026.8 553.9,1019.2 554.3,1026.3 554.7,1034.6 555.2,1029.3 555.6,1025.6 556.0,1023.4 556.4,1029.8 556.9,1020.0 557.3,1013.0 557.7,1025.5 558.1,1024.1 558.6,1038.9 559.0,1031.5 559.4,1026.5 559.9,1026.3 560.3,1035.2 560.7,1029.5 561.1,1031.4 561.6,1034.5 562.0,1036.1 562.4,1036.9 562.8,1037.7 563.3,1044.1 563.7,1046.8 564.1,1031.4 564.5,1052.4 565.0,1041.4 565.4,1047.5 565.8,1038.7 566.2,1044.5 566.7,1044.7 567.1,1045.0 567.5,1049.2 567.9,1048.9 568.4,1041.8 568.8,1046.8 569.2,1051.5 569.7,1052.2 570.1,1047.5 570.5,1047.8 570.9,1048.9 571.4,1042.7 571.8,1041.7 572.2,1060.8 572.6,1047.9 573.1,1051.4 573.5,1045.9 573.9,1059.7 574.3,1062.9 574.8,1049.9 575.2,1055.0 575.6,1046.7 576.0,1063.6 576.5,1058.2 576.9,1046.7 577.3,1060.7 577.7,1055.0 578.2,1055.5 578.6,1055.3 579.0,1048.7 579.5,1049.7 579.9,1057.6 580.3,1053.3 580.7,1047.6 581.2,1067.3 581.6,1052.8 582.0,1050.7 582.4,1050.0 582.9,1059.3 583.3,1061.3 583.7,1056.7 584.1,1061.0 584.6,1045.7 585.0,1053.3 585.4,1052.8 585.8,1056.1 586.3,1059.5 586.7,1043.1 587.1,1077.1 587.5,1051.1 588.0,1059.3 588.4,1062.6 588.8,1062.9 589.3,1059.1 589.7,1038.7 590.1,1050.8 590.5,1063.1 591.0,1052.3 591.4,1051.6 591.8,1043.2 592.2,1066.8 592.7,1062.3 593.1,1053.3 593.5,1058.5 593.9,1058.9 594.4,1052.4 594.8,1058.1 595.2,1061.7 595.6,1063.9 596.1,1068.7 596.5,1060.8 596.9,1057.8 597.4,1063.6 597.8,1057.0 598.2,1053.2 598.6,1069.0 599.1,1059.2 599.5,1062.7 599.9,1066.5 600.3,1054.3 600.8,1066.9 601.2,1065.5 601.6,1061.7 602.0,1065.3 602.5,1057.1 602.9,1046.8 603.3,1060.6 603.7,1056.2 604.2,1069.0 604.6,1064.7 605.0,1059.1 605.4,1063.3 605.9,1072.7 606.3,1071.2 606.7,1065.8 607.2,1066.3 607.6,1061.3 608.0,1062.4 608.4,1067.6 608.9,1062.6 609.3,1065.7 609.7,1055.6 610.1,1051.7 610.6,1051.5 611.0,1060.6 611.4,1073.3 611.8,1072.4 612.3,1056.8 612.7,1052.9 613.1,1069.8 613.5,1067.5 614.0,1054.4 614.4,1071.9 614.8,1065.6 615.2,1073.9 615.7,1066.9 616.1,1070.9 616.5,1066.9 617.0,1057.8 617.4,1063.0 617.8,1059.9 618.2,1070.8 618.7,1057.8 619.1,1054.0 619.5,1069.9 619.9,1073.3 620.4,1075.4 620.8,1073.0 621.2,1054.7 621.6,1060.5 622.1,1061.6 622.5,1065.4 622.9,1050.5 623.3,1065.7 623.8,1067.8 624.2,1059.2 624.6,1066.8 625.0,1074.5 625.5,1066.5 625.9,1073.7 626.3,1073.5 626.8,1069.3 627.2,1069.2 627.6,1064.0 628.0,1075.4 628.5,1063.4 628.9,1061.9 629.3,1071.9 629.7,1061.9 630.2,1070.1 630.6,1074.7 631.0,1067.9 631.4,1068.1 631.9,1073.9 632.3,1072.9 632.7,1056.8 633.1,1058.5 633.6,1077.2 634.0,1070.7 634.4,1053.3 634.8,1058.6 635.3,1068.3 635.7,1061.3 636.1,1071.6 636.6,1069.0 637.0,1072.0 637.4,1060.4 637.8,1073.1 638.3,1082.6 638.7,1063.3 639.1,1078.2 639.5,1076.0 640.0,1073.9 640.4,1068.6 640.8,1060.6 641.2,1062.6 641.7,1074.6 642.1,1076.1 642.5,1077.8 642.9,1075.9 643.4,1075.4 643.8,1065.6 644.2,1060.0 644.6,1070.2 645.1,1072.3 645.5,1069.2 645.9,1057.5 646.4,1064.8 646.8,1057.7 647.2,1069.5 647.6,1060.8 648.1,1067.2 648.5,1070.7 648.9,1069.3 649.3,1078.2 649.8,1060.2 650.2,1052.3 650.6,1075.0 651.0,1078.3 651.5,1078.5 651.9,1070.1 652.3,1071.9 652.7,1068.8 653.2,1058.5 653.6,1063.7 654.0,1071.4 654.4,1063.6 654.9,1081.6 655.3,1056.5 655.7,1064.5 656.2,1075.7 656.6,1063.1 657.0,1059.3 657.4,1057.6 657.9,1062.1 658.3,1078.4 658.7,1070.3 659.1,1071.1 659.6,1063.5 660.0,1073.3 660.4,1067.9 660.8,1060.5 661.3,1063.8 661.7,1068.4 662.1,1075.3 662.5,1066.4 663.0,1070.4 663.4,1081.2 663.8,1060.9 664.2,1057.7 664.7,1073.6 665.1,1069.6 665.5,1065.7 666.0,1068.2 666.4,1063.9 666.8,1069.9 667.2,1063.8 667.7,1071.8 668.1,1057.6 668.5,1060.1 668.9,1066.7 669.4,1062.5 669.8,1070.8 670.2,1065.4 670.6,1061.8 671.1,1067.1 671.5,1061.8 671.9,1054.3 672.3,1057.3 672.8,1059.6 673.2,1061.9 673.6,1065.9 674.0,1071.7 674.5,1069.1 674.9,1077.8 675.3,1074.1 675.8,1063.6 676.2,1076.7 676.6,1073.3 677.0,1061.5 677.5,1066.9 677.9,1072.5 678.3,1066.3 678.7,1071.8 679.2,1067.3 679.6,1069.4 680.0,1062.1 680.4,1066.7 680.9,1061.6 681.3,1068.4 681.7,1052.3 682.1,1065.8 682.6,1071.8 683.0,1067.2 683.4,1062.9 683.8,1066.6 684.3,1057.1 684.7,1057.1 685.1,1060.1 685.6,1061.4 686.0,1068.7 686.4,1056.0 686.8,1068.7 687.3,1051.2 687.7,1056.3 688.1,1061.2 688.5,1069.1 689.0,1057.0 689.4,1046.6 689.8,1063.7 690.2,1060.5 690.7,1053.3 691.1,1053.4 691.5,1055.6 691.9,1060.8 692.4,1064.5 692.8,1049.9 693.2,1075.1 693.7,1059.3 694.1,1056.9 694.5,1063.8 694.9,1059.8 695.4,1074.7 695.8,1066.2 696.2,1056.1 696.6,1055.9 697.1,1055.0 697.5,1055.9 697.9,1062.6 698.3,1053.5 698.8,1068.6 699.2,1057.0 699.6,1056.4 700.0,1063.6 700.5,1044.0 700.9,1050.7 701.3,1060.7 701.7,1056.7 702.2,1056.3 702.6,1058.9 703.0,1052.1 703.5,1054.8 703.9,1046.7 704.3,1043.1 704.7,1063.8 705.2,1049.0 705.6,1050.3 706.0,1064.1 706.4,1061.7 706.9,1051.0 707.3,1050.8 707.7,1053.6 708.1,1047.7 708.6,1057.5 709.0,1054.6 709.4,1054.4 709.8,1058.3 710.3,1057.9 710.7,1065.2 711.1,1062.9 711.5,1041.3 712.0,1058.4 712.4,1044.9 712.8,1042.6 713.3,1056.7 713.7,1047.1 714.1,1049.5 714.5,1058.5 715.0,1046.9 715.4,1045.2 715.8,1053.1 716.2,1058.9 716.7,1054.1 717.1,1040.1 717.5,1045.9 717.9,1049.1 718.4,1062.7 718.8,1055.7 719.2,1055.2 719.6,1057.5 720.1,1047.0 720.5,1052.8 720.9,1052.9 721.3,1042.6 721.8,1049.5 722.2,1053.7 722.6,1042.2 723.1,1055.6 723.5,1055.3 723.9,1057.3 724.3,1044.7 724.8,1051.0 725.2,1060.6 725.6,1056.0 726.0,1044.9 726.5,1052.1 726.9,1060.7 727.3,1050.2 727.7,1053.5 728.2,1069.0 728.6,1050.7 729.0,1050.3 729.4,1044.1 729.9,1046.6 730.3,1061.8 730.7,1050.4 731.1,1043.1 731.6,1045.0 732.0,1051.7 732.4,1057.1 732.9,1046.5 733.3,1056.9 733.7,1048.5 734.1,1054.5 734.6,1055.8 735.0,1056.5 735.4,1049.2 735.8,1051.1 736.3,1056.0 736.7,1043.4 737.1,1053.8 737.5,1056.3 738.0,1060.1 738.4,1052.5 738.8,1051.6 739.2,1053.9 739.7,1047.8 740.1,1051.5 740.5,1055.8 740.9,1054.8 741.4,1045.4 741.8,1050.4 742.2,1037.7 742.7,1058.1 743.1,1048.6 743.5,1054.0 743.9,1044.4 744.4,1051.5 744.8,1055.1 745.2,1058.8 745.6,1042.2 746.1,1057.7 746.5,1050.5 746.9,1046.1 747.3,1054.8 747.8,1049.3 748.2,1049.2 748.6,1046.2 749.0,1052.7 749.5,1051.2 749.9,1049.7 750.3,1044.1 750.7,1047.1 751.2,1053.5 751.6,1059.6 752.0,1050.3 752.5,1060.3 752.9,1050.2 753.3,1042.5 753.7,1054.6 754.2,1043.2 754.6,1052.8 755.0,1057.4 755.4,1047.6 755.9,1049.1 756.3,1067.0 756.7,1051.2 757.1,1051.3 757.6,1054.9 758.0,1048.6 758.4,1048.6 758.8,1051.8 759.3,1032.2 759.7,1059.0 760.1,1040.9 760.5,1040.9 761.0,1052.9 761.4,1049.1 761.8,1039.7 762.3,1050.5 762.7,1040.6 763.1,1043.9 763.5,1037.9 764.0,1043.0 764.4,1052.0 764.8,1050.0 765.2,1051.4 765.7,1056.0 766.1,1048.9 766.5,1044.3 766.9,1047.1 767.4,1061.4 767.8,1049.5 768.2,1051.6 768.6,1048.6 769.1,1051.1 769.5,1052.5 769.9,1049.3 770.3,1048.2 770.8,1043.6 771.2,1043.2 771.6,1052.5 772.1,1055.0 772.5,1056.3 772.9,1049.9 773.3,1043.4 773.8,1054.2 774.2,1054.1 774.6,1038.5 775.0,1055.5 775.5,1053.9 775.9,1062.0 776.3,1041.4 776.7,1040.3 777.2,1055.5 777.6,1036.5 778.0,1044.4 778.4,1041.7 778.9,1042.3 779.3,1035.8 779.7,1048.1 780.2,1057.0 780.6,1053.0 781.0,1052.9 781.4,1047.1 781.9,1060.0 782.3,1053.3 782.7,1057.0 783.1,1038.4 783.6,1051.8 784.0,1041.2 784.4,1051.8 784.8,1050.6 785.3,1041.1 785.7,1050.4 786.1,1057.3 786.5,1052.6 787.0,1053.1 787.4,1042.7 787.8,1043.9 788.2,1040.8 788.7,1049.6 789.1,1057.1 789.5,1051.7 790.0,1048.5 790.4,1040.4 790.8,1051.5 791.2,1046.6 791.7,1034.7 792.1,1035.8 792.5,1045.7 792.9,1041.7 793.4,1059.8 793.8,1048.2 794.2,1040.5 794.6,1044.3 795.1,1059.1 795.5,1040.9 795.9,1053.1 796.3,1050.7 796.8,1058.0 797.2,1051.2 797.6,1044.5 798.0,1051.1 798.5,1047.7 798.9,1054.1 799.3,1046.7 799.8,1061.1 800.2,1046.3 800.6,1050.0 801.0,1042.2 801.5,1047.7 801.9,1046.9 802.3,1047.8 802.7,1052.9 803.2,1042.7 803.6,1040.4 804.0,1054.1 804.4,1044.2 804.9,1041.4 805.3,1054.1 805.7,1051.4 806.1,1027.3 806.6,1043.1 807.0,1051.2 807.4,1051.5 807.8,1041.9 808.3,1056.4 808.7,1039.8 809.1,1043.7 809.6,1046.1 810.0,1045.1 810.4,1050.7 810.8,1052.1 811.3,1044.6 811.7,1054.6 812.1,1039.9 812.5,1043.2 813.0,1056.6 813.4,1045.2 813.8,1051.9 814.2,1041.3 814.7,1042.4 815.1,1043.4 815.5,1045.3 815.9,1041.6 816.4,1044.0 816.8,1048.6 817.2,1052.2 817.6,1044.5 818.1,1048.2 818.5,1049.9 818.9,1035.9 819.4,1032.3 819.8,1054.9 820.2,1053.1 820.6,1043.7 821.1,1045.9 821.5,1036.6 821.9,1033.4 822.3,1045.8 822.8,1032.8 823.2,1050.2 823.6,1038.7 824.0,1045.7 824.5,1057.7 824.9,1057.4 825.3,1041.8 825.7,1051.5 826.2,1036.4 826.6,1039.6 827.0,1046.6 827.4,1054.0 827.9,1039.8 828.3,1048.0 828.7,1044.8 829.2,1035.0 829.6,1043.2 830.0,1055.1 830.4,1043.6 830.9,1047.9 831.3,1050.3 831.7,1039.0 832.1,1053.3 832.6,1055.4 833.0,1056.1 833.4,1054.1 833.8,1041.2 834.3,1040.4 834.7,1039.0 835.1,1038.1 835.5,1039.0 836.0,1052.0 836.4,1055.4 836.8,1040.2 837.2,1050.8 837.7,1035.7 838.1,1042.6 838.5,1037.8 839.0,1033.2 839.4,1045.5 839.8,1045.7 840.2,1042.3 840.7,1041.4 841.1,1038.2 841.5,1043.6 841.9,1040.3 842.4,1045.6 842.8,1036.0 843.2,1045.1 843.6,1046.8 844.1,1051.4 844.5,1049.9 844.9,1044.1 845.3,1038.2 845.8,1030.5 846.2,1042.2 846.6,1051.3 847.0,1052.7 847.5,1025.1 847.9,1036.6 848.3,1039.0 848.8,1034.3 849.2,1042.1 849.6,1041.0 850.0,1037.2 850.5,1040.1 850.9,1029.7 851.3,1033.6 851.7,1033.9 852.2,1045.4 852.6,1028.7 853.0,1037.8 853.4,1044.1 853.9,1038.4 854.3,1043.9 854.7,1034.1 855.1,1041.1 855.6,1043.9 856.0,1052.4 856.4,1042.4 856.8,1046.8 857.3,1037.4 857.7,1037.7 858.1,1047.2 858.6,1040.5 859.0,1045.8 859.4,1041.0 859.8,1049.9 860.3,1051.2 860.7,1030.4 861.1,1047.3 861.5,1038.0 862.0,1038.1 862.4,1034.1 862.8,1039.1 863.2,1027.3 863.7,1029.5 864.1,1029.0 864.5,1035.5 864.9,1039.3 865.4,1037.9 865.8,1035.3 866.2,1029.0 866.6,1021.3 867.1,1034.8 867.5,1033.0 867.9,1034.1 868.4,1040.7 868.8,1030.2 869.2,1029.8 869.6,1016.2 870.1,1034.2 870.5,1030.1 870.9,1025.5 871.3,1032.4 871.8,1023.1 872.2,1026.0 872.6,1041.7 873.0,1033.8 873.5,1034.7 873.9,1033.3 874.3,1032.4 874.7,1029.3 875.2,1042.4 875.6,1027.1 876.0,1032.0 876.5,1025.7 876.9,1024.6 877.3,1011.1 877.7,1014.2 878.2,1036.0 878.6,1035.4 879.0,1022.9 879.4,1025.2 879.9,1029.0 880.3,1018.9 880.7,1035.2 881.1,1018.0 881.6,1019.6 882.0,1007.0 882.4,1032.4 882.8,1023.3 883.3,1032.4 883.7,1016.3 884.1,1024.0 884.5,1022.1 885.0,1022.6 885.4,1033.5 885.8,1034.4 886.3,1028.7 886.7,1017.7 887.1,1025.1 887.5,1027.5 888.0,1022.5 888.4,1022.2 888.8,1021.4 889.2,1012.7 889.7,1019.3 890.1,1027.2 890.5,1011.2 890.9,1017.4 891.4,1021.6 891.8,1008.0 892.2,1015.1 892.6,1005.4 893.1,1011.6 893.5,1006.5 893.9,1009.2 894.3,1011.3 894.8,1012.3 895.2,1012.4 895.6,998.8 896.1,1022.6 896.5,1011.0 896.9,1005.7 897.3,1008.2 897.8,1013.6 898.2,1005.3 898.6,1008.6 899.0,1007.9 899.5,1013.7 899.9,1005.5 900.3,1012.7 900.7,1011.9 901.2,1008.5 901.6,1017.2 902.0,1009.1 902.4,1001.2 902.9,1010.5 903.3,1009.1 903.7,1007.9 904.1,1009.4 904.6,1022.9 905.0,1009.0 905.4,1010.2 905.9,1005.5 906.3,1015.3 906.7,1006.3 907.1,1001.3 907.6,998.3 908.0,1009.4 908.4,1010.6 908.8,995.3 909.3,1000.7 909.7,1009.3 910.1,1011.6 910.5,996.2 911.0,1001.9 911.4,1009.7 911.8,1000.6 912.2,1001.0 912.7,1000.2 913.1,995.0 913.5,1003.5 913.9,1005.0 914.4,993.8 914.8,1003.2 915.2,1009.5 915.7,1003.5 916.1,1008.1 916.5,998.2 916.9,1010.4 917.4,996.2 917.8,1013.3 918.2,998.0 918.6,996.0 919.1,994.7 919.5,997.6 919.9,996.9 920.3,995.5 920.8,997.5 921.2,1003.3 921.6,1004.4 922.0,996.6 922.5,1006.0 922.9,991.9 923.3,991.5 923.7,990.6 924.2,1001.0 924.6,987.4 925.0,988.1 925.5,1004.3 925.9,1006.7 926.3,1004.2 926.7,986.4 927.2,995.4 927.6,1000.2 928.0,995.4 928.4,984.5 928.9,992.1 929.3,983.4 929.7,986.0 930.1,1006.7 930.6,997.3 931.0,983.7 931.4,983.2 931.8,995.1 932.3,988.2 932.7,995.3 933.1,987.4 933.5,989.9 934.0,992.3 934.4,984.2 934.8,978.4 935.3,982.6 935.7,985.4 936.1,988.2 936.5,988.8 937.0,988.5 937.4,991.8 937.8,982.8 938.2,996.7 938.7,1000.2 939.1,989.8 939.5,988.4 939.9,994.8 940.4,990.9 940.8,987.7 941.2,985.2 941.6,981.3 942.1,978.3 942.5,989.9 942.9,993.1 943.3,978.4 943.8,984.5 944.2,986.2 944.6,981.8 945.1,979.5 945.5,981.6 945.9,971.2 946.3,983.3 946.8,981.6 947.2,997.0 947.6,989.1 948.0,980.6 948.5,982.6 948.9,993.5 949.3,992.6 949.7,983.2 950.2,981.0 950.6,972.3 951.0,979.3 951.4,980.1 951.9,976.2 952.3,991.9 952.7,968.4 953.1,979.4 953.6,982.7 954.0,982.7 954.4,990.6 954.9,970.4 955.3,974.4 955.7,979.7 956.1,979.7 956.6,976.1 957.0,973.5 957.4,985.1 957.8,971.2 958.3,974.0 958.7,986.8 959.1,988.5 959.5,982.7 960.0,971.1 960.4,970.7 960.8,970.3 961.2,968.6 961.7,973.6 962.1,985.7 962.5,978.1 962.9,971.0 963.4,970.8 963.8,967.9 964.2,984.9 964.7,961.7 965.1,978.0 965.5,965.7 965.9,968.4 966.4,965.2 966.8,982.7 967.2,975.1 967.6,995.3 968.1,968.2 968.5,967.7 968.9,979.7 969.3,979.4 969.8,973.3 970.2,960.8 970.6,985.5 971.0,979.2 971.5,977.9 971.9,970.7 972.3,979.5 972.8,970.8 973.2,975.0 973.6,973.3 974.0,983.6 974.5,971.1 974.9,972.0 975.3,982.3 975.7,975.9 976.2,974.1 976.6,972.4 977.0,980.9 977.4,969.4 977.9,977.3 978.3,988.4 978.7,976.7 979.1,968.1 979.6,965.1 980.0,974.6 980.4,965.7 980.8,963.1 981.3,968.1 981.7,965.7 982.1,977.8 982.6,963.0 983.0,981.7 983.4,966.8 983.8,972.0 984.3,975.3 984.7,972.2 985.1,975.0 985.5,964.1 986.0,955.7 986.4,968.5 986.8,958.9 987.2,965.6 987.7,974.9 988.1,967.4 988.5,964.7 988.9,961.1 989.4,966.1 989.8,966.6 990.2,957.5 990.6,969.0 991.1,960.1 991.5,968.0 991.9,963.5 992.4,972.3 992.8,971.2 993.2,965.6 993.6,964.6 994.1,967.8 994.5,973.5 994.9,971.3 995.3,965.4 995.8,966.1 996.2,973.8 996.6,953.4 997.0,966.8 997.5,957.5 997.9,971.4 998.3,959.6 998.7,961.8 999.2,955.4 999.6,962.1 1000.0,966.6 1000.4,971.5 1000.9,953.5 1001.3,958.2 1001.7,980.0 1002.2,965.9 1002.6,959.9 1003.0,962.8 1003.4,943.3 1003.9,968.8 1004.3,959.7 1004.7,949.8 1005.1,965.1 1005.6,954.0 1006.0,951.3 1006.4,960.3 1006.8,959.3 1007.3,953.8 1007.7,955.8 1008.1,947.8 1008.5,946.9 1009.0,960.7 1009.4,962.9 1009.8,957.2 1010.2,956.6 1010.7,951.6 1011.1,952.9 1011.5,947.7 1012.0,963.6 1012.4,949.3 1012.8,954.9 1013.2,952.1 1013.7,943.3 1014.1,963.1 1014.5,948.9 1014.9,946.2 1015.4,951.2 1015.8,944.8 1016.2,950.0 1016.6,943.7 1017.1,952.6 1017.5,949.2 1017.9,940.3 1018.3,954.5 1018.8,949.1 1019.2,941.0 1019.6,949.5 1020.0,949.5 1020.5,957.7 1020.9,941.2 1021.3,951.1 1021.8,945.1 1022.2,949.0 1022.6,943.4 1023.0,944.3 1023.5,947.2 1023.9,936.9 1024.3,931.1 1024.7,943.2 1025.2,940.3 1025.6,943.1 1026.0,946.1 1026.4,940.6 1026.9,948.7 1027.3,941.0 1027.7,941.6 1028.1,945.6 1028.6,943.8 1029.0,939.4 1029.4,940.4 1029.8,934.8 1030.3,935.3 1030.7,939.2 1031.1,943.1 1031.6,935.3 1032.0,942.6 1032.4,948.8 1032.8,949.7 1033.3,936.8 1033.7,942.6 1034.1,939.6 1034.5,940.3 1035.0,940.3 1035.4,938.1 1035.8,939.5 1036.2,935.4 1036.7,932.4 1037.1,935.1 1037.5,936.2 1037.9,940.3 1038.4,934.8 1038.8,936.7 1039.2,940.4 1039.6,926.0 1040.1,929.7 1040.5,934.4 1040.9,930.9 1041.4,924.2 1041.8,936.3 1042.2,929.5 1042.6,923.4 1043.1,941.1 1043.5,921.1 1043.9,928.7 1044.3,924.3 1044.8,928.9 1045.2,931.4 1045.6,922.6 1046.0,926.7 1046.5,926.3 1046.9,920.6 1047.3,933.8 1047.7,927.3 1048.2,924.2 1048.6,921.6 1049.0,923.3 1049.4,926.0 1049.9,922.0 1050.3,932.3 1050.7,908.5 1051.2,910.7 1051.6,922.2 1052.0,912.0 1052.4,922.8 1052.9,918.8 1053.3,926.2 1053.7,924.9 1054.1,930.2 1054.6,927.5 1055.0,929.3 1055.4,924.5 1055.8,927.6 1056.3,923.8 1056.7,916.8 1057.1,912.4 1057.5,912.4 1058.0,922.6 1058.4,904.5 1058.8,920.1 1059.2,914.1 1059.7,923.1 1060.1,919.5 1060.5,913.1 1061.0,918.0 1061.4,902.6 1061.8,919.4 1062.2,920.5 1062.7,905.0 1063.1,922.8 1063.5,916.1 1063.9,917.9 1064.4,907.1 1064.8,920.4 1065.2,920.1 1065.6,916.0 1066.1,909.4 1066.5,920.8 1066.9,923.9 1067.3,918.1 1067.8,921.9 1068.2,911.2 1068.6,916.0 1069.1,917.3 1069.5,915.6 1069.9,933.2 1070.3,917.1 1070.8,910.4 1071.2,919.5 1071.6,906.6 1072.0,916.1 1072.5,918.7 1072.9,910.1 1073.3,911.1 1073.7,906.8 1074.2,913.8 1074.6,908.3 1075.0,924.1 1075.4,916.7 1075.9,910.8 1076.3,902.7 1076.7,925.5 1077.1,920.5 1077.6,914.8 1078.0,912.8 1078.4,912.5 1078.9,908.0 1079.3,923.5 1079.7,912.2 1080.1,900.7 1080.6,906.0 1081.0,892.1 1081.4,915.3 1081.8,916.0 1082.3,923.1 1082.7,925.4 1083.1,904.7 1083.5,913.4 1084.0,917.3 1084.4,915.8 1084.8,906.4 1085.2,915.7 1085.7,913.4 1086.1,919.6 1086.5,909.5 1086.9,907.9 1087.4,905.9 1087.8,906.8 1088.2,903.9 1088.7,906.9 1089.1,912.9 1089.5,912.5 1089.9,918.6 1090.4,916.9 1090.8,913.5 1091.2,900.7 1091.6,912.9 1092.1,917.1 1092.5,899.3 1092.9,900.6 1093.3,901.7 1093.8,901.0 1094.2,906.3 1094.6,901.6 1095.0,911.0 1095.5,899.4 1095.9,907.2 1096.3,904.4 1096.7,901.0 1097.2,915.3 1097.6,908.0 1098.0,911.6 1098.5,905.3 1098.9,912.6 1099.3,911.9 1099.7,906.4 1100.2,894.8 1100.6,913.1 1101.0,912.1 1101.4,908.4 1101.9,908.7 1102.3,907.8 1102.7,908.2 1103.1,899.7 1103.6,906.3 1104.0,908.9 1104.4,902.2 1104.8,899.6 1105.3,919.5 1105.7,910.6 1106.1,904.0 1106.5,902.6 1107.0,887.4 1107.4,895.9 1107.8,904.1 1108.3,914.9 1108.7,891.2 1109.1,900.7 1109.5,919.0 1110.0,910.1 1110.4,908.3 1110.8,913.7 1111.2,904.3 1111.7,903.8 1112.1,910.0 1112.5,910.9 1112.9,897.3 1113.4,915.5 1113.8,892.4 1114.2,899.7 1114.6,925.7 1115.1,901.2 1115.5,907.6 1115.9,897.8 1116.3,901.2 1116.8,898.5 1117.2,899.9 1117.6,905.4 1118.1,911.2 1118.5,905.8 1118.9,909.2 1119.3,897.2 1119.8,907.9 1120.2,902.4 1120.6,906.5 1121.0,896.0 1121.5,896.6 1121.9,905.2 1122.3,900.5 1122.7,897.2 1123.2,892.3 1123.6,895.2 1124.0,898.0 1124.4,898.9 1124.9,891.3 1125.3,892.1 1125.7,896.1 1126.1,886.8 1126.6,898.3 1127.0,892.4 1127.4,891.3 1127.9,877.6 1128.3,882.0 1128.7,884.8 1129.1,887.1 1129.6,883.7 1130.0,891.8 1130.4,890.1 1130.8,887.3 1131.3,876.7 1131.7,896.3 1132.1,886.2 1132.5,890.8 1133.0,884.0 1133.4,885.7 1133.8,886.7 1134.2,883.6 1134.7,884.7 1135.1,879.2 1135.5,885.4 1135.9,870.3 1136.4,873.6 1136.8,877.5 1137.2,871.7 1137.7,869.6 1138.1,863.2 1138.5,873.0 1138.9,860.0 1139.4,867.8 1139.8,865.3 1140.2,866.6 1140.6,867.5 1141.1,858.1 1141.5,856.4 1141.9,857.0 1142.3,850.5 1142.8,858.7 1143.2,852.9 1143.6,853.7 1144.0,847.5 1144.5,850.5 1144.9,846.6 1145.3,848.0 1145.7,842.2 1146.2,852.5 1146.6,843.3 1147.0,832.9 1147.5,848.7 1147.9,843.2 1148.3,839.6 1148.7,856.4 1149.2,842.7 1149.6,835.5 1150.0,838.6 1150.4,843.1 1150.9,839.4 1151.3,846.3 1151.7,844.8 1152.1,834.7 1152.6,838.4 1153.0,840.9 1153.4,834.9 1153.8,834.0 1154.3,840.3 1154.7,837.4 1155.1,828.6 1155.5,831.1 1156.0,830.4 1156.4,830.2 1156.8,826.7 1157.3,833.1 1157.7,823.2 1158.1,821.4 1158.5,825.0 1159.0,814.5 1159.4,817.8 1159.8,822.8 1160.2,814.1 1160.7,814.7 1161.1,820.7 1161.5,817.0 1161.9,814.2 1162.4,813.7 1162.8,808.9 1163.2,811.4 1163.6,808.2 1164.1,817.1 1164.5,808.4 1164.9,803.7 1165.4,804.1 1165.8,804.0 1166.2,796.1 1166.6,798.3 1167.1,809.4 1167.5,794.1 1167.9,797.6 1168.3,805.0 1168.8,806.8 1169.2,793.5 1169.6,805.3 1170.0,795.5 1170.5,805.0 1170.9,798.6 1171.3,794.0 1171.7,798.5 1172.2,797.0 1172.6,789.6 1173.0,803.7 1173.4,790.5 1173.9,797.4 1174.3,788.5 1174.7,781.6 1175.2,784.8 1175.6,788.0 1176.0,789.9 1176.4,793.0 1176.9,785.2 1177.3,782.6 1177.7,777.7 1178.1,781.3 1178.6,781.5 1179.0,770.4 1179.4,783.1 1179.8,781.3 1180.3,784.7 1180.7,770.9 1181.1,773.5 1181.5,772.2 1182.0,765.9 1182.4,766.6 1182.8,764.7 1183.2,768.9 1183.7,767.3 1184.1,769.3 1184.5,761.6 1185.0,756.5 1185.4,762.0 1185.8,760.4 1186.2,760.2 1186.7,761.0 1187.1,752.9 1187.5,756.7 1187.9,748.7 1188.4,751.6 1188.8,752.3 1189.2,748.0 1189.6,747.9 1190.1,740.4 1190.5,742.0 1190.9,744.1 1191.3,737.5 1191.8,737.8 1192.2,749.8 1192.6,739.9 1193.0,734.5 1193.5,732.5 1193.9,741.0 1194.3,723.1 1194.8,731.7 1195.2,734.4 1195.6,728.6 1196.0,730.7 1196.5,723.4 1196.9,721.0 1197.3,716.8 1197.7,712.5 1198.2,708.4 1198.6,704.0 1199.0,702.6 1199.4,697.4 1199.9,695.1 1200.3,695.8 1200.7,694.9 1201.1,688.4 1201.6,685.8 1202.0,687.7 1202.4,694.7 1202.8,689.0 1203.3,689.4 1203.7,711.8 1204.1,699.6 1204.6,690.2 1205.0,687.2 1205.4,701.0 1205.8,685.9 1206.3,699.9 1206.7,695.5 1207.1,699.5 1207.5,688.5 1208.0,697.3 1208.4,684.3 1208.8,693.2 1209.2,700.1 1209.7,698.8 1210.1,686.7 1210.5,700.0 1210.9,698.9 1211.4,700.5 1211.8,702.6 1212.2,706.9 1212.6,709.7 1213.1,716.3 1213.5,718.7 1213.9,723.5 1214.4,725.3 1214.8,722.3 1215.2,728.4 1215.6,736.1 1216.1,729.6 1216.5,735.6 1216.9,735.0 1217.3,737.0 1217.8,742.3 1218.2,746.4 1218.6,748.3 1219.0,749.8 1219.5,753.3 1219.9,748.8 1220.3,757.6 1220.7,759.1 1221.2,760.2 1221.6,763.2 1222.0,763.6 1222.4,771.3 1222.9,769.0 1223.3,769.7 1223.7,776.0 1224.2,777.1 1224.6,780.9 1225.0,787.6 1225.4,785.5 1225.9,788.4 1226.3,796.5 1226.7,788.6 1227.1,795.7 1227.6,800.2 1228.0,803.3 1228.4,807.6 1228.8,801.8 1229.3,807.5 1229.7,807.8 1230.1,809.4 1230.5,811.7 1231.0,812.9 1231.4,820.0 1231.8,823.8 1232.2,822.5 1232.7,829.6 1233.1,829.5 1233.5,831.3 1234.0,830.5 1234.4,842.0 1234.8,844.0 1235.2,845.1 1235.7,848.7 1236.1,850.6 1236.5,857.8 1236.9,860.4 1237.4,865.3 1237.8,868.3 1238.2,866.6 1238.6,867.1 1239.1,875.2 1239.5,870.1 1239.9,878.2 1240.3,882.0 1240.8,876.6 1241.2,884.6 1241.6,884.3 1242.0,887.6 1242.5,885.5 1242.9,889.2 1243.3,892.2 1243.8,899.1 1244.2,895.7 1244.6,895.8 1245.0,889.4 1245.5,897.2 1245.9,894.1 1246.3,897.7 1246.7,900.2 1247.2,904.3 1247.6,903.6 1248.0,902.8 1248.4,902.7 1248.9,909.8 1249.3,901.0 1249.7,905.9 1250.1,912.7 1250.6,906.8 1251.0,912.2 1251.4,913.4 1251.8,920.4 1252.3,918.1 1252.7,898.8 1253.1,910.8 1253.6,913.0 1254.0,916.9 1254.4,913.8 1254.8,924.7 1255.3,919.0 1255.7,902.4 1256.1,906.5 1256.5,896.1 1257.0,923.7 1257.4,910.2 1257.8,910.1 1258.2,899.6 1258.7,907.9 1259.1,914.2 1259.5,908.2 1259.9,908.3 1260.4,906.8 1260.8,925.2 1261.2,907.5 1261.7,901.2 1262.1,907.8 1262.5,909.1 1262.9,910.9 1263.4,909.9 1263.8,903.9 1264.2,910.4 1264.6,914.6 1265.1,902.1 1265.5,926.0 1265.9,924.1 1266.3,899.5 1266.8,909.8 1267.2,919.6 1267.6,922.0 1268.0,925.5 1268.5,899.2 1268.9,904.7 1269.3,909.1 1269.7,916.9 1270.2,905.1 1270.6,916.2 1271.0,916.4 1271.5,918.4 1271.9,903.9 1272.3,914.8 1272.7,914.0 1273.2,910.5 1273.6,923.1 1274.0,911.6 1274.4,924.4 1274.9,909.7 1275.3,924.1 1275.7,922.9 1276.1,908.4 1276.6,914.6 1277.0,914.1 1277.4,906.3 1277.8,916.0 1278.3,914.5 1278.7,905.7 1279.1,910.8 1279.5,915.0 1280.0,908.5 1280.4,904.9 1280.8,918.0 1281.3,902.6 1281.7,909.6 1282.1,911.3 1282.5,907.7 1283.0,897.8 1283.4,900.3 1283.8,899.0 1284.2,896.7 1284.7,897.3 1285.1,895.0 1285.5,891.8 1285.9,890.3 1286.4,890.5 1286.8,889.2 1287.2,877.9 1287.6,888.2 1288.1,877.7 1288.5,881.9 1288.9,870.8 1289.3,874.4 1289.8,870.2 1290.2,878.9 1290.6,877.0 1291.1,872.3 1291.5,870.5 1291.9,871.8 1292.3,865.2 1292.8,865.5 1293.2,863.8 1293.6,869.3 1294.0,865.0 1294.5,858.5 1294.9,864.2 1295.3,863.8 1295.7,866.4 1296.2,857.2 1296.6,860.1 1297.0,866.1 1297.4,855.0 1297.9,853.7 1298.3,856.3 1298.7,851.0 1299.1,852.1 1299.6,848.9 1300.0,846.7 1300.4,852.5 1300.9,846.2 1301.3,842.5 1301.7,844.5 1302.1,844.0 1302.6,844.8 1303.0,846.3 1303.4,848.8 1303.8,835.4 1304.3,838.1 1304.7,831.0 1305.1,837.0 1305.5,836.6 1306.0,831.0 1306.4,828.6 1306.8,826.9 1307.2,823.6 1307.7,829.9 1308.1,833.1 1308.5,820.6 1308.9,829.2 1309.4,821.5 1309.8,816.1 1310.2,819.8 1310.7,817.3 1311.1,813.6 1311.5,809.2 1311.9,810.9 1312.4,803.5 1312.8,802.8 1313.2,800.5 1313.6,794.1 1314.1,789.2 1314.5,787.4 1314.9,789.1 1315.3,789.1 1315.8,780.9 1316.2,781.7 1316.6,786.0 1317.0,774.9 1317.5,777.8 1317.9,774.7 1318.3,772.8 1318.7,764.6 1319.2,766.1 1319.6,759.2 1320.0,762.2 1320.5,753.8 1320.9,751.7 1321.3,745.4 1321.7,742.8 1322.2,735.6 1322.6,734.5 1323.0,730.8 1323.4,725.5 1323.9,724.1 1324.3,717.9 1324.7,714.9 1325.1,710.5 1325.6,709.3 1326.0,700.6 1326.4,697.5 1326.8,693.8 1327.3,691.4 1327.7,686.8 1328.1,683.8 1328.5,678.8 1329.0,673.3 1329.4,670.1 1329.8,667.1 1330.3,658.0 1330.7,660.8 1331.1,653.2 1331.5,649.6 1332.0,646.7 1332.4,641.9 1332.8,635.7 1333.2,634.1 1333.7,633.2 1334.1,628.6 1334.5,625.1 1334.9,617.8 1335.4,614.5 1335.8,613.0 1336.2,609.9 1336.6,603.2 1337.1,597.1 1337.5,586.1 1337.9,578.4 1338.3,565.5 1338.8,556.6 1339.2,546.6 1339.6,538.0 1340.1,525.0 1340.5,514.3 1340.9,504.3 1341.3,493.8 1341.8,484.2 1342.2,475.2 1342.6,467.5 1343.0,459.7 1343.5,457.1 1343.9,449.9 1344.3,446.8 1344.7,437.2 1345.2,433.4 1345.6,426.2 1346.0,420.1 1346.4,417.7 1346.9,409.7 1347.3,403.3 1347.7,398.7 1348.2,390.7 1348.6,385.4 1349.0,379.2 1349.4,373.4 1349.9,363.2 1350.3,355.0 1350.7,347.0 1351.1,337.2 1351.6,328.7 1352.0,318.6 1352.4,312.3 1352.8,303.5 1353.3,294.3 1353.7,287.4 1354.1,275.9 1354.5,269.6 1355.0,259.2 1355.4,251.0 1355.8,243.4 1356.2,234.8 1356.7,221.7 1357.1,210.9 1357.5,199.8 1358.0,191.4 1358.4,178.9 1358.8,167.9 1359.2,157.2 1359.7,145.9 1360.1,135.2 1360.5,128.5 1360.9,121.2 1361.4,114.9 1361.8,107.0 1362.2,100.4 1362.6,93.1 1363.1,86.0 1363.5,79.1 1363.9,72.0 1364.3,64.8 1364.8,57.5 1365.2,54.5 1365.6,54.5 1366.0,54.5 1366.5,54.5 1366.9,54.5 1367.3,54.7 1367.8,54.5 1368.2,58.2 1368.6,66.4 1369.0,75.2 1369.5,84.4 1369.9,92.9 1370.3,101.9 1370.7,110.9 1371.2,119.5 1371.6,128.3 1372.0,137.5 1372.4,148.3 1372.9,159.2 1373.3,170.0 1373.7,181.1 1374.1,191.9 1374.6,203.0 1375.0,213.9 1375.4,225.1 1375.8,236.2 1376.3,249.1 1376.7,264.2 1377.1,278.7 1377.6,293.4 1378.0,308.9 1378.4,324.5 1378.8,339.3 1379.3,354.3 1379.7,368.7 1380.1,380.6 1380.5,393.7 1381.0,404.4 1381.4,414.4 1381.8,424.7 1382.2,435.2 1382.7,446.9 1383.1,455.2 1383.5,466.6 1383.9,476.3 1384.4,486.7 1384.8,496.4 1385.2,506.7 1385.6,516.6 1386.1,528.5 1386.5,538.2 1386.9,547.9 1387.4,558.8 1387.8,568.9 1388.2,581.8 1388.6,590.7 1389.1,601.4 1389.5,610.0 1389.9,620.0 1390.3,631.6 1390.8,640.3 1391.2,648.1 1391.6,655.2 1392.0,659.7 1392.5,661.1 1392.9,664.7 1393.3,668.2 1393.7,671.2 1394.2,679.6 1394.6,677.5 1395.0,683.6 1395.4,684.2 1395.9,690.7 1396.3,707.3 1396.7,727.4 1397.2,741.2 1397.6,742.5 1398.0,743.9 1398.4,746.8 1398.9,749.6 1399.3,756.1 1399.7,759.5 1400.1,759.2 1400.6,759.0 1401.0,760.4 1401.4,766.2 1401.8,767.2 1402.3,765.4 1402.7,776.4 1403.1,775.2 1403.5,776.8 1404.0,777.7 1404.4,780.2 1404.8,787.1 1405.2,786.4 1405.7,792.4 1406.1,797.3 1406.5,803.6 1407.0,805.1 1407.4,807.8 1407.8,811.0 1408.2,817.4 1408.7,821.6 1409.1,822.7 1409.5,828.6 1409.9,831.1 1410.4,830.5 1410.8,834.7 1411.2,842.0 1411.6,846.3 1412.1,847.2 1412.5,847.9 1412.9,849.4 1413.3,855.3 1413.8,857.6 1414.2,855.6 1414.6,864.0 1415.0,863.4 1415.5,869.6 1415.9,872.1 1416.3,875.4 1416.8,879.3 1417.2,881.0 1417.6,873.6 1418.0,874.4 1418.5,885.6 1418.9,883.4 1419.3,873.6 1419.7,872.0 1420.2,887.6 1420.6,895.1 1421.0,888.6 1421.4,883.8 1421.9,887.0 1422.3,872.4 1422.7,881.9 1423.1,892.9 1423.6,892.8 1424.0,878.1 1424.4,895.8 1424.8,893.1 1425.3,895.8 1425.7,890.7 1426.1,892.4 1426.6,887.5 1427.0,895.3 1427.4,899.0 1427.8,890.2 1428.3,897.6 1428.7,893.6 1429.1,902.4 1429.5,902.7 1430.0,886.3 1430.4,901.4 1430.8,905.1 1431.2,897.1 1431.7,899.5 1432.1,900.3 1432.5,895.1 1432.9,901.5 1433.4,911.5 1433.8,905.8 1434.2,912.3 1434.6,909.7 1435.1,911.3 1435.5,905.6 1435.9,909.8 1436.4,917.4 1436.8,914.8 1437.2,908.6 1437.6,903.2 1438.1,902.4 1438.5,909.5 1438.9,911.1 1439.3,898.5 1439.8,910.8 1440.2,912.0 1440.6,912.2 1441.0,907.8 1441.5,924.6 1441.9,916.9 1442.3,904.4 1442.7,908.7 1443.2,917.8 1443.6,916.6 1444.0,914.9 1444.5,914.4 1444.9,913.8 1445.3,912.9 1445.7,910.1 1446.2,919.7 1446.6,900.9 1447.0,913.1 1447.4,924.9 1447.9,913.7 1448.3,911.8 1448.7,930.0 1449.1,925.5 1449.6,919.2 1450.0,917.1 1450.4,919.6 1450.8,919.4 1451.3,920.4 1451.7,918.0 1452.1,925.8 1452.5,920.0 1453.0,913.2 1453.4,916.7 1453.8,924.5 1454.3,918.5 1454.7,909.2 1455.1,935.1 1455.5,928.9 1456.0,922.9 1456.4,922.8 1456.8,929.8 1457.2,935.6 1457.7,923.0 1458.1,929.9 1458.5,923.5 1458.9,929.9 1459.4,920.7 1459.8,916.5 1460.2,929.2 1460.6,928.5 1461.1,933.8 1461.5,925.1 1461.9,938.6 1462.3,930.6 1462.8,940.3 1463.2,928.3 1463.6,940.6 1464.1,930.7 1464.5,932.3 1464.9,937.9 1465.3,920.4 1465.8,925.3 1466.2,944.4 1466.6,922.9 1467.0,929.8 1467.5,936.9 1467.9,943.1 1468.3,930.6 1468.7,935.0 1469.2,927.0 1469.6,932.2 1470.0,941.7 1470.4,937.4 1470.9,935.4 1471.3,938.6 1471.7,937.0 1472.1,937.5 1472.6,934.4 1473.0,930.6 1473.4,941.7 1473.9,930.0 1474.3,944.5 1474.7,952.1 1475.1,948.4 1475.6,954.0 1476.0,932.1 1476.4,940.9 1476.8,934.0 1477.3,934.8 1477.7,928.3 1478.1,932.0 1478.5,946.4 1479.0,945.5 1479.4,949.2 1479.8,948.9 1480.2,946.8 1480.7,936.2 1481.1,941.1 1481.5,947.2 1481.9,951.0 1482.4,940.1 1482.8,939.5 1483.2,940.1 1483.7,954.3 1484.1,947.5 1484.5,941.6 1484.9,938.8 1485.4,947.3 1485.8,932.9 1486.2,943.2 1486.6,941.0 1487.1,941.2 1487.5,946.8 1487.9,948.5 1488.3,966.9 1488.8,946.8 1489.2,951.2 1489.6,941.0 1490.0,935.4 1490.5,954.9 1490.9,960.8 1491.3,940.6 1491.7,947.2 1492.2,955.7 1492.6,948.9 1493.0,931.8 1493.5,955.7 1493.9,947.9 1494.3,954.2 1494.7,942.7 1495.2,955.7 1495.6,957.0 1496.0,945.0 1496.4,953.7 1496.9,946.1 1497.3,947.2 1497.7,944.6 1498.1,948.1 1498.6,946.6 1499.0,959.7 1499.4,950.2 1499.8,943.9 1500.3,962.6 1500.7,956.5 1501.1,960.0 1501.5,951.9 1502.0,957.9 1502.4,951.7 1502.8,945.1 1503.3,953.5 1503.7,953.9 1504.1,953.9 1504.5,959.5 1505.0,939.4 1505.4,955.3 1505.8,946.8 1506.2,951.0 1506.7,956.7 1507.1,953.8 1507.5,948.1 1507.9,959.4 1508.4,953.1 1508.8,961.0 1509.2,963.4 1509.6,951.0 1510.1,945.2 1510.5,954.6 1510.9,960.4 1511.3,956.6 1511.8,945.0 1512.2,940.9 1512.6,946.9 1513.1,946.9 1513.5,959.3 1513.9,955.0 1514.3,961.5 1514.8,954.0 1515.2,967.9 1515.6,954.9 1516.0,959.2 1516.5,951.7 1516.9,958.5 1517.3,963.7 1517.7,961.3 1518.2,965.3 1518.6,950.5 1519.0,959.0 1519.4,968.9 1519.9,957.6 1520.3,954.2 1520.7,953.6 1521.1,951.2 1521.6,956.3 1522.0,965.7 1522.4,958.4 1522.9,954.6 1523.3,948.6 1523.7,945.9 1524.1,972.8 1524.6,950.8 1525.0,955.0 1525.4,950.4 1525.8,955.3 1526.3,950.6 1526.7,954.6 1527.1,964.8 1527.5,947.9 1528.0,957.5 1528.4,952.8 1528.8,958.8 1529.2,947.9 1529.7,956.1 1530.1,945.3 1530.5,938.7 1530.9,942.4 1531.4,945.1 1531.8,943.6 1532.2,949.6 1532.7,960.5 1533.1,943.1 1533.5,955.2 1533.9,952.8 1534.4,946.0 1534.8,944.2 1535.2,954.6 1535.6,954.9 1536.1,948.3 1536.5,949.8 1536.9,950.7 1537.3,940.5 1537.8,951.4 1538.2,952.8 1538.6,963.9 1539.0,940.4 1539.5,943.4 1539.9,950.7 1540.3,945.3 1540.8,946.7 1541.2,949.9 1541.6,947.4 1542.0,949.4 1542.5,953.2 1542.9,936.6 1543.3,954.0 1543.7,931.5 1544.2,963.0 1544.6,956.7 1545.0,944.4 1545.4,957.4 1545.9,948.0 1546.3,952.6 1546.7,955.1 1547.1,951.8 1547.6,948.9 1548.0,953.9 1548.4,947.3 1548.8,945.7 1549.3,941.1 1549.7,934.1 1550.1,961.3 1550.6,954.8 1551.0,937.2 1551.4,951.6 1551.8,950.0 1552.3,930.6 1552.7,941.5 1553.1,947.3 1553.5,961.9 1554.0,956.9 1554.4,958.1 1554.8,950.5 1555.2,955.9 1555.7,938.4 1556.1,952.7 1556.5,953.6 1556.9,937.5 1557.4,949.6 1557.8,959.8 1558.2,963.1 1558.6,958.9 1559.1,941.7 1559.5,946.6 1559.9,943.2 1560.4,956.6 1560.8,940.6 1561.2,938.9 1561.6,934.4 1562.1,948.1 1562.5,949.7 1562.9,941.7 1563.3,940.4 1563.8,944.6 1564.2,956.1 1564.6,935.4 1565.0,945.2 1565.5,947.0 1565.9,948.1 1566.3,954.8 1566.7,951.3 1567.2,947.0 1567.6,955.9 1568.0,953.3 1568.4,946.6 1568.9,946.1 1569.3,935.0 1569.7,945.0 1570.2,937.8 1570.6,934.9 1571.0,941.4 1571.4,930.1 1571.9,936.4 1572.3,939.1 1572.7,945.5 1573.1,940.2 1573.6,945.6 1574.0,954.6 1574.4,948.5 1574.8,933.1 1575.3,928.2 1575.7,934.6 1576.1,934.7 1576.5,926.0 1577.0,927.9 1577.4,927.7 1577.8,936.1 1578.2,951.6 1578.7,953.6 1579.1,932.3 1579.5,936.4 1580.0,929.4 1580.4,927.4 1580.8,938.7 1581.2,939.4 1581.7,934.0 1582.1,943.2 1582.5,935.8 1582.9,946.1 1583.4,934.0 1583.8,943.9 1584.2,935.8 1584.6,938.0 1585.1,941.5 1585.5,926.6 1585.9,930.9 1586.3,935.6 1586.8,933.9 1587.2,937.7 1587.6,929.5 1588.0,925.4 1588.5,934.3 1588.9,937.0 1589.3,928.6 1589.8,943.5 1590.2,939.4 1590.6,940.4 1591.0,939.7 1591.5,927.2 1591.9,949.4 1592.3,928.0 1592.7,936.0 1593.2,938.5 1593.6,935.4 1594.0,934.2 1594.4,926.5 1594.9,929.4 1595.3,932.5 1595.7,941.9 1596.1,927.0 1596.6,937.0 1597.0,934.9 1597.4,932.1 1597.8,927.1 1598.3,930.1 1598.7,917.9 1599.1,931.6 1599.6,933.1 1600.0,926.4 1600.4,934.9 1600.8,933.1 1601.3,924.3 1601.7,937.5 1602.1,925.9 1602.5,950.6 1603.0,921.6 1603.4,923.4 1603.8,924.8 1604.2,932.1 1604.7,939.8 1605.1,930.8 1605.5,926.5 1605.9,945.9 1606.4,938.4 1606.8,927.3 1607.2,928.7 1607.6,916.6 1608.1,929.8 1608.5,943.9 1608.9,919.5 1609.4,917.2 1609.8,930.3 1610.2,908.8 1610.6,940.8 1611.1,916.1 1611.5,922.7 1611.9,927.3 1612.3,938.8 1612.8,931.8 1613.2,912.3 1613.6,913.9 1614.0,929.9 1614.5,910.2 1614.9,925.4 1615.3,920.8 1615.7,934.5 1616.2,937.9 1616.6,906.1 1617.0,931.1 1617.4,932.8 1617.9,920.7 1618.3,922.0 1618.7,916.8 1619.2,924.0 1619.6,930.3 1620.0,938.3 1620.4,939.2 1620.9,924.2 1621.3,919.4 1621.7,935.2 1622.1,902.4 1622.6,914.2 1623.0,932.0 1623.4,945.8 1623.8,919.4 1624.3,927.1 1624.7,916.4 1625.1,925.5 1625.5,925.4 1626.0,919.5 1626.4,929.5 1626.8,924.5 1627.2,930.4 1627.7,924.2 1628.1,915.4 1628.5,927.1 1629.0,933.4 1629.4,918.9 1629.8,937.6 1630.2,929.8 1630.7,922.6 1631.1,926.0 1631.5,922.0 1631.9,917.7 1632.4,933.7 1632.8,933.6 1633.2,921.6 1633.6,923.9 1634.1,923.7 1634.5,931.6 1634.9,938.4 1635.3,919.6 1635.8,928.1 1636.2,925.1 1636.6,930.2 1637.1,938.0 1637.5,917.5 1637.9,907.0 1638.3,923.7 1638.8,910.9 1639.2,939.9 1639.6,918.9 1640.0,922.6 1640.5,927.0 1640.9,926.6 1641.3,921.2 1641.7,924.6 1642.2,932.6 1642.6,921.8 1643.0,940.1 1643.4,927.3 1643.9,904.2 1644.3,931.6 1644.7,909.0 1645.1,926.7 1645.6,943.0 1646.0,932.9 1646.4,913.9 1646.9,916.5 1647.3,923.5 1647.7,935.7 1648.1,916.9 1648.6,932.5 1649.0,925.6 1649.4,922.0 1649.8,921.4 1650.3,937.0 1650.7,909.7 1651.1,912.7 1651.5,930.0 1652.0,930.7 1652.4,911.0 1652.8,914.1 1653.2,912.0 1653.7,926.5 1654.1,916.1 1654.5,933.8 1654.9,928.1 1655.4,923.7 1655.8,923.0 1656.2,925.8 1656.7,928.3 1657.1,921.0 1657.5,923.0 1657.9,927.5 1658.4,920.0 1658.8,929.1 1659.2,919.2 1659.6,913.6 1660.1,921.8 1660.5,935.1 1660.9,933.6 1661.3,905.6 1661.8,922.8 1662.2,915.4 1662.6,916.9 1663.0,916.7 1663.5,917.7 1663.9,914.9 1664.3,917.1 1664.7,921.6 1665.2,908.6 1665.6,908.3 1666.0,909.2 1666.5,909.1 1666.9,924.7 1667.3,909.2 1667.7,918.5 1668.2,919.8 1668.6,925.7 1669.0,919.3 1669.4,928.7 1669.9,918.5 1670.3,921.2 1670.7,925.9 1671.1,905.6 1671.6,922.4 1672.0,932.6 1672.4,919.8 1672.8,916.5 1673.3,936.1 1673.7,919.6 1674.1,929.9 1674.5,896.8 1675.0,919.5 1675.4,913.9 1675.8,921.9 1676.3,929.2 1676.7,917.0 1677.1,916.2 1677.5,892.4 1678.0,925.4 1678.4,930.4 1678.8,919.5 1679.2,913.7 1679.7,921.3 1680.1,926.2 1680.5,922.3 1680.9,932.4 1681.4,912.7 1681.8,906.5 1682.2,919.6 1682.6,924.9 1683.1,911.9 1683.5,914.9 1683.9,909.8 1684.3,904.9 1684.8,908.3 1685.2,898.1 1685.6,914.9 1686.1,915.9 1686.5,918.7 1686.9,905.7 1687.3,906.7 1687.8,898.6 1688.2,899.9 1688.6,916.8 1689.0,930.6 1689.5,901.6 1689.9,906.1 1690.3,915.5 1690.7,903.1 1691.2,912.2 1691.6,905.3 1692.0,904.9 1692.4,913.4 1692.9,904.5 1693.3,896.6 1693.7,911.7 1694.1,905.4 1694.6,900.7 1695.0,898.5 1695.4,908.4 1695.9,898.3 1696.3,904.2 1696.7,910.4 1697.1,901.7 1697.6,910.3 1698.0,891.5 1698.4,905.9 1698.8,905.0 1699.3,914.6 1699.7,900.4 1700.1,907.6 1700.5,898.4 1701.0,889.9 1701.4,891.6 1701.8,893.2 1702.2,907.0 1702.7,892.4 1703.1,900.1 1703.5,908.1 1703.9,911.3 1704.4,908.4 1704.8,913.5 1705.2,888.8 1705.7,894.8 1706.1,902.4 1706.5,909.8 1706.9,904.0 1707.4,892.0 1707.8,897.4 1708.2,883.6 1708.6,906.8 1709.1,882.2 1709.5,901.1 1709.9,909.2 1710.3,907.5 1710.8,883.7 1711.2,900.9 1711.6,895.5 1712.0,896.0 1712.5,914.3 1712.9,901.4 1713.3,885.1 1713.7,888.4 1714.2,905.3 1714.6,900.7 1715.0,887.7 1715.5,882.5 1715.9,893.1 1716.3,894.2 1716.7,906.0 1717.2,892.4 1717.6,904.5 1718.0,909.6 1718.4,882.8 1718.9,892.4 1719.3,912.7 1719.7,893.6 1720.1,897.7 1720.6,907.2 1721.0,890.4 1721.4,893.7 1721.8,881.5 1722.3,903.1 1722.7,892.9 1723.1,894.0 1723.5,872.4 1724.0,907.1 1724.4,904.3 1724.8,889.7 1725.3,909.5 1725.7,873.4 1726.1,896.7 1726.5,880.8 1727.0,924.2 1727.4,871.6 1727.8,885.3 1728.2,889.8 1728.7,905.1 1729.1,905.4 1729.5,901.0 1729.9,894.7 1730.4,918.2 1730.8,890.0 1731.2,900.2 1731.6,914.3 1732.1,884.8 1732.5,889.0 1732.9,907.9 1733.4,901.5 1733.8,883.9 1734.2,897.3 1734.6,916.0 1735.1,894.4 1735.5,904.9 1735.9,898.1 1736.3,890.0 1736.8,912.9 1737.2,906.5 1737.6,908.7 1738.0,895.3 1738.5,897.8 1738.9,899.0 1739.3,901.2 1739.7,893.3 1740.2,891.7 1740.6,909.8 1741.0,885.7 1741.4,892.2 1741.9,892.8 1742.3,891.5 1742.7,884.5 1743.2,888.9 1743.6,904.6 1744.0,892.9 1744.4,889.1 1744.9,913.2 1745.3,883.1 1745.7,906.9 1746.1,900.0 1746.6,882.9 1747.0,892.4 1747.4,892.5 1747.8,909.4 1748.3,905.6 1748.7,893.6 1749.1,884.5 1749.5,879.3 1750.0,894.6 1750.4,882.2 1750.8,894.5 1751.2,894.2 1751.7,900.1 1752.1,906.3 1752.5,897.4 1753.0,901.0 1753.4,894.5 1753.8,906.7 1754.2,904.4 1754.7,912.3 1755.1,910.1 1755.5,888.9 1755.9,881.5 1756.4,902.6 1756.8,907.7 1757.2,889.4 1757.6,911.2 1758.1,897.1 1758.5,895.2 1758.9,899.7 1759.3,881.9 1759.8,879.5 1760.2,892.5 1760.6,884.1 1761.0,895.8 1761.5,895.9 1761.9,869.8 1762.3,887.7 1762.8,901.2 1763.2,872.2 1763.6,892.4 1764.0,882.0 1764.5,875.8 1764.9,907.0 1765.3,906.6 1765.7,891.4 1766.2,890.6 1766.6,909.8 1767.0,907.8 1767.4,895.6 1767.9,904.5 1768.3,896.7 1768.7,892.5 1769.1,901.9 1769.6,891.3 1770.0,901.6 1770.4,893.1 1770.8,891.0 1771.3,889.8 1771.7,900.2 1772.1,905.1 1772.6,899.9 1773.0,886.8 1773.4,901.8 1773.8,886.5 1774.3,884.2 1774.7,893.6 1775.1,903.8 1775.5,902.6 1776.0,901.3 1776.4,909.6 1776.8,904.4 1777.2,892.1 1777.7,903.7 1778.1,893.0 1778.5,899.8 1778.9,901.8 1779.4,895.1 1779.8,880.9 1780.2,894.5 1780.6,892.8 1781.1,894.9 1781.5,891.8 1781.9,884.7 1782.4,879.9 1782.8,902.8 1783.2,904.0 1783.6,899.9 1784.1,895.7 1784.5,915.9 1784.9,902.9 1785.3,896.4 1785.8,904.6 1786.2,895.5 1786.6,903.3 1787.0,899.1 1787.5,901.7 1787.9,897.0 1788.3,891.8 1788.7,901.5 1789.2,907.7 1789.6,887.3 1790.0,892.1 1790.4,888.2 1790.9,901.8 1791.3,893.5 1791.7,900.9 1792.2,888.4 1792.6,899.5 1793.0,888.9 1793.4,889.2 1793.9,895.9 1794.3,888.7 1794.7,886.8 1795.1,896.9 1795.6,889.5 1796.0,898.4 1796.4,907.1 1796.8,884.5 1797.3,885.6 1797.7,876.6 1798.1,878.5 1798.5,890.8 1799.0,888.1 1799.4,887.4 1799.8,888.3 1800.2,878.0 1800.7,871.0 1801.1,892.2 1801.5,885.3 1802.0,891.9 1802.4,882.5 1802.8,888.2 1803.2,877.9 1803.7,881.6 1804.1,880.0 1804.5,883.8 1804.9,891.4 1805.4,885.2 1805.8,857.3 1806.2,878.6 1806.6,879.2 1807.1,885.0 1807.5,879.5 1807.9,872.6 1808.3,871.5 1808.8,874.7 1809.2,871.4 1809.6,887.7 1810.0,880.9 1810.5,876.3 1810.9,883.1 1811.3,891.9 1811.8,873.2 1812.2,874.2 1812.6,871.7 1813.0,864.2 1813.5,868.5 1813.9,865.7 1814.3,876.4 1814.7,875.8 1815.2,878.7 1815.6,865.5 1816.0,878.9 1816.4,863.3 1816.9,869.1 1817.3,880.2 1817.7,879.4 1818.1,877.9 1818.6,885.5 1819.0,876.9 1819.4,866.4 1819.8,866.3 1820.3,861.5 1820.7,869.3 1821.1,861.1 1821.6,861.8 1822.0,858.6 1822.4,852.6 1822.8,885.7 1823.3,872.6 1823.7,848.6 1824.1,868.4 1824.5,860.1 1825.0,847.1 1825.4,862.2 1825.8,865.3 1826.2,867.9 1826.7,871.8 1827.1,855.9 1827.5,861.9 1827.9,867.3 1828.4,866.0 1828.8,864.5 1829.2,861.9 1829.7,870.6 1830.1,850.4 1830.5,848.2 1830.9,873.7 1831.4,862.9 1831.8,868.1 1832.2,860.7 1832.6,855.7 1833.1,854.6 1833.5,859.1 1833.9,853.9 1834.3,856.8 1834.8,856.4 1835.2,863.3 1835.6,862.8 1836.0,868.9 1836.5,850.2 1836.9,855.3 1837.3,863.0 1837.7,857.8 1838.2,835.2 1838.6,857.3 1839.0,854.0 1839.5,850.0 1839.9,850.1 1840.3,847.0 1840.7,863.6 1841.2,859.3 1841.6,854.9 1842.0,862.9 1842.4,861.1 1842.9,845.3 1843.3,843.1 1843.7,843.4 1844.1,858.9 1844.6,852.0 1845.0,862.8 1845.4,856.6 1845.8,850.0 1846.3,840.4 1846.7,849.2 1847.1,871.3 1847.5,845.1 1848.0,843.8 1848.4,849.0 1848.8,862.9 1849.3,850.3 1849.7,840.7 1850.1,845.0 1850.5,849.0 1851.0,850.8 1851.4,859.0 1851.8,872.0 1852.2,861.8 1852.7,855.2 1853.1,849.2 1853.5,842.1 1853.9,854.2 1854.4,860.3 1854.8,856.1 1855.2,847.5 1855.6,854.4 1856.1,846.3 1856.5,846.7 1856.9,845.9 1857.3,848.5 1857.8,847.0 1858.2,856.5 1858.6,847.4 1859.1,846.3 1859.5,856.3 1859.9,852.8 1860.3,856.2 1860.8,839.9 1861.2,857.3 1861.6,845.9 1862.0,836.8 1862.5,844.1 1862.9,834.7 1863.3,836.5 1863.7,841.2 1864.2,852.6 1864.6,832.9 1865.0,846.4 1865.4,841.6 1865.9,857.4 1866.3,845.4 1866.7,849.5 1867.1,857.4 1867.6,832.7 1868.0,840.1"/>
<polyline stroke="#0000ff" points="164.0,1328.6 164.4,1332.0 164.9,1346.0 165.3,1338.0 165.7,1320.1 166.1,1332.5 166.6,1327.6 167.0,1333.3 167.4,1319.6 167.8,1333.6 168.3,1333.4 168.7,1343.5 169.1,1333.6 169.5,1334.9 170.0,1319.3 170.4,1347.9 170.8,1315.6 171.2,1338.6 171.7,1327.4 172.1,1323.0 172.5,1324.5 172.9,1324.2 173.4,1332.1 173.8,1328.1 174.2,1340.2 174.7,1314.4 175.1,1328.3 175.5,1321.3 175.9,1333.9 176.4,1311.4 176.8,1324.9 177.2,1328.9 177.6,1315.7 178.1,1334.5 178.5,1328.1 178.9,1334.3 179.3,1333.7 179.8,1318.6 180.2,1319.8 180.6,1324.1 181.0,1331.2 181.5,1331.8 181.9,1319.6 182.3,1320.2 182.7,1318.5 183.2,1319.9 183.6,1322.4 184.0,1323.0 184.5,1339.6 184.9,1319.7 185.3,1321.1 185.7,1326.7 186.2,1315.6 186.6,1319.9 187.0,1322.6 187.4,1328.2 187.9,1311.9 188.3,1332.4 188.7,1318.9 189.1,1322.7 189.6,1327.7 190.0,1326.1 190.4,1328.9 190.8,1321.9 191.3,1320.2 191.7,1322.6 192.1,1312.3 192.5,1329.1 193.0,1313.5 193.4,1309.6 193.8,1334.9 194.3,1317.8 194.7,1309.6 195.1,1332.7 195.5,1315.7 196.0,1326.2 196.4,1311.4 196.8,1315.7 197.2,1304.4 197.7,1302.5 198.1,1309.4 198.5,1316.1 198.9,1322.7 199.4,1335.0 199.8,1308.2 200.2,1323.8 200.6,1311.4 201.1,1315.0 201.5,1304.8 201.9,1304.9 202.3,1310.3 202.8,1307.2 203.2,1316.4 203.6,1311.1 204.1,1326.2 204.5,1317.8 204.9,1317.9 205.3,1325.5 205.8,1320.8 206.2,1316.5 206.6,1316.2 207.0,1316.0 207.5,1325.3 207.9,1323.1 208.3,1319.9 208.7,1323.3 209.2,1313.0 209.6,1321.2 210.0,1306.5 210.4,1327.8 210.9,1318.1 211.3,1318.9 211.7,1322.2 212.2,1317.5 212.6,1315.7 213.0,1326.9 213.4,1318.7 213.9,1310.8 214.3,1321.3 214.7,1304.8 215.1,1330.8 215.6,1316.8 216.0,1318.5 216.4,1335.6 216.8,1334.8 217.3,1319.2 217.7,1323.2 218.1,1326.8 218.5,1331.4 219.0,1317.5 219.4,1319.6 219.8,1328.1 220.2,1320.8 220.7,1324.6 221.1,1323.5 221.5,1310.1 222.0,1312.3 222.4,1298.6 222.8,1317.0 223.2,1329.4 223.7,1310.6 224.1,1328.7 224.5,1327.0 224.9,1318.9 225.4,1319.3 225.8,1320.1 226.2,1312.9 226.6,1317.4 227.1,1319.2 227.5,1324.4 227.9,1325.8 228.3,1314.1 228.8,1326.2 229.2,1313.9 229.6,1318.6 230.0,1322.8 230.5,1319.8 230.9,1319.0 231.3,1322.0 231.8,1315.6 232.2,1314.8 232.6,1318.3 233.0,1327.2 233.5,1319.0 233.9,1334.4 234.3,1321.4 234.7,1296.8 235.2,1316.3 235.6,1332.4 236.0,1319.6 236.4,1316.2 236.9,1312.8 237.3,1329.7 237.7,1327.2 238.1,1324.6 238.6,1322.7 239.0,1330.5 239.4,1325.7 239.8,1309.9 240.3,1325.2 240.7,1320.6 241.1,1318.4 241.6,1325.1 242.0,1319.4 242.4,1296.6 242.8,1331.1 243.3,1327.1 243.7,1318.1 244.1,1316.2 244.5,1320.8 245.0,1309.1 245.4,1321.3 245.8,1317.2 246.2,1316.2 246.7,1311.8 247.1,1313.6 247.5,1327.4 247.9,1329.1 248.4,1322.6 248.8,1318.4 249.2,1312.0 249.6,1324.2 250.1,1331.1 250.5,1306.2 250.9,1327.6 251.4,1301.9 251.8,1315.9 252.2,1321.5 252.6,1308.0 253.1,1306.8 253.5,1319.9 253.9,1325.2 254.3,1314.7 254.8,1328.7 255.2,1312.3 255.6,1331.8 256.0,1319.2 256.5,1320.0 256.9,1322.9 257.3,1320.7 257.7,1332.4 258.2,1335.1 258.6,1322.3 259.0,1316.8 259.4,1309.0 259.9,1312.2 260.3,1318.1 260.7,1317.3 261.2,1317.8 261.6,1318.2 262.0,1322.0 262.4,1307.8 262.9,1310.4 263.3,1327.0 263.7,1324.8 264.1,1314.3 264.6,1328.4 265.0,1313.3 265.4,1316.6 265.8,1304.5 266.3,1325.1 266.7,1318.6 267.1,1326.9 267.5,1324.2 268.0,1319.6 268.4,1320.1 268.8,1328.1 269.2,1317.7 269.7,1317.9 270.1,1319.6 270.5,1325.4 271.0,1326.3 271.4,1334.0 271.8,1318.7 272.2,1329.1 272.7,1314.4 273.1,1324.2 273.5,1320.6 273.9,1333.0 274.4,1324.4 274.8,1316.3 275.2,1324.3 275.6,1322.6 276.1,1317.5 276.5,1317.7 276.9,1312.8 277.3,1341.3 277.8,1321.2 278.2,1327.7 278.6,1311.3 279.0,1311.9 279.5,1319.1 279.9,1319.2 280.3,1326.6 280.8,1312.7 281.2,1324.7 281.6,1332.2 282.0,1313.6 282.5,1327.6 282.9,1313.3 283.3,1323.4 283.7,1323.6 284.2,1334.2 284.6,1315.5 285.0,1322.2 285.4,1329.0 285.9,1312.0 286.3,1321.0 286.7,1314.4 287.1,1315.7 287.6,1326.4 288.0,1326.6 288.4,1341.1 288.8,1331.9 289.3,1331.2 289.7,1320.1 290.1,1319.0 290.6,1322.3 291.0,1303.7 291.4,1333.8 291.8,1315.8 292.3,1312.7 292.7,1317.3 293.1,1327.4 293.5,1330.2 294.0,1317.6 294.4,1323.8 294.8,1319.9 295.2,1312.5 295.7,1321.4 296.1,1320.2 296.5,1308.1 296.9,1328.3 297.4,1307.6 297.8,1321.5 298.2,1311.5 298.6,1313.2 299.1,1314.0 299.5,1324.7 299.9,1309.5 300.4,1317.6 300.8,1331.0 301.2,1313.6 301.6,1318.6 302.1,1323.9 302.5,1314.2 302.9,1322.2 303.3,1313.4 303.8,1323.8 304.2,1318.8 304.6,1311.0 305.0,1329.0 305.5,1317.3 305.9,1315.8 306.3,1310.7 306.7,1314.2 307.2,1316.9 307.6,1318.9 308.0,1326.0 308.5,1307.3 308.9,1314.6 309.3,1326.5 309.7,1318.6 310.2,1320.2 310.6,1329.3 311.0,1319.5 311.4,1320.4 311.9,1316.4 312.3,1330.3 312.7,1324.6 313.1,1310.9 313.6,1320.6 314.0,1307.5 314.4,1324.6 314.8,1321.3 315.3,1314.8 315.7,1312.8 316.1,1302.0 316.5,1321.6 317.0,1314.8 317.4,1313.2 317.8,1321.0 318.3,1310.3 318.7,1310.8 319.1,1309.9 319.5,1304.7 320.0,1333.6 320.4,1313.5 320.8,1312.2 321.2,1321.8 321.7,1290.6 322.1,1314.6 322.5,1314.9 322.9,1307.3 323.4,1318.3 323.8,1299.1 324.2,1314.6 324.6,1321.3 325.1,1297.3 325.5,1303.1 325.9,1313.0 326.3,1313.9 326.8,1308.9 327.2,1316.6 327.6,1315.6 328.1,1303.2 328.5,1312.7 328.9,1303.6 329.3,1297.3 329.8,1294.6 330.2,1321.0 330.6,1312.1 331.0,1328.1 331.5,1301.7 331.9,1310.2 332.3,1315.5 332.7,1311.7 333.2,1316.7 333.6,1313.9 334.0,1308.0 334.4,1294.8 334.9,1305.4 335.3,1326.0 335.7,1318.6 336.1,1323.3 336.6,1308.2 337.0,1311.3 337.4,1306.0 337.9,1315.8 338.3,1313.2 338.7,1316.2 339.1,1326.3 339.6,1306.3 340.0,1318.4 340.4,1301.9 340.8,1321.2 341.3,1309.2 341.7,1312.1 342.1,1313.6 342.5,1325.2 343.0,1312.3 343.4,1308.7 343.8,1303.4 344.2,1314.6 344.7,1305.8 345.1,1308.5 345.5,1312.2 345.9,1317.5 346.4,1306.8 346.8,1317.4 347.2,1325.9 347.7,1300.7 348.1,1322.7 348.5,1328.8 348.9,1307.6 349.4,1316.8 349.8,1301.5 350.2,1314.7 350.6,1309.5 351.1,1314.3 351.5,1304.9 351.9,1305.5 352.3,1308.4 352.8,1306.3 353.2,1306.9 353.6,1310.1 354.0,1303.0 354.5,1310.4 354.9,1315.1 355.3,1293.6 355.7,1312.8 356.2,1305.5 356.6,1302.6 357.0,1300.8 357.5,1304.5 357.9,1305.2 358.3,1313.6 358.7,1301.1 359.2,1318.8 359.6,1304.5 360.0,1316.0 360.4,1319.1 360.9,1301.3 361.3,1318.9 361.7,1327.6 362.1,1307.4 362.6,1315.3 363.0,1309.9 363.4,1311.6 363.8,1309.5 364.3,1307.1 364.7,1316.6 365.1,1317.8 365.5,1311.0 366.0,1322.7 366.4,1319.4 366.8,1281.3 367.3,1305.5 367.7,1325.6 368.1,1321.2 368.5,1294.4 369.0,1302.4 369.4,1307.2 369.8,1318.1 370.2,1320.4 370.7,1308.5 371.1,1312.6 371.5,1316.0 371.9,1300.7 372.4,1315.0 372.8,1308.0 373.2,1311.7 373.6,1309.9 374.1,1301.1 374.5,1302.4 374.9,1310.3 375.3,1310.9 375.8,1307.8 376.2,1317.9 376.6,1306.9 377.1,1300.2 377.5,1306.8 377.9,1308.1 378.3,1308.3 378.8,1318.2 379.2,1313.1 379.6,1317.2 380.0,1313.8 380.5,1307.6 380.9,1316.8 381.3,1306.7 381.7,1310.6 382.2,1300.9 382.6,1309.3 383.0,1305.9 383.4,1311.2 383.9,1322.3 384.3,1326.4 384.7,1316.0 385.1,1307.7 385.6,1314.0 386.0,1309.0 386.4,1302.2 386.9,1306.1 387.3,1304.3 387.7,1301.3 388.1,1316.2 388.6,1301.1 389.0,1301.1 389.4,1310.0 389.8,1298.9 390.3,1295.0 390.7,1297.0 391.1,1306.9 391.5,1305.7 392.0,1304.8 392.4,1298.6 392.8,1294.8 393.2,1308.5 393.7,1290.0 394.1,1299.2 394.5,1290.3 394.9,1297.0 395.4,1298.6 395.8,1308.8 396.2,1276.8 396.7,1309.0 397.1,1291.2 397.5,1299.9 397.9,1303.4 398.4,1290.9 398.8,1295.7 399.2,1299.8 399.6,1294.6 400.1,1289.4 400.5,1296.1 400.9,1295.1 401.3,1282.3 401.8,1303.9 402.2,1294.8 402.6,1274.0 403.0,1285.8 403.5,1305.0 403.9,1303.6 404.3,1293.0 404.8,1277.5 405.2,1288.4 405.6,1298.3 406.0,1293.1 406.5,1287.4 406.9,1284.2 407.3,1296.2 407.7,1288.1 408.2,1292.2 408.6,1293.4 409.0,1302.1 409.4,1290.8 409.9,1291.3 410.3,1275.5 410.7,1297.7 411.1,1295.9 411.6,1288.9 412.0,1271.4 412.4,1284.5 412.8,1289.3 413.3,1304.8 413.7,1293.1 414.1,1294.6 414.6,1294.7 415.0,1298.6 415.4,1279.5 415.8,1281.6 416.3,1278.9 416.7,1285.8 417.1,1285.1 417.5,1288.6 418.0,1279.8 418.4,1288.3 418.8,1280.9 419.2,1303.7 419.7,1283.2 420.1,1306.9 420.5,1299.7 420.9,1277.8 421.4,1294.3 421.8,1291.5 422.2,1274.8 422.6,1291.3 423.1,1285.8 423.5,1289.0 423.9,1279.7 424.4,1285.7 424.8,1289.2 425.2,1284.5 425.6,1281.1 426.1,1284.5 426.5,1278.0 426.9,1288.1 427.3,1265.6 427.8,1296.9 428.2,1285.7 428.6,1288.7 429.0,1291.5 429.5,1275.3 429.9,1302.3 430.3,1276.0 430.7,1288.1 431.2,1286.9 431.6,1294.4 432.0,1284.1 432.4,1273.2 432.9,1286.5 433.3,1264.8 433.7,1282.2 434.2,1280.1 434.6,1295.5 435.0,1281.2 435.4,1279.8 435.9,1277.3 436.3,1276.5 436.7,1278.7 437.1,1287.5 437.6,1272.5 438.0,1281.0 438.4,1271.2 438.8,1281.1 439.3,1283.5 439.7,1272.6 440.1,1277.6 440.5,1282.8 441.0,1287.8 441.4,1289.1 441.8,1280.8 442.2,1273.9 442.7,1268.9 443.1,1287.4 443.5,1292.1 444.0,1284.0 444.4,1293.2 444.8,1277.5 445.2,1277.9 445.7,1293.0 446.1,1273.0 446.5,1285.4 446.9,1283.6 447.4,1281.7 447.8,1293.8 448.2,1273.6 448.6,1277.0 449.1,1264.0 449.5,1272.0 449.9,1276.0 450.3,1276.9 450.8,1278.3 451.2,1282.1 451.6,1274.5 452.0,1264.3 452.5,1280.7 452.9,1282.7 453.3,1270.3 453.8,1273.2 454.2,1292.8 454.6,1287.0 455.0,1287.4 455.5,1284.1 455.9,1279.9 456.3,1274.8 456.7,1283.1 457.2,1277.0 457.6,1275.1 458.0,1278.3 458.4,1277.7 458.9,1285.1 459.3,1270.7 459.7,1297.3 460.1,1270.1 460.6,1274.5 461.0,1285.0 461.4,1271.1 461.8,1273.7 462.3,1277.5 462.7,1254.2 463.1,1273.1 463.6,1269.5 464.0,1274.9 464.4,1280.5 464.8,1281.5 465.3,1288.1 465.7,1287.5 466.1,1284.2 466.5,1275.7 467.0,1284.0 467.4,1268.1 467.8,1274.9 468.2,1286.7 468.7,1281.5 469.1,1264.5 469.5,1270.6 469.9,1282.1 470.4,1279.7 470.8,1283.2 471.2,1261.0 471.6,1264.7 472.1,1272.5 472.5,1266.7 472.9,1274.0 473.4,1274.2 473.8,1276.6 474.2,1272.8 474.6,1278.1 475.1,1279.7 475.5,1274.7 475.9,1263.9 476.3,1283.3 476.8,1274.8 477.2,1276.3 477.6,1274.2 478.0,1260.2 478.5,1277.1 478.9,1267.4 479.3,1262.9 479.7,1282.2 480.2,1269.8 480.6,1274.3 481.0,1279.0 481.4,1284.6 481.9,1257.9 482.3,1266.1 482.7,1277.1 483.2,1266.6 483.6,1247.0 484.0,1272.9 484.4,1273.4 484.9,1277.8 485.3,1273.4 485.7,1268.1 486.1,1273.2 486.6,1271.2 487.0,1267.5 487.4,1273.4 487.8,1274.1 488.3,1263.5 488.7,1279.2 489.1,1277.6 489.5,1277.3 490.0,1249.8 490.4,1272.0 490.8,1270.1 491.2,1263.2 491.7,1275.5 492.1,1259.3 492.5,1280.4 493.0,1273.8 493.4,1266.9 493.8,1281.8 494.2,1274.3 494.7,1273.2 495.1,1260.5 495.5,1274.6 495.9,1281.4 496.4,1279.0 496.8,1260.4 497.2,1281.1 497.6,1282.7 498.1,1276.8 498.5,1267.2 498.9,1258.5 499.3,1263.0 499.8,1265.5 500.2,1272.1 500.6,1274.1 501.1,1263.9 501.5,1256.9 501.9,1266.2 502.3,1259.0 502.8,1279.5 503.2,1259.5 503.6,1272.7 504.0,1275.2 504.5,1261.1 504.9,1276.3 505.3,1267.3 505.7,1262.1 506.2,1260.8 506.6,1268.9 507.0,1276.2 507.4,1253.1 507.9,1272.4 508.3,1266.4 508.7,1261.6 509.1,1266.5 509.6,1267.1 510.0,1266.7 510.4,1273.3 510.9,1259.9 511.3,1282.1 511.7,1273.7 512.1,1262.0 512.6,1251.6 513.0,1266.3 513.4,1263.2 513.8,1272.0 514.3,1271.8 514.7,1280.9 515.1,1265.0 515.5,1272.0 516.0,1262.5 516.4,1262.8 516.8,1277.5 517.2,1264.5 517.7,1264.6 518.1,1262.6 518.5,1267.8 518.9,1269.8 519.4,1264.1 519.8,1256.1 520.2,1267.6 520.7,1258.5 521.1,1262.1 521.5,1266.5 521.9,1266.7 522.4,1246.7 522.8,1278.0 523.2,1270.9 523.6,1279.7 524.1,1284.2 524.5,1257.2 524.9,1260.1 525.3,1266.3 525.8,1271.6 526.2,1260.3 526.6,1261.8 527.0,1272.5 527.5,1257.2 527.9,1265.7 528.3,1272.4 528.7,1261.9 529.2,1269.9 529.6,1262.9 530.0,1251.4 530.5,1259.4 530.9,1262.0 531.3,1260.9 531.7,1263.6 532.2,1266.4 532.6,1265.5 533.0,1264.6 533.4,1259.7 533.9,1261.3 534.3,1260.0 534.7,1258.3 535.1,1273.5 535.6,1248.0 536.0,1264.4 536.4,1249.9 536.8,1257.8 537.3,1268.6 537.7,1260.1 538.1,1273.1 538.5,1254.8 539.0,1259.7 539.4,1257.0 539.8,1262.0 540.3,1259.3 540.7,1258.5 541.1,1261.9 541.5,1269.6 542.0,1262.0 542.4,1261.1 542.8,1258.1 543.2,1254.7 543.7,1248.8 544.1,1251.6 544.5,1259.8 544.9,1244.5 545.4,1264.2 545.8,1255.6 546.2,1251.4 546.6,1254.3 547.1,1263.4 547.5,1261.0 547.9,1260.0 548.3,1271.5 548.8,1275.9 549.2,1247.8 549.6,1264.5 550.1,1251.7 550.5,1246.9 550.9,1253.4 551.3,1265.3 551.8,1254.9 552.2,1253.6 552.6,1268.1 553.0,1261.1 553.5,1256.5 553.9,1271.0 554.3,1260.7 554.7,1251.2 555.2,1248.3 555.6,1253.4 556.0,1257.8 556.4,1263.7 556.9,1262.8 557.3,1257.0 557.7,1246.9 558.1,1263.0 558.6,1256.3 559.0,1247.0 559.4,1245.7 559.9,1256.8 560.3,1257.6 560.7,1261.1 561.1,1245.2 561.6,1269.4 562.0,1240.4 562.4,1254.1 562.8,1264.7 563.3,1262.3 563.7,1246.7 564.1,1258.7 564.5,1263.4 565.0,1259.5 565.4,1246.0 565.8,1266.5 566.2,1240.8 566.7,1253.7 567.1,1244.9 567.5,1249.8 567.9,1250.4 568.4,1256.8 568.8,1243.0 569.2,1254.4 569.7,1262.7 570.1,1253.1 570.5,1256.6 570.9,1255.7 571.4,1246.4 571.8,1249.3 572.2,1252.4 572.6,1255.7 573.1,1267.6 573.5,1264.5 573.9,1248.1 574.3,1248.2 574.8,1243.6 575.2,1233.5 575.6,1261.5 576.0,1255.4 576.5,1236.0 576.9,1251.2 577.3,1269.3 577.7,1254.7 578.2,1254.8 578.6,1252.4 579.0,1244.8 579.5,1241.5 579.9,1244.1 580.3,1251.7 580.7,1248.7 581.2,1256.1 581.6,1264.4 582.0,1255.4 582.4,1257.3 582.9,1248.1 583.3,1240.8 583.7,1267.7 584.1,1256.6 584.6,1260.2 585.0,1248.0 585.4,1237.8 585.8,1261.3 586.3,1234.3 586.7,1249.8 587.1,1246.9 587.5,1252.8 588.0,1257.5 588.4,1257.6 588.8,1234.8 589.3,1258.9 589.7,1236.3 590.1,1256.5 590.5,1247.8 591.0,1242.4 591.4,1247.1 591.8,1241.0 592.2,1251.2 592.7,1258.7 593.1,1257.6 593.5,1251.8 593.9,1260.0 594.4,1255.4 594.8,1268.3 595.2,1255.6 595.6,1246.9 596.1,1249.3 596.5,1245.6 596.9,1249.3 597.4,1250.5 597.8,1257.0 598.2,1257.8 598.6,1252.1 599.1,1255.0 599.5,1246.0 599.9,1247.5 600.3,1232.4 600.8,1245.5 601.2,1247.6 601.6,1271.5 602.0,1240.7 602.5,1251.8 602.9,1248.6 603.3,1238.7 603.7,1253.0 604.2,1251.0 604.6,1239.4 605.0,1232.5 605.4,1250.2 605.9,1239.4 606.3,1255.8 606.7,1248.2 607.2,1254.5 607.6,1247.9 608.0,1262.3 608.4,1255.5 608.9,1262.0 609.3,1250.9 609.7,1241.9 610.1,1238.8 610.6,1245.9 611.0,1252.0 611.4,1244.7 611.8,1268.8 612.3,1249.0 612.7,1253.1 613.1,1250.0 613.5,1239.5 614.0,1257.6 614.4,1254.3 614.8,1255.9 615.2,1241.7 615.7,1249.1 616.1,1248.6 616.5,1258.0 617.0,1237.9 617.4,1254.0 617.8,1258.6 618.2,1245.3 618.7,1242.1 619.1,1258.9 619.5,1250.3 619.9,1257.2 620.4,1254.1 620.8,1256.5 621.2,1246.5 621.6,1231.1 622.1,1252.3 622.5,1242.1 622.9,1252.2 623.3,1243.1 623.8,1259.9 624.2,1245.0 624.6,1253.3 625.0,1255.4 625.5,1245.9 625.9,1248.9 626.3,1246.1 626.8,1238.8 627.2,1257.5 627.6,1238.5 628.0,1233.2 628.5,1241.4 628.9,1246.3 629.3,1245.6 629.7,1242.3 630.2,1241.2 630.6,1227.7 631.0,1249.4 631.4,1258.0 631.9,1238.4 632.3,1229.8 632.7,1249.7 633.1,1242.3 633.6,1218.6 634.0,1237.4 634.4,1231.7 634.8,1233.8 635.3,1258.7 635.7,1250.6 636.1,1241.4 636.6,1242.7 637.0,1254.9 637.4,1233.6 637.8,1248.0 638.3,1236.9 638.7,1248.5 639.1,1243.5 639.5,1235.7 640.0,1249.9 640.4,1245.7 640.8,1255.8 641.2,1237.9 641.7,1242.1 642.1,1235.4 642.5,1250.5 642.9,1234.7 643.4,1240.5 643.8,1250.9 644.2,1244.6 644.6,1242.6 645.1,1242.3 645.5,1242.7 645.9,1245.1 646.4,1237.4 646.8,1223.9 647.2,1250.2 647.6,1231.0 648.1,1254.0 648.5,1241.5 648.9,1263.4 649.3,1248.4 649.8,1242.3 650.2,1246.1 650.6,1227.6 651.0,1240.0 651.5,1235.6 651.9,1238.5 652.3,1221.9 652.7,1220.6 653.2,1243.7 653.6,1238.2 654.0,1234.1 654.4,1236.8 654.9,1232.2 655.3,1233.5 655.7,1242.6 656.2,1235.2 656.6,1242.5 657.0,1231.2 657.4,1222.2 657.9,1231.3 658.3,1235.3 658.7,1227.4 659.1,1233.1 659.6,1232.0 660.0,1243.4 660.4,1242.5 660.8,1244.3 661.3,1229.2 661.7,1237.9 662.1,1245.3 662.5,1236.2 663.0,1234.0 663.4,1228.2 663.8,1240.9 664.2,1235.4 664.7,1241.8 665.1,1232.4 665.5,1249.9 666.0,1233.0 666.4,1223.2 666.8,1234.5 667.2,1236.5 667.7,1242.7 668.1,1228.5 668.5,1227.7 668.9,1229.7 669.4,1228.5 669.8,1214.6 670.2,1237.0 670.6,1241.1 671.1,1224.8 671.5,1222.9 671.9,1229.4 672.3,1223.8 672.8,1236.5 673.2,1225.0 673.6,1234.7 674.0,1219.7 674.5,1218.2 674.9,1216.9 675.3,1217.7 675.8,1232.3 676.2,1235.4 676.6,1229.7 677.0,1230.0 677.5,1210.5 677.9,1236.8 678.3,1217.9 678.7,1237.9 679.2,1246.6 679.6,1227.7 680.0,1231.9 680.4,1231.7 680.9,1216.1 681.3,1217.3 681.7,1220.6 682.1,1227.0 682.6,1232.3 683.0,1226.3 683.4,1233.9 683.8,1220.8 684.3,1213.4 684.7,1224.6 685.1,1223.7 685.6,1212.7 686.0,1231.9 686.4,1215.9 686.8,1217.5 687.3,1224.8 687.7,1214.2 688.1,1227.5 688.5,1225.4 689.0,1225.7 689.4,1221.9 689.8,1217.9 690.2,1215.4 690.7,1223.6 691.1,1231.8 691.5,1227.0 691.9,1223.5 692.4,1228.3 692.8,1230.7 693.2,1210.0 693.7,1219.4 694.1,1229.2 694.5,1214.1 694.9,1215.3 695.4,1223.7 695.8,1216.8 696.2,1227.9 696.6,1215.7 697.1,1222.7 697.5,1237.6 697.9,1226.6 698.3,1206.5 698.8,1208.8 699.2,1208.8 699.6,1216.1 700.0,1205.2 700.5,1220.6 700.9,1229.7 701.3,1228.4 701.7,1209.8 702.2,1213.5 702.6,1213.2 703.0,1209.0 703.5,1228.8 703.9,1209.8 704.3,1206.3 704.7,1217.9 705.2,1217.6 705.6,1226.9 706.0,1226.8 706.4,1213.1 706.9,1197.9 707.3,1219.7 707.7,1220.6 708.1,1228.3 708.6,1201.5 709.0,1204.6 709.4,1226.0 709.8,1226.4 710.3,1223.7 710.7,1213.2 711.1,1223.4 711.5,1208.7 712.0,1203.2 712.4,1212.4 712.8,1213.5 713.3,1219.0 713.7,1221.1 714.1,1198.5 714.5,1214.5 715.0,1216.0 715.4,1202.0 715.8,1209.8 716.2,1212.2 716.7,1215.1 717.1,1204.7 717.5,1206.7 717.9,1202.6 718.4,1213.8 718.8,1208.4 719.2,1206.3 719.6,1215.9 720.1,1209.3 720.5,1201.0 720.9,1219.1 721.3,1217.6 721.8,1213.3 722.2,1201.2 722.6,1217.9 723.1,1204.2 723.5,1193.9 723.9,1207.3 724.3,1222.3 724.8,1204.3 725.2,1212.2 725.6,1218.1 726.0,1208.5 726.5,1204.4 726.9,1206.7 727.3,1210.9 727.7,1202.0 728.2,1208.5 728.6,1209.9 729.0,1202.3 729.4,1210.6 729.9,1209.2 730.3,1202.0 730.7,1202.8 731.1,1204.9 731.6,1202.6 732.0,1201.9 732.4,1195.3 732.9,1203.8 733.3,1208.5 733.7,1207.5 734.1,1195.8 734.6,1206.3 735.0,1206.5 735.4,1194.3 735.8,1205.3 736.3,1199.6 736.7,1197.8 737.1,1202.3 737.5,1198.6 738.0,1182.7 738.4,1201.3 738.8,1190.8 739.2,1198.5 739.7,1204.2 740.1,1196.9 740.5,1195.1 740.9,1199.5 741.4,1202.1 741.8,1191.7 742.2,1193.1 742.7,1201.7 743.1,1210.1 743.5,1197.6 743.9,1204.3 744.4,1191.7 744.8,1197.3 745.2,1197.6 745.6,1187.0 746.1,1196.7 746.5,1195.2 746.9,1176.9 747.3,1195.7 747.8,1198.5 748.2,1197.9 748.6,1198.4 749.0,1187.2 749.5,1190.0 749.9,1194.0 750.3,1188.7 750.7,1191.6 751.2,1204.4 751.6,1188.1 752.0,1192.2 752.5,1208.7 752.9,1193.5 753.3,1186.8 753.7,1196.3 754.2,1195.6 754.6,1195.2 755.0,1181.3 755.4,1196.1 755.9,1196.7 756.3,1209.5 756.7,1198.9 757.1,1190.3 757.6,1195.9 758.0,1198.6 758.4,1192.2 758.8,1192.9 759.3,1203.6 759.7,1196.8 760.1,1196.9 760.5,1185.5 761.0,1196.1 761.4,1178.2 761.8,1202.0 762.3,1189.0 762.7,1197.3 763.1,1203.0 763.5,1184.0 764.0,1201.0 764.4,1193.8 764.8,1200.8 765.2,1189.1 765.7,1186.5 766.1,1201.5 766.5,1194.8 766.9,1191.8 767.4,1182.6 767.8,1201.3 768.2,1188.5 768.6,1189.3 769.1,1185.6 769.5,1190.8 769.9,1195.1 770.3,1190.0 770.8,1189.6 771.2,1186.0 771.6,1201.3 772.1,1202.2 772.5,1187.5 772.9,1182.9 773.3,1191.5 773.8,1177.0 774.2,1191.0 774.6,1191.1 775.0,1190.1 775.5,1200.9 775.9,1202.6 776.3,1191.9 776.7,1185.7 777.2,1196.1 777.6,1196.8 778.0,1178.9 778.4,1182.3 778.9,1185.8 779.3,1175.0 779.7,1179.0 780.2,1199.8 780.6,1177.7 781.0,1193.6 781.4,1181.0 781.9,1194.6 782.3,1189.4 782.7,1193.7 783.1,1176.3 783.6,1188.9 784.0,1182.3 784.4,1192.3 784.8,1191.9 785.3,1187.7 785.7,1185.3 786.1,1186.1 786.5,1188.0 787.0,1182.1 787.4,1182.6 787.8,1181.0 788.2,1177.8 788.7,1193.5 789.1,1175.6 789.5,1195.3 790.0,1190.7 790.4,1172.4 790.8,1171.3 791.2,1185.3 791.7,1177.0 792.1,1186.0 792.5,1192.0 792.9,1187.5 793.4,1183.0 793.8,1183.2 794.2,1195.7 794.6,1181.7 795.1,1197.5 795.5,1199.8 795.9,1181.5 796.3,1186.4 796.8,1197.1 797.2,1178.8 797.6,1187.3 798.0,1191.9 798.5,1176.0 798.9,1186.6 799.3,1184.8 799.8,1179.7 800.2,1195.3 800.6,1182.5 801.0,1200.7 801.5,1188.8 801.9,1177.9 802.3,1185.1 802.7,1177.3 803.2,1189.1 803.6,1187.8 804.0,1173.8 804.4,1179.5 804.9,1186.1 805.3,1182.9 805.7,1174.9 806.1,1190.4 806.6,1192.4 807.0,1170.8 807.4,1193.0 807.8,1166.3 808.3,1180.5 808.7,1176.4 809.1,1177.1 809.6,1182.5 810.0,1172.3 810.4,1180.2 810.8,1193.5 811.3,1184.1 811.7,1191.8 812.1,1187.0 812.5,1168.1 813.0,1193.7 813.4,1186.6 813.8,1185.0 814.2,1177.1 814.7,1175.9 815.1,1171.8 815.5,1178.5 815.9,1180.4 816.4,1178.3 816.8,1178.2 817.2,1164.6 817.6,1173.4 818.1,1173.0 818.5,1181.1 818.9,1175.3 819.4,1175.2 819.8,1179.2 820.2,1174.8 820.6,1176.1 821.1,1186.4 821.5,1176.8 821.9,1171.1 822.3,1182.3 822.8,1183.7 823.2,1182.3 823.6,1167.6 824.0,1184.5 824.5,1177.6 824.9,1178.2 825.3,1177.7 825.7,1180.4 826.2,1180.5 826.6,1187.8 827.0,1178.5 827.4,1176.0 827.9,1181.3 828.3,1175.6 828.7,1184.5 829.2,1177.4 829.6,1181.7 830.0,1172.1 830.4,1183.3 830.9,1180.5 831.3,1169.4 831.7,1172.8 832.1,1176.1 832.6,1165.5 833.0,1167.1 833.4,1178.8 833.8,1178.8 834.3,1184.9 834.7,1165.2 835.1,1172.0 835.5,1159.5 836.0,1187.5 836.4,1164.5 836.8,1172.4 837.2,1188.5 837.7,1184.6 838.1,1167.4 838.5,1190.6 839.0,1177.0 839.4,1165.9 839.8,1175.4 840.2,1178.0 840.7,1177.7 841.1,1156.9 841.5,1186.2 841.9,1160.4 842.4,1170.5 842.8,1182.5 843.2,1174.6 843.6,1171.2 844.1,1166.7 844.5,1175.3 844.9,1181.1 845.3,1166.5 845.8,1173.5 846.2,1167.4 846.6,1166.8 847.0,1154.3 847.5,1171.5 847.9,1176.4 848.3,1168.1 848.8,1176.8 849.2,1170.1 849.6,1177.7 850.0,1169.5 850.5,1165.5 850.9,1164.3 851.3,1168.5 851.7,1169.8 852.2,1161.6 852.6,1166.1 853.0,1157.1 853.4,1156.8 853.9,1171.4 854.3,1169.1 854.7,1172.8 855.1,1167.0 855.6,1167.6 856.0,1179.2 856.4,1159.2 856.8,1167.3 857.3,1176.6 857.7,1179.8 858.1,1168.7 858.6,1163.5 859.0,1156.3 859.4,1162.7 859.8,1164.7 860.3,1163.6 860.7,1167.1 861.1,1167.5 861.5,1159.7 862.0,1156.5 862.4,1160.8 862.8,1166.1 863.2,1174.9 863.7,1150.7 864.1,1170.5 864.5,1160.4 864.9,1170.5 865.4,1176.3 865.8,1165.9 866.2,1153.7 866.6,1159.0 867.1,1164.6 867.5,1159.4 867.9,1161.3 868.4,1156.0 868.8,1159.9 869.2,1156.9 869.6,1167.7 870.1,1163.6 870.5,1166.7 870.9,1149.1 871.3,1157.7 871.8,1155.5 872.2,1157.7 872.6,1154.3 873.0,1155.4 873.5,1172.2 873.9,1158.5 874.3,1151.2 874.7,1158.2 875.2,1176.6 875.6,1164.8 876.0,1152.2 876.5,1156.7 876.9,1157.5 877.3,1157.8 877.7,1143.4 878.2,1149.5 878.6,1154.7 879.0,1142.8 879.4,1153.6 879.9,1154.9 880.3,1159.6 880.7,1161.2 881.1,1151.5 881.6,1154.0 882.0,1156.8 882.4,1158.8 882.8,1151.4 883.3,1144.7 883.7,1154.2 884.1,1155.6 884.5,1149.9 885.0,1152.5 885.4,1159.8 885.8,1144.0 886.3,1142.3 886.7,1139.2 887.1,1149.6 887.5,1153.8 888.0,1142.7 888.4,1159.8 888.8,1141.6 889.2,1147.8 889.7,1144.6 890.1,1155.7 890.5,1140.3 890.9,1157.2 891.4,1143.2 891.8,1134.1 892.2,1139.7 892.6,1142.5 893.1,1156.2 893.5,1139.6 893.9,1142.9 894.3,1158.5 894.8,1143.6 895.2,1137.4 895.6,1136.3 896.1,1129.8 896.5,1144.1 896.9,1150.4 897.3,1138.1 897.8,1132.5 898.2,1142.4 898.6,1140.1 899.0,1138.7 899.5,1142.9 899.9,1139.4 900.3,1136.0 900.7,1146.0 901.2,1123.5 901.6,1128.6 902.0,1134.7 902.4,1125.9 902.9,1147.6 903.3,1118.5 903.7,1140.4 904.1,1138.9 904.6,1136.7 905.0,1136.9 905.4,1128.7 905.9,1127.0 906.3,1143.2 906.7,1130.6 907.1,1119.8 907.6,1121.1 908.0,1118.3 908.4,1132.0 908.8,1138.4 909.3,1126.5 909.7,1129.6 910.1,1124.1 910.5,1134.7 911.0,1134.1 911.4,1134.1 911.8,1140.6 912.2,1116.2 912.7,1131.9 913.1,1112.8 913.5,1130.4 913.9,1130.7 914.4,1129.6 914.8,1129.8 915.2,1122.0 915.7,1117.7 916.1,1128.4 916.5,1117.0 916.9,1127.2 917.4,1114.4 917.8,1123.5 918.2,1122.7 918.6,1113.4 919.1,1117.1 919.5,1126.6 919.9,1119.1 920.3,1122.7 920.8,1113.7 921.2,1118.6 921.6,1105.5 922.0,1110.7 922.5,1126.6 922.9,1120.5 923.3,1115.8 923.7,1116.4 924.2,1104.1 924.6,1117.9 925.0,1104.2 925.5,1107.8 925.9,1118.9 926.3,1106.9 926.7,1108.3 927.2,1111.3 927.6,1112.4 928.0,1122.0 928.4,1096.9 928.9,1107.0 929.3,1114.7 929.7,1105.5 930.1,1106.0 930.6,1102.5 931.0,1106.5 931.4,1114.2 931.8,1119.0 932.3,1111.6 932.7,1120.0 933.1,1109.5 933.5,1095.0 934.0,1114.7 934.4,1091.9 934.8,1107.9 935.3,1108.3 935.7,1098.9 936.1,1106.5 936.5,1103.6 937.0,1109.2 937.4,1105.5 937.8,1112.9 938.2,1104.7 938.7,1112.8 939.1,1107.7 939.5,1109.7 939.9,1108.6 940.4,1103.6 940.8,1116.7 941.2,1112.2 941.6,1088.5 942.1,1097.1 942.5,1121.4 942.9,1104.8 943.3,1130.5 943.8,1110.6 944.2,1110.7 944.6,1103.0 945.1,1105.0 945.5,1108.1 945.9,1114.3 946.3,1107.4 946.8,1106.2 947.2,1098.2 947.6,1102.5 948.0,1102.7 948.5,1105.1 948.9,1099.9 949.3,1096.8 949.7,1103.3 950.2,1085.0 950.6,1092.8 951.0,1098.3 951.4,1108.4 951.9,1099.0 952.3,1095.4 952.7,1110.1 953.1,1103.1 953.6,1115.5 954.0,1102.0 954.4,1097.6 954.9,1100.3 955.3,1118.2 955.7,1116.1 956.1,1104.2 956.6,1111.5 957.0,1090.7 957.4,1113.0 957.8,1105.1 958.3,1101.3 958.7,1102.0 959.1,1103.8 959.5,1097.6 960.0,1098.0 960.4,1090.7 960.8,1114.2 961.2,1093.0 961.7,1099.1 962.1,1109.0 962.5,1110.4 962.9,1112.0 963.4,1094.5 963.8,1095.5 964.2,1098.5 964.7,1082.9 965.1,1106.2 965.5,1084.3 965.9,1097.1 966.4,1105.8 966.8,1105.1 967.2,1093.8 967.6,1105.4 968.1,1106.6 968.5,1082.5 968.9,1094.7 969.3,1102.5 969.8,1100.4 970.2,1094.7 970.6,1095.6 971.0,1116.7 971.5,1093.4 971.9,1105.9 972.3,1086.2 972.8,1101.3 973.2,1105.8 973.6,1093.1 974.0,1091.4 974.5,1113.3 974.9,1095.4 975.3,1106.2 975.7,1084.6 976.2,1112.4 976.6,1080.0 977.0,1089.5 977.4,1092.5 977.9,1097.3 978.3,1099.7 978.7,1112.2 979.1,1116.7 979.6,1114.9 980.0,1105.7 980.4,1100.3 980.8,1080.1 981.3,1097.8 981.7,1093.4 982.1,1104.2 982.6,1089.7 983.0,1091.2 983.4,1092.1 983.8,1104.5 984.3,1100.3 984.7,1089.6 985.1,1083.4 985.5,1093.7 986.0,1093.1 986.4,1093.9 986.8,1099.5 987.2,1105.3 987.7,1105.8 988.1,1092.9 988.5,1092.1 988.9,1112.4 989.4,1096.8 989.8,1105.4 990.2,1100.8 990.6,1102.5 991.1,1113.4 991.5,1097.1 991.9,1109.1 992.4,1104.0 992.8,1098.0 993.2,1095.2 993.6,1094.7 994.1,1109.8 994.5,1108.3 994.9,1092.0 995.3,1103.1 995.8,1083.4 996.2,1100.1 996.6,1117.9 997.0,1089.0 997.5,1102.4 997.9,1094.2 998.3,1100.4 998.7,1090.2 999.2,1101.4 999.6,1078.8 1000.0,1097.4 1000.4,1096.8 1000.9,1098.8 1001.3,1117.8 1001.7,1089.3 1002.2,1093.5 1002.6,1087.4 1003.0,1104.1 1003.4,1099.7 1003.9,1089.1 1004.3,1108.0 1004.7,1102.0 1005.1,1112.4 1005.6,1106.4 1006.0,1100.3 1006.4,1092.5 1006.8,1080.2 1007.3,1094.1 1007.7,1109.7 1008.1,1097.4 1008.5,1091.9 1009.0,1101.7 1009.4,1106.1 1009.8,1124.5 1010.2,1090.6 1010.7,1096.3 1011.1,1089.1 1011.5,1092.8 1012.0,1107.5 1012.4,1098.3 1012.8,1059.9 1013.2,1111.2 1013.7,1115.1 1014.1,1106.2 1014.5,1090.1 1014.9,1089.4 1015.4,1110.6 1015.8,1089.8 1016.2,1093.8 1016.6,1085.7 1017.1,1116.1 1017.5,1092.8 1017.9,1097.2 1018.3,1092.0 1018.8,1092.6 1019.2,1088.1 1019.6,1108.6 1020.0,1092.4 1020.5,1111.7 1020.9,1086.9 1021.3,1102.8 1021.8,1107.1 1022.2,1087.9 1022.6,1100.5 1023.0,1093.1 1023.5,1088.2 1023.9,1094.3 1024.3,1081.1 1024.7,1095.4 1025.2,1084.0 1025.6,1104.0 1026.0,1111.8 1026.4,1110.7 1026.9,1091.3 1027.3,1096.7 1027.7,1115.9 1028.1,1109.5 1028.6,1103.6 1029.0,1078.5 1029.4,1094.8 1029.8,1118.1 1030.3,1102.1 1030.7,1093.8 1031.1,1098.6 1031.6,1119.7 1032.0,1109.6 1032.4,1086.0 1032.8,1087.4 1033.3,1098.1 1033.7,1109.6 1034.1,1090.8 1034.5,1092.4 1035.0,1074.2 1035.4,1091.8 1035.8,1103.0 1036.2,1103.0 1036.7,1083.9 1037.1,1104.6 1037.5,1089.6 1037.9,1084.0 1038.4,1101.7 1038.8,1081.9 1039.2,1092.5 1039.6,1088.7 1040.1,1095.3 1040.5,1098.6 1040.9,1092.4 1041.4,1088.7 1041.8,1091.7 1042.2,1074.3 1042.6,1095.3 1043.1,1115.5 1043.5,1099.9 1043.9,1107.4 1044.3,1096.9 1044.8,1097.1 1045.2,1101.1 1045.6,1103.2 1046.0,1102.9 1046.5,1089.3 1046.9,1097.2 1047.3,1083.2 1047.7,1106.7 1048.2,1096.7 1048.6,1094.4 1049.0,1085.3 1049.4,1101.4 1049.9,1106.3 1050.3,1101.8 1050.7,1107.3 1051.2,1090.0 1051.6,1105.8 1052.0,1097.2 1052.4,1072.5 1052.9,1099.9 1053.3,1088.1 1053.7,1096.1 1054.1,1091.3 1054.6,1089.4 1055.0,1107.4 1055.4,1092.5 1055.8,1099.4 1056.3,1104.3 1056.7,1094.3 1057.1,1086.4 1057.5,1098.6 1058.0,1097.2 1058.4,1089.7 1058.8,1099.3 1059.2,1110.2 1059.7,1107.4 1060.1,1112.9 1060.5,1111.4 1061.0,1100.4 1061.4,1098.8 1061.8,1088.5 1062.2,1109.8 1062.7,1093.5 1063.1,1104.2 1063.5,1114.4 1063.9,1100.0 1064.4,1085.0 1064.8,1089.2 1065.2,1095.6 1065.6,1111.4 1066.1,1095.9 1066.5,1097.7 1066.9,1088.9 1067.3,1102.2 1067.8,1099.9 1068.2,1106.5 1068.6,1090.1 1069.1,1104.6 1069.5,1085.7 1069.9,1092.6 1070.3,1093.8 1070.8,1097.1 1071.2,1102.7 1071.6,1077.2 1072.0,1098.2 1072.5,1095.4 1072.9,1086.7 1073.3,1096.3 1073.7,1103.4 1074.2,1095.1 1074.6,1094.8 1075.0,1105.8 1075.4,1092.5 1075.9,1109.5 1076.3,1103.3 1076.7,1103.8 1077.1,1105.5 1077.6,1111.7 1078.0,1093.4 1078.4,1110.9 1078.9,1092.0 1079.3,1103.8 1079.7,1106.1 1080.1,1101.9 1080.6,1090.2 1081.0,1089.3 1081.4,1090.4 1081.8,1100.4 1082.3,1102.5 1082.7,1106.2 1083.1,1086.7 1083.5,1104.1 1084.0,1110.7 1084.4,1102.8 1084.8,1101.2 1085.2,1109.0 1085.7,1116.3 1086.1,1115.5 1086.5,1116.0 1086.9,1089.9 1087.4,1115.4 1087.8,1099.1 1088.2,1110.0 1088.7,1096.6 1089.1,1105.7 1089.5,1097.0 1089.9,1099.7 1090.4,1120.6 1090.8,1091.5 1091.2,1112.0 1091.6,1103.6 1092.1,1092.7 1092.5,1115.5 1092.9,1103.7 1093.3,1098.3 1093.8,1106.8 1094.2,1096.3 1094.6,1119.5 1095.0,1090.2 1095.5,1099.4 1095.9,1085.6 1096.3,1106.8 1096.7,1112.3 1097.2,1113.4 1097.6,1119.4 1098.0,1105.0 1098.5,1100.9 1098.9,1114.0 1099.3,1099.9 1099.7,1108.8 1100.2,1101.4 1100.6,1099.2 1101.0,1105.6 1101.4,1116.7 1101.9,1114.9 1102.3,1107.8 1102.7,1082.2 1103.1,1106.9 1103.6,1110.6 1104.0,1112.2 1104.4,1100.6 1104.8,1116.9 1105.3,1110.7 1105.7,1090.0 1106.1,1114.9 1106.5,1123.3 1107.0,1110.6 1107.4,1100.9 1107.8,1125.4 1108.3,1118.0 1108.7,1091.5 1109.1,1118.7 1109.5,1112.7 1110.0,1111.7 1110.4,1092.5 1110.8,1093.3 1111.2,1110.7 1111.7,1127.1 1112.1,1110.7 1112.5,1110.0 1112.9,1103.3 1113.4,1105.4 1113.8,1118.8 1114.2,1101.8 1114.6,1126.7 1115.1,1113.5 1115.5,1112.0 1115.9,1107.8 1116.3,1102.2 1116.8,1106.6 1117.2,1095.2 1117.6,1109.5 1118.1,1090.9 1118.5,1129.4 1118.9,1108.1 1119.3,1094.2 1119.8,1111.0 1120.2,1109.6 1120.6,1103.3 1121.0,1110.9 1121.5,1100.9 1121.9,1107.3 1122.3,1106.8 1122.7,1113.1 1123.2,1103.4 1123.6,1111.3 1124.0,1082.1 1124.4,1118.8 1124.9,1110.5 1125.3,1114.0 1125.7,1106.6 1126.1,1117.3 1126.6,1108.7 1127.0,1111.1 1127.4,1110.0 1127.9,1104.3 1128.3,1100.8 1128.7,1114.5 1129.1,1115.5 1129.6,1109.2 1130.0,1121.5 1130.4,1110.8 1130.8,1114.0 1131.3,1119.5 1131.7,1115.7 1132.1,1107.1 1132.5,1098.4 1133.0,1101.2 1133.4,1098.3 1133.8,1115.4 1134.2,1077.6 1134.7,1126.5 1135.1,1099.0 1135.5,1117.3 1135.9,1109.8 1136.4,1111.8 1136.8,1094.3 1137.2,1116.1 1137.7,1105.3 1138.1,1111.9 1138.5,1097.0 1138.9,1105.3 1139.4,1098.7 1139.8,1108.1 1140.2,1111.4 1140.6,1102.7 1141.1,1108.8 1141.5,1109.3 1141.9,1103.7 1142.3,1101.6 1142.8,1085.8 1143.2,1113.8 1143.6,1105.2 1144.0,1101.1 1144.5,1105.3 1144.9,1098.2 1145.3,1100.0 1145.7,1107.5 1146.2,1088.4 1146.6,1099.6 1147.0,1104.6 1147.5,1087.5 1147.9,1091.8 1148.3,1113.6 1148.7,1122.2 1149.2,1104.4 1149.6,1107.7 1150.0,1093.2 1150.4,1113.8 1150.9,1100.5 1151.3,1101.7 1151.7,1104.5 1152.1,1095.2 1152.6,1093.8 1153.0,1099.9 1153.4,1090.1 1153.8,1094.4 1154.3,1075.4 1154.7,1090.0 1155.1,1103.6 1155.5,1109.4 1156.0,1104.6 1156.4,1090.8 1156.8,1099.2 1157.3,1089.4 1157.7,1088.1 1158.1,1107.2 1158.5,1094.3 1159.0,1094.6 1159.4,1099.2 1159.8,1106.0 1160.2,1098.3 1160.7,1094.8 1161.1,1100.0 1161.5,1096.0 1161.9,1093.7 1162.4,1075.9 1162.8,1088.2 1163.2,1095.1 1163.6,1086.6 1164.1,1113.4 1164.5,1117.4 1164.9,1111.8 1165.4,1087.4 1165.8,1100.2 1166.2,1099.4 1166.6,1098.7 1167.1,1080.4 1167.5,1103.8 1167.9,1110.8 1168.3,1102.5 1168.8,1114.5 1169.2,1091.8 1169.6,1100.9 1170.0,1106.5 1170.5,1085.7 1170.9,1093.2 1171.3,1087.3 1171.7,1102.5 1172.2,1083.7 1172.6,1097.2 1173.0,1089.3 1173.4,1102.6 1173.9,1089.4 1174.3,1092.7 1174.7,1096.4 1175.2,1087.0 1175.6,1089.9 1176.0,1091.7 1176.4,1089.2 1176.9,1096.2 1177.3,1086.5 1177.7,1094.3 1178.1,1090.6 1178.6,1087.3 1179.0,1082.8 1179.4,1075.4 1179.8,1086.2 1180.3,1097.7 1180.7,1089.3 1181.1,1106.3 1181.5,1083.1 1182.0,1088.5 1182.4,1077.2 1182.8,1102.4 1183.2,1079.2 1183.7,1095.7 1184.1,1094.2 1184.5,1115.7 1185.0,1103.9 1185.4,1098.8 1185.8,1092.7 1186.2,1108.9 1186.7,1088.1 1187.1,1079.9 1187.5,1099.5 1187.9,1090.8 1188.4,1084.8 1188.8,1094.5 1189.2,1096.0 1189.6,1076.8 1190.1,1100.2 1190.5,1109.7 1190.9,1087.5 1191.3,1077.1 1191.8,1093.5 1192.2,1089.9 1192.6,1098.3 1193.0,1099.6 1193.5,1089.8 1193.9,1105.1 1194.3,1072.9 1194.8,1084.3 1195.2,1092.5 1195.6,1094.5 1196.0,1089.9 1196.5,1094.9 1196.9,1078.6 1197.3,1069.1 1197.7,1098.3 1198.2,1103.1 1198.6,1090.6 1199.0,1079.7 1199.4,1084.0 1199.9,1096.2 1200.3,1092.5 1200.7,1102.8 1201.1,1106.0 1201.6,1102.1 1202.0,1088.4 1202.4,1100.4 1202.8,1095.3 1203.3,1092.6 1203.7,1092.2 1204.1,1089.7 1204.6,1081.0 1205.0,1093.9 1205.4,1083.2 1205.8,1090.0 1206.3,1097.9 1206.7,1097.7 1207.1,1073.0 1207.5,1084.0 1208.0,1080.0 1208.4,1092.8 1208.8,1083.3 1209.2,1099.0 1209.7,1085.9 1210.1,1094.5 1210.5,1081.0 1210.9,1083.2 1211.4,1087.5 1211.8,1094.1 1212.2,1070.7 1212.6,1090.7 1213.1,1076.4 1213.5,1091.5 1213.9,1073.1 1214.4,1085.8 1214.8,1101.0 1215.2,1103.3 1215.6,1080.3 1216.1,1105.6 1216.5,1085.7 1216.9,1090.0 1217.3,1094.4 1217.8,1090.6 1218.2,1092.9 1218.6,1091.3 1219.0,1097.6 1219.5,1091.6 1219.9,1085.4 1220.3,1080.1 1220.7,1079.7 1221.2,1088.6 1221.6,1096.0 1222.0,1092.3 1222.4,1086.5 1222.9,1093.3 1223.3,1084.0 1223.7,1090.4 1224.2,1093.5 1224.6,1085.8 1225.0,1101.7 1225.4,1099.7 1225.9,1086.5 1226.3,1095.1 1226.7,1091.1 1227.1,1092.3 1227.6,1092.3 1228.0,1101.6 1228.4,1092.5 1228.8,1092.3 1229.3,1098.2 1229.7,1097.9 1230.1,1105.6 1230.5,1082.1 1231.0,1095.9 1231.4,1072.6 1231.8,1089.9 1232.2,1077.7 1232.7,1077.4 1233.1,1088.4 1233.5,1079.5 1234.0,1086.7 1234.4,1064.2 1234.8,1102.0 1235.2,1064.4 1235.7,1082.9 1236.1,1104.8 1236.5,1076.4 1236.9,1104.7 1237.4,1099.2 1237.8,1088.2 1238.2,1085.5 1238.6,1086.2 1239.1,1091.3 1239.5,1097.8 1239.9,1101.0 1240.3,1069.1 1240.8,1096.7 1241.2,1094.3 1241.6,1077.1 1242.0,1096.7 1242.5,1097.0 1242.9,1096.8 1243.3,1087.7 1243.8,1095.6 1244.2,1099.5 1244.6,1082.0 1245.0,1083.4 1245.5,1082.6 1245.9,1098.9 1246.3,1088.1 1246.7,1081.1 1247.2,1078.2 1247.6,1075.9 1248.0,1089.7 1248.4,1095.4 1248.9,1099.3 1249.3,1078.2 1249.7,1078.4 1250.1,1078.4 1250.6,1079.2 1251.0,1073.1 1251.4,1101.2 1251.8,1091.2 1252.3,1082.1 1252.7,1063.0 1253.1,1099.3 1253.6,1093.7 1254.0,1087.6 1254.4,1093.0 1254.8,1080.0 1255.3,1092.2 1255.7,1081.1 1256.1,1090.4 1256.5,1084.6 1257.0,1073.8 1257.4,1076.0 1257.8,1095.9 1258.2,1095.1 1258.7,1084.0 1259.1,1079.1 1259.5,1081.4 1259.9,1089.1 1260.4,1072.6 1260.8,1094.2 1261.2,1077.5 1261.7,1074.4 1262.1,1084.5 1262.5,1102.4 1262.9,1077.9 1263.4,1080.8 1263.8,1073.3 1264.2,1086.3 1264.6,1086.4 1265.1,1083.6 1265.5,1079.9 1265.9,1086.8 1266.3,1090.6 1266.8,1078.9 1267.2,1080.5 1267.6,1076.7 1268.0,1077.3 1268.5,1093.5 1268.9,1072.8 1269.3,1083.6 1269.7,1091.4 1270.2,1076.9 1270.6,1086.8 1271.0,1088.1 1271.5,1067.6 1271.9,1090.0 1272.3,1071.3 1272.7,1081.7 1273.2,1066.2 1273.6,1065.2 1274.0,1077.7 1274.4,1095.0 1274.9,1103.6 1275.3,1105.3 1275.7,1092.3 1276.1,1090.6 1276.6,1086.6 1277.0,1085.5 1277.4,1075.8 1277.8,1074.8 1278.3,1082.9 1278.7,1083.1 1279.1,1072.8 1279.5,1067.3 1280.0,1071.5 1280.4,1108.8 1280.8,1071.4 1281.3,1091.4 1281.7,1089.2 1282.1,1087.7 1282.5,1071.7 1283.0,1096.2 1283.4,1079.9 1283.8,1071.4 1284.2,1070.1 1284.7,1075.4 1285.1,1096.4 1285.5,1064.2 1285.9,1069.9 1286.4,1076.1 1286.8,1080.5 1287.2,1065.7 1287.6,1066.2 1288.1,1070.1 1288.5,1081.5 1288.9,1073.4 1289.3,1072.7 1289.8,1076.5 1290.2,1075.6 1290.6,1083.5 1291.1,1067.7 1291.5,1074.6 1291.9,1068.5 1292.3,1081.4 1292.8,1082.3 1293.2,1072.3 1293.6,1085.7 1294.0,1072.8 1294.5,1087.8 1294.9,1071.0 1295.3,1070.5 1295.7,1060.7 1296.2,1065.1 1296.6,1071.0 1297.0,1054.8 1297.4,1074.4 1297.9,1082.6 1298.3,1079.7 1298.7,1076.4 1299.1,1080.9 1299.6,1069.3 1300.0,1070.1 1300.4,1082.1 1300.9,1072.7 1301.3,1083.0 1301.7,1068.8 1302.1,1079.4 1302.6,1084.4 1303.0,1071.6 1303.4,1088.1 1303.8,1086.5 1304.3,1048.5 1304.7,1096.3 1305.1,1055.5 1305.5,1093.9 1306.0,1061.7 1306.4,1049.7 1306.8,1056.6 1307.2,1073.6 1307.7,1059.2 1308.1,1063.1 1308.5,1079.8 1308.9,1058.2 1309.4,1072.3 1309.8,1079.5 1310.2,1049.1 1310.7,1055.3 1311.1,1068.4 1311.5,1065.9 1311.9,1068.4 1312.4,1046.0 1312.8,1056.9 1313.2,1068.6 1313.6,1070.1 1314.1,1076.4 1314.5,1060.1 1314.9,1056.5 1315.3,1053.7 1315.8,1053.8 1316.2,1042.6 1316.6,1078.7 1317.0,1057.5 1317.5,1054.6 1317.9,1054.9 1318.3,1066.2 1318.7,1061.4 1319.2,1052.4 1319.6,1069.6 1320.0,1062.0 1320.5,1057.2 1320.9,1058.7 1321.3,1070.0 1321.7,1064.9 1322.2,1056.8 1322.6,1067.6 1323.0,1035.8 1323.4,1063.8 1323.9,1048.1 1324.3,1049.9 1324.7,1053.4 1325.1,1074.0 1325.6,1053.5 1326.0,1053.4 1326.4,1060.4 1326.8,1034.2 1327.3,1051.6 1327.7,1060.4 1328.1,1043.3 1328.5,1058.7 1329.0,1045.0 1329.4,1037.3 1329.8,1060.8 1330.3,1052.5 1330.7,1059.0 1331.1,1052.8 1331.5,1040.1 1332.0,1060.7 1332.4,1054.5 1332.8,1054.1 1333.2,1045.8 1333.7,1038.4 1334.1,1063.6 1334.5,1056.9 1334.9,1050.6 1335.4,1042.4 1335.8,1061.6 1336.2,1039.3 1336.6,1039.8 1337.1,1068.7 1337.5,1053.0 1337.9,1055.9 1338.3,1053.6 1338.8,1067.4 1339.2,1049.8 1339.6,1050.5 1340.1,1036.2 1340.5,1044.5 1340.9,1027.5 1341.3,1038.2 1341.8,1040.8 1342.2,1047.3 1342.6,1052.8 1343.0,1031.1 1343.5,1026.1 1343.9,1038.8 1344.3,1026.1 1344.7,1051.3 1345.2,1045.9 1345.6,1022.0 1346.0,1033.3 1346.4,1043.2 1346.9,1019.7 1347.3,1023.0 1347.7,1026.2 1348.2,1040.0 1348.6,1029.9 1349.0,1021.5 1349.4,1026.3 1349.9,1022.4 1350.3,1022.8 1350.7,1024.9 1351.1,1021.4 1351.6,1024.6 1352.0,1017.0 1352.4,1013.0 1352.8,1011.7 1353.3,997.3 1353.7,1007.8 1354.1,1030.3 1354.5,1010.2 1355.0,1015.0 1355.4,1017.9 1355.8,1003.4 1356.2,1004.2 1356.7,1012.5 1357.1,996.9 1357.5,1015.2 1358.0,1012.3 1358.4,1007.1 1358.8,1006.6 1359.2,1011.0 1359.7,1003.9 1360.1,976.2 1360.5,1007.0 1360.9,991.2 1361.4,995.3 1361.8,995.4 1362.2,995.3 1362.6,982.4 1363.1,980.3 1363.5,999.8 1363.9,1001.3 1364.3,1005.6 1364.8,988.1 1365.2,998.6 1365.6,1010.4 1366.0,998.5 1366.5,996.5 1366.9,1024.4 1367.3,985.7 1367.8,995.0 1368.2,992.2 1368.6,998.8 1369.0,1037.8 1369.5,993.6 1369.9,1002.0 1370.3,999.4 1370.7,997.3 1371.2,1014.5 1371.6,1001.2 1372.0,1017.8 1372.4,1021.8 1372.9,1001.8 1373.3,1022.3 1373.7,994.9 1374.1,1011.4 1374.6,1019.3 1375.0,997.6 1375.4,1008.8 1375.8,1015.6 1376.3,1017.7 1376.7,1016.1 1377.1,1034.8 1377.6,1012.8 1378.0,1028.2 1378.4,1039.1 1378.8,1010.5 1379.3,1013.6 1379.7,1007.9 1380.1,1027.7 1380.5,1036.3 1381.0,1003.0 1381.4,1012.8 1381.8,1017.1 1382.2,1048.9 1382.7,1021.7 1383.1,1030.8 1383.5,1014.5 1383.9,1038.1 1384.4,1018.1 1384.8,1029.7 1385.2,1019.8 1385.6,1030.5 1386.1,1030.4 1386.5,1034.9 1386.9,1035.1 1387.4,1053.1 1387.8,1025.7 1388.2,1048.7 1388.6,1038.1 1389.1,1033.1 1389.5,1038.8 1389.9,1038.7 1390.3,1045.7 1390.8,1045.7 1391.2,1044.0 1391.6,1040.5 1392.0,1020.6 1392.5,1047.9 1392.9,1051.2 1393.3,1043.5 1393.7,1043.2 1394.2,1031.0 1394.6,1043.8 1395.0,1050.7 1395.4,1027.0 1395.9,1036.8 1396.3,1036.5 1396.7,1056.5 1397.2,1038.1 1397.6,1023.4 1398.0,1045.5 1398.4,1058.9 1398.9,1042.8 1399.3,1040.2 1399.7,1047.8 1400.1,1064.5 1400.6,1042.9 1401.0,1042.8 1401.4,1050.4 1401.8,1037.1 1402.3,1026.8 1402.7,1047.4 1403.1,1041.7 1403.5,1049.7 1404.0,1047.2 1404.4,1051.6 1404.8,1033.6 1405.2,1049.3 1405.7,1035.5 1406.1,1049.6 1406.5,1040.8 1407.0,1064.5 1407.4,1035.7 1407.8,1020.2 1408.2,1047.0 1408.7,1040.4 1409.1,1035.2 1409.5,1047.9 1409.9,1064.0 1410.4,1043.6 1410.8,1037.5 1411.2,1061.4 1411.6,1058.1 1412.1,1045.5 1412.5,1039.1 1412.9,1053.3 1413.3,1037.4 1413.8,1038.1 1414.2,1035.9 1414.6,1051.2 1415.0,1062.2 1415.5,1045.7 1415.9,1065.1 1416.3,1022.7 1416.8,1044.6 1417.2,1025.5 1417.6,1055.0 1418.0,1059.5 1418.5,1024.5 1418.9,1036.0 1419.3,1045.3 1419.7,1027.6 1420.2,1034.5 1420.6,1032.8 1421.0,1044.9 1421.4,1035.3 1421.9,1030.7 1422.3,1034.4 1422.7,1042.1 1423.1,1044.1 1423.6,1040.9 1424.0,1056.8 1424.4,1038.7 1424.8,1044.0 1425.3,1049.7 1425.7,1038.8 1426.1,1058.0 1426.6,1051.5 1427.0,989.0 1427.4,1032.6 1427.8,1041.1 1428.3,1049.1 1428.7,1054.7 1429.1,1035.4 1429.5,1036.6 1430.0,1027.3 1430.4,1025.2 1430.8,1055.0 1431.2,1042.3 1431.7,1048.8 1432.1,1054.9 1432.5,1042.1 1432.9,1043.7 1433.4,1030.5 1433.8,1035.4 1434.2,1047.3 1434.6,1058.4 1435.1,1054.1 1435.5,1034.3 1435.9,1033.4 1436.4,1050.3 1436.8,1047.8 1437.2,1048.4 1437.6,1045.2 1438.1,1056.9 1438.5,1045.3 1438.9,1058.9 1439.3,1048.4 1439.8,1042.3 1440.2,1029.1 1440.6,1045.8 1441.0,1052.4 1441.5,1044.1 1441.9,1030.7 1442.3,1020.4 1442.7,1038.6 1443.2,1062.4 1443.6,1028.8 1444.0,1036.4 1444.5,1043.7 1444.9,1053.0 1445.3,1030.3 1445.7,1042.1 1446.2,1045.0 1446.6,1027.9 1447.0,1046.2 1447.4,1029.5 1447.9,1043.4 1448.3,1048.7 1448.7,1042.3 1449.1,1026.8 1449.6,1049.4 1450.0,1049.6 1450.4,1042.9 1450.8,1050.7 1451.3,1035.7 1451.7,1031.3 1452.1,1038.9 1452.5,1046.6 1453.0,1051.4 1453.4,1032.7 1453.8,1043.3 1454.3,1042.7 1454.7,1034.9 1455.1,1016.9 1455.5,1020.4 1456.0,1051.5 1456.4,1022.5 1456.8,1019.1 1457.2,1023.1 1457.7,1036.0 1458.1,1055.2 1458.5,1044.3 1458.9,1034.2 1459.4,1036.1 1459.8,1044.9 1460.2,1040.3 1460.6,1018.8 1461.1,1054.1 1461.5,1050.5 1461.9,1026.9 1462.3,1036.8 1462.8,1044.8 1463.2,1042.9 1463.6,1035.6 1464.1,1040.4 1464.5,1061.2 1464.9,1035.9 1465.3,1051.3 1465.8,1042.6 1466.2,1025.8 1466.6,1047.3 1467.0,1043.8 1467.5,1053.6 1467.9,1058.8 1468.3,1052.3 1468.7,1043.5 1469.2,1046.1 1469.6,1049.7 1470.0,1029.9 1470.4,1027.5 1470.9,1048.8 1471.3,1025.9 1471.7,1036.0 1472.1,1060.9 1472.6,1050.3 1473.0,1054.2 1473.4,1038.7 1473.9,1053.1 1474.3,1028.9 1474.7,1029.2 1475.1,1036.8 1475.6,1030.3 1476.0,1054.4 1476.4,1036.7 1476.8,1024.4 1477.3,1049.3 1477.7,1047.2 1478.1,1052.8 1478.5,1023.9 1479.0,1027.8 1479.4,1010.6 1479.8,1042.7 1480.2,1037.0 1480.7,1030.9 1481.1,1054.3 1481.5,1028.4 1481.9,1031.5 1482.4,1026.7 1482.8,1024.9 1483.2,1036.7 1483.7,1034.9 1484.1,1032.7 1484.5,1023.3 1484.9,1020.3 1485.4,1029.3 1485.8,1035.8 1486.2,1025.8 1486.6,1031.1 1487.1,1032.0 1487.5,1024.7 1487.9,1017.6 1488.3,1034.3 1488.8,1055.8 1489.2,1042.2 1489.6,1034.8 1490.0,1027.5 1490.5,1028.1 1490.9,1049.1 1491.3,1021.6 1491.7,1057.9 1492.2,1036.3 1492.6,1039.5 1493.0,1031.2 1493.5,1047.4 1493.9,1047.0 1494.3,1026.0 1494.7,1057.9 1495.2,1037.2 1495.6,1016.0 1496.0,1040.7 1496.4,1038.4 1496.9,1036.5 1497.3,1044.8 1497.7,1047.5 1498.1,1018.6 1498.6,1030.7 1499.0,1031.3 1499.4,1033.4 1499.8,1010.1 1500.3,1035.6 1500.7,1033.0 1501.1,1056.3 1501.5,1021.1 1502.0,1025.4 1502.4,1037.0 1502.8,1031.0 1503.3,1042.0 1503.7,1046.0 1504.1,1019.3 1504.5,1031.7 1505.0,1038.3 1505.4,1020.4 1505.8,1057.9 1506.2,1033.3 1506.7,1031.3 1507.1,1009.8 1507.5,1020.2 1507.9,1003.3 1508.4,1036.8 1508.8,1017.9 1509.2,1028.7 1509.6,1032.2 1510.1,1029.7 1510.5,1021.8 1510.9,1036.1 1511.3,1012.3 1511.8,1002.5 1512.2,1007.2 1512.6,1035.2 1513.1,1043.2 1513.5,1016.6 1513.9,1017.9 1514.3,1029.6 1514.8,1007.3 1515.2,1017.6 1515.6,1005.4 1516.0,1024.1 1516.5,986.0 1516.9,1003.5 1517.3,1000.3 1517.7,1021.3 1518.2,1028.1 1518.6,1021.3 1519.0,1047.7 1519.4,1021.8 1519.9,1008.9 1520.3,1015.0 1520.7,1029.2 1521.1,1026.3 1521.6,1047.8 1522.0,1022.7 1522.4,1008.0 1522.9,1005.8 1523.3,1029.8 1523.7,983.8 1524.1,1024.2 1524.6,1029.7 1525.0,1013.1 1525.4,1021.7 1525.8,1035.1 1526.3,1037.2 1526.7,1035.7 1527.1,1030.5 1527.5,1015.7 1528.0,1002.4 1528.4,990.3 1528.8,1039.9 1529.2,1030.3 1529.7,1000.4 1530.1,1030.6 1530.5,1010.9 1530.9,1009.5 1531.4,1000.5 1531.8,1042.3 1532.2,998.0 1532.7,1000.9 1533.1,1024.2 1533.5,1025.7 1533.9,1021.6 1534.4,1001.4 1534.8,1011.9 1535.2,1003.2 1535.6,1007.7 1536.1,1037.2 1536.5,1017.4 1536.9,1023.8 1537.3,1001.8 1537.8,1006.3 1538.2,1018.8 1538.6,1028.4 1539.0,1010.7 1539.5,1031.8 1539.9,1043.3 1540.3,989.1 1540.8,1012.1 1541.2,1020.3 1541.6,1008.8 1542.0,1032.9 1542.5,1012.7 1542.9,1015.4 1543.3,990.2 1543.7,1023.4 1544.2,1006.1 1544.6,1015.8 1545.0,1006.5 1545.4,1000.7 1545.9,1007.3 1546.3,992.8 1546.7,1005.8 1547.1,1023.1 1547.6,1020.8 1548.0,995.9 1548.4,1018.9 1548.8,1003.0 1549.3,999.4 1549.7,1015.2 1550.1,1016.6 1550.6,999.0 1551.0,1018.9 1551.4,1006.4 1551.8,1034.0 1552.3,986.8 1552.7,1002.7 1553.1,1001.8 1553.5,994.3 1554.0,987.4 1554.4,1020.6 1554.8,1008.2 1555.2,986.4 1555.7,996.8 1556.1,998.7 1556.5,1007.6 1556.9,990.4 1557.4,1022.0 1557.8,1002.9 1558.2,1020.9 1558.6,1009.3 1559.1,998.6 1559.5,999.5 1559.9,1006.6 1560.4,1003.4 1560.8,1004.4 1561.2,1010.7 1561.6,1016.4 1562.1,987.2 1562.5,978.9 1562.9,987.9 1563.3,1015.3 1563.8,996.8 1564.2,990.7 1564.6,1003.1 1565.0,1007.8 1565.5,983.7 1565.9,985.1 1566.3,996.9 1566.7,995.9 1567.2,987.4 1567.6,1025.9 1568.0,1012.5 1568.4,994.1 1568.9,1004.5 1569.3,980.1 1569.7,1007.4 1570.2,992.6 1570.6,985.7 1571.0,976.9 1571.4,1004.9 1571.9,994.9 1572.3,986.2 1572.7,1006.5 1573.1,989.9 1573.6,996.3 1574.0,986.5 1574.4,997.7 1574.8,977.1 1575.3,986.5 1575.7,992.2 1576.1,980.6 1576.5,983.8 1577.0,1000.0 1577.4,984.1 1577.8,1003.8 1578.2,995.4 1578.7,989.9 1579.1,970.1 1579.5,1008.5 1580.0,1007.8 1580.4,992.6 1580.8,990.6 1581.2,989.6 1581.7,983.2 1582.1,985.2 1582.5,993.6 1582.9,968.8 1583.4,987.5 1583.8,993.3 1584.2,965.2 1584.6,979.1 1585.1,967.4 1585.5,968.8 1585.9,994.2 1586.3,971.7 1586.8,1020.7 1587.2,984.2 1587.6,975.8 1588.0,982.5 1588.5,985.9 1588.9,989.7 1589.3,989.9 1589.8,989.7 1590.2,999.6 1590.6,1001.0 1591.0,986.4 1591.5,990.2 1591.9,975.7 1592.3,977.4 1592.7,980.3 1593.2,1002.4 1593.6,975.9 1594.0,987.4 1594.4,986.4 1594.9,995.0 1595.3,976.9 1595.7,979.5 1596.1,998.4 1596.6,987.7 1597.0,977.5 1597.4,999.4 1597.8,985.7 1598.3,977.5 1598.7,995.8 1599.1,1006.8 1599.6,978.7 1600.0,971.0 1600.4,953.3 1600.8,1007.1 1601.3,976.5 1601.7,979.4 1602.1,970.4 1602.5,980.8 1603.0,969.5 1603.4,1002.5 1603.8,991.8 1604.2,975.8 1604.7,966.9 1605.1,990.0 1605.5,971.6 1605.9,998.8 1606.4,985.8 1606.8,981.6 1607.2,966.6 1607.6,985.1 1608.1,964.8 1608.5,996.6 1608.9,956.2 1609.4,976.8 1609.8,1011.7 1610.2,974.8 1610.6,990.4 1611.1,994.4 1611.5,985.2 1611.9,978.9 1612.3,993.5 1612.8,993.9 1613.2,972.8 1613.6,1000.2 1614.0,996.6 1614.5,966.5 1614.9,986.1 1615.3,986.5 1615.7,981.1 1616.2,971.0 1616.6,963.3 1617.0,985.0 1617.4,957.9 1617.9,970.9 1618.3,953.1 1618.7,968.7 1619.2,979.7 1619.6,959.1 1620.0,987.2 1620.4,989.1 1620.9,982.2 1621.3,985.1 1621.7,995.4 1622.1,985.9 1622.6,954.4 1623.0,974.0 1623.4,965.0 1623.8,976.0 1624.3,953.8 1624.7,975.9 1625.1,971.7 1625.5,981.7 1626.0,962.2 1626.4,971.0 1626.8,947.0 1627.2,971.8 1627.7,973.0 1628.1,956.3 1628.5,973.2 1629.0,955.4 1629.4,978.7 1629.8,961.9 1630.2,966.8 1630.7,993.1 1631.1,979.1 1631.5,991.1 1631.9,984.7 1632.4,970.1 1632.8,991.1 1633.2,974.5 1633.6,970.8 1634.1,965.2 1634.5,955.4 1634.9,977.4 1635.3,967.4 1635.8,975.8 1636.2,968.5 1636.6,977.6 1637.1,962.2 1637.5,972.7 1637.9,982.4 1638.3,985.8 1638.8,969.2 1639.2,957.1 1639.6,987.9 1640.0,984.7 1640.5,960.6 1640.9,985.4 1641.3,975.6 1641.7,957.0 1642.2,970.3 1642.6,952.6 1643.0,963.4 1643.4,962.9 1643.9,966.9 1644.3,981.6 1644.7,948.7 1645.1,928.1 1645.6,975.7 1646.0,962.9 1646.4,978.4 1646.9,977.0 1647.3,987.3 1647.7,940.6 1648.1,985.5 1648.6,964.9 1649.0,959.0 1649.4,985.1 1649.8,980.7 1650.3,947.2 1650.7,956.6 1651.1,982.8 1651.5,946.3 1652.0,968.9 1652.4,970.5 1652.8,961.4 1653.2,956.9 1653.7,973.7 1654.1,960.4 1654.5,950.4 1654.9,970.8 1655.4,943.2 1655.8,956.4 1656.2,967.8 1656.7,943.6 1657.1,980.6 1657.5,965.9 1657.9,960.4 1658.4,947.6 1658.8,963.2 1659.2,956.2 1659.6,965.2 1660.1,952.8 1660.5,963.4 1660.9,940.1 1661.3,939.2 1661.8,948.6 1662.2,932.1 1662.6,954.4 1663.0,958.1 1663.5,934.9 1663.9,954.0 1664.3,947.6 1664.7,946.8 1665.2,972.1 1665.6,950.4 1666.0,954.6 1666.5,946.8 1666.9,947.8 1667.3,952.7 1667.7,954.5 1668.2,950.8 1668.6,967.5 1669.0,950.4 1669.4,952.3 1669.9,976.0 1670.3,956.2 1670.7,964.0 1671.1,961.9 1671.6,947.5 1672.0,969.5 1672.4,955.6 1672.8,954.0 1673.3,953.0 1673.7,956.6 1674.1,962.1 1674.5,922.9 1675.0,968.6 1675.4,923.2 1675.8,933.6 1676.3,957.9 1676.7,946.9 1677.1,958.0 1677.5,932.8 1678.0,948.9 1678.4,955.7 1678.8,936.7 1679.2,937.8 1679.7,949.0 1680.1,953.5 1680.5,913.4 1680.9,941.6 1681.4,949.9 1681.8,965.1 1682.2,930.2 1682.6,946.6 1683.1,930.2 1683.5,931.7 1683.9,935.8 1684.3,966.1 1684.8,951.1 1685.2,956.5 1685.6,941.8 1686.1,957.8 1686.5,943.4 1686.9,952.6 1687.3,922.7 1687.8,930.4 1688.2,951.2 1688.6,971.1 1689.0,967.4 1689.5,927.5 1689.9,938.4 1690.3,937.2 1690.7,975.3 1691.2,930.1 1691.6,942.8 1692.0,955.9 1692.4,948.7 1692.9,921.7 1693.3,966.0 1693.7,909.4 1694.1,941.4 1694.6,931.8 1695.0,917.6 1695.4,931.6 1695.9,930.9 1696.3,920.0 1696.7,928.2 1697.1,932.4 1697.6,937.3 1698.0,904.5 1698.4,926.8 1698.8,934.8 1699.3,947.8 1699.7,949.1 1700.1,908.7 1700.5,924.5 1701.0,936.1 1701.4,942.9 1701.8,956.2 1702.2,927.6 1702.7,914.3 1703.1,932.2 1703.5,934.8 1703.9,921.9 1704.4,917.8 1704.8,939.0 1705.2,912.0 1705.7,922.0 1706.1,933.8 1706.5,931.6 1706.9,930.0 1707.4,915.5 1707.8,883.4 1708.2,915.7 1708.6,936.8 1709.1,940.0 1709.5,949.0 1709.9,934.4 1710.3,946.6 1710.8,925.8 1711.2,932.5 1711.6,955.9 1712.0,916.0 1712.5,917.9 1712.9,942.2 1713.3,937.5 1713.7,901.4 1714.2,943.3 1714.6,913.6 1715.0,914.2 1715.5,938.4 1715.9,930.6 1716.3,931.1 1716.7,943.5 1717.2,936.9 1717.6,886.2 1718.0,926.5 1718.4,932.2 1718.9,921.8 1719.3,917.8 1719.7,924.8 1720.1,924.3 1720.6,919.9 1721.0,918.6 1721.4,904.6 1721.8,921.3 1722.3,909.3 1722.7,930.8 1723.1,911.3 1723.5,912.8 1724.0,899.5 1724.4,914.0 1724.8,925.3 1725.3,900.4 1725.7,933.2 1726.1,917.5 1726.5,912.8 1727.0,926.3 1727.4,920.2 1727.8,887.2 1728.2,929.1 1728.7,923.3 1729.1,913.5 1729.5,868.6 1729.9,868.1 1730.4,886.9 1730.8,924.6 1731.2,926.5 1731.6,914.1 1732.1,911.6 1732.5,879.3 1732.9,911.1 1733.4,897.7 1733.8,908.7 1734.2,896.0 1734.6,922.2 1735.1,906.2 1735.5,915.7 1735.9,909.7 1736.3,899.7 1736.8,887.9 1737.2,891.2 1737.6,896.3 1738.0,910.6 1738.5,938.5 1738.9,914.9 1739.3,907.4 1739.7,921.9 1740.2,892.2 1740.6,912.7 1741.0,912.7 1741.4,875.6 1741.9,912.2 1742.3,899.0 1742.7,905.9 1743.2,903.3 1743.6,909.0 1744.0,895.4 1744.4,919.4 1744.9,920.9 1745.3,891.7 1745.7,909.6 1746.1,902.5 1746.6,924.7 1747.0,894.0 1747.4,907.4 1747.8,902.4 1748.3,883.8 1748.7,920.7 1749.1,908.7 1749.5,886.2 1750.0,916.5 1750.4,918.4 1750.8,880.8 1751.2,899.9 1751.7,899.0 1752.1,899.9 1752.5,901.4 1753.0,896.2 1753.4,876.2 1753.8,902.6 1754.2,882.2 1754.7,892.8 1755.1,909.1 1755.5,929.4 1755.9,922.1 1756.4,891.0 1756.8,898.3 1757.2,921.8 1757.6,909.6 1758.1,914.4 1758.5,889.0 1758.9,909.6 1759.3,911.0 1759.8,921.8 1760.2,927.6 1760.6,890.9 1761.0,921.8 1761.5,896.2 1761.9,901.3 1762.3,921.4 1762.8,902.6 1763.2,907.4 1763.6,924.0 1764.0,932.8 1764.5,908.9 1764.9,882.8 1765.3,900.4 1765.7,888.3 1766.2,890.6 1766.6,901.1 1767.0,891.0 1767.4,894.4 1767.9,892.2 1768.3,890.9 1768.7,864.0 1769.1,888.1 1769.6,888.9 1770.0,914.4 1770.4,903.0 1770.8,894.3 1771.3,881.0 1771.7,896.9 1772.1,866.9 1772.6,898.6 1773.0,877.3 1773.4,877.5 1773.8,905.0 1774.3,887.2 1774.7,884.4 1775.1,868.3 1775.5,906.2 1776.0,846.6 1776.4,892.8 1776.8,889.5 1777.2,891.7 1777.7,875.0 1778.1,868.3 1778.5,911.0 1778.9,890.8 1779.4,897.6 1779.8,857.8 1780.2,898.0 1780.6,905.3 1781.1,894.9 1781.5,855.7 1781.9,863.3 1782.4,840.4 1782.8,884.3 1783.2,895.2 1783.6,883.9 1784.1,871.4 1784.5,863.9 1784.9,890.8 1785.3,861.8 1785.8,906.8 1786.2,885.6 1786.6,899.0 1787.0,879.3 1787.5,872.8 1787.9,884.2 1788.3,863.4 1788.7,872.2 1789.2,873.2 1789.6,859.9 1790.0,882.1 1790.4,856.4 1790.9,843.2 1791.3,867.6 1791.7,869.8 1792.2,866.3 1792.6,870.2 1793.0,872.3 1793.4,874.1 1793.9,869.8 1794.3,868.2 1794.7,843.4 1795.1,875.6 1795.6,883.7 1796.0,861.1 1796.4,854.4 1796.8,881.0 1797.3,857.0 1797.7,869.6 1798.1,874.1 1798.5,883.7 1799.0,914.8 1799.4,862.6 1799.8,815.3 1800.2,867.1 1800.7,852.5 1801.1,874.7 1801.5,870.0 1802.0,878.3 1802.4,862.8 1802.8,877.2 1803.2,854.5 1803.7,873.9 1804.1,843.9 1804.5,846.3 1804.9,858.5 1805.4,870.1 1805.8,843.9 1806.2,858.8 1806.6,868.5 1807.1,869.1 1807.5,839.1 1807.9,886.7 1808.3,850.6 1808.8,862.7 1809.2,880.0 1809.6,843.2 1810.0,824.1 1810.5,874.0 1810.9,830.9 1811.3,856.0 1811.8,839.2 1812.2,883.7 1812.6,858.4 1813.0,880.5 1813.5,860.3 1813.9,842.6 1814.3,865.5 1814.7,833.9 1815.2,840.8 1815.6,864.4 1816.0,861.4 1816.4,833.2 1816.9,845.6 1817.3,844.4 1817.7,826.6 1818.1,865.5 1818.6,825.9 1819.0,844.1 1819.4,845.0 1819.8,846.2 1820.3,793.7 1820.7,846.5 1821.1,833.2 1821.6,864.3 1822.0,818.1 1822.4,857.8 1822.8,850.3 1823.3,827.5 1823.7,843.8 1824.1,850.6 1824.5,817.9 1825.0,809.7 1825.4,832.3 1825.8,848.4 1826.2,843.1 1826.7,838.1 1827.1,826.5 1827.5,827.7 1827.9,849.7 1828.4,843.5 1828.8,862.0 1829.2,844.8 1829.7,836.2 1830.1,827.1 1830.5,832.5 1830.9,857.4 1831.4,824.1 1831.8,826.3 1832.2,835.4 1832.6,838.6 1833.1,852.3 1833.5,827.3 1833.9,865.1 1834.3,829.9 1834.8,832.0 1835.2,832.5 1835.6,850.2 1836.0,842.1 1836.5,829.8 1836.9,808.7 1837.3,803.4 1837.7,829.3 1838.2,828.8 1838.6,821.1 1839.0,826.7 1839.5,810.7 1839.9,825.9 1840.3,843.0 1840.7,828.3 1841.2,821.7 1841.6,822.7 1842.0,835.4 1842.4,808.1 1842.9,811.0 1843.3,804.6 1843.7,787.7 1844.1,837.8 1844.6,827.5 1845.0,802.1 1845.4,845.1 1845.8,801.9 1846.3,820.6 1846.7,800.4 1847.1,835.3 1847.5,820.4 1848.0,823.1 1848.4,821.9 1848.8,849.0 1849.3,772.1 1849.7,802.9 1850.1,811.4 1850.5,818.6 1851.0,807.8 1851.4,808.8 1851.8,823.3 1852.2,823.9 1852.7,799.2 1853.1,828.9 1853.5,808.8 1853.9,811.8 1854.4,842.9 1854.8,832.7 1855.2,774.8 1855.6,819.4 1856.1,822.6 1856.5,811.9 1856.9,795.1 1857.3,829.9 1857.8,796.4 1858.2,803.9 1858.6,791.0 1859.1,799.6 1859.5,777.3 1859.9,821.5 1860.3,791.0 1860.8,801.7 1861.2,794.1 1861.6,825.8 1862.0,835.3 1862.5,807.9 1862.9,802.3 1863.3,803.0 1863.7,782.4 1864.2,781.4 1864.6,787.7 1865.0,798.4 1865.4,785.3 1865.9,791.4 1866.3,796.1 1866.7,805.7 1867.1,796.7 1867.6,784.0 1868.0,792.7"/>
</g>
<text transform="translate(331.45,1454.00) scale(1,1.03)" font-size="81" fill="#000" text-anchor="middle">200</text>
<text transform="translate(672.95,1454.00) scale(1,1.03)" font-size="81" fill="#000" text-anchor="middle">400</text>
<text transform="translate(1014.45,1454.00) scale(1,1.03)" font-size="81" fill="#000" text-anchor="middle">600</text>
<text transform="translate(1355.95,1454.00) scale(1,1.03)" font-size="81" fill="#000" text-anchor="middle">800</text>
<text transform="translate(1697.45,1454.00) scale(1,1.03)" font-size="81" fill="#000" text-anchor="middle">1000</text>
<text transform="translate(683.20,1601.00) scale(1,1.03)" font-size="81.5" fill="#000">Raman shift (cm</text>
<text transform="translate(1275.00,1557.00) scale(1,1.03)" font-size="45" fill="#000">-1</text>
<text transform="translate(1324.10,1601.00) scale(1,1.03)" font-size="81.5" fill="#000">)</text>
<text transform="translate(87.1,967.7) rotate(-90) scale(1,1.03)" font-size="81" fill="#000" style="white-space:pre">Intensity  (arb.un.)</text>
<text transform="translate(1435.15,201.00) scale(1,1.03)" font-size="70" fill="#000000">WO</text>
<text transform="translate(1555.18,227.50) scale(1,1.03)" font-size="40.5" fill="#000000">3-y</text>
<text transform="translate(1612.62,201.00) scale(1,1.03)" font-size="70" fill="#000000">(40 Pa)</text>
<text transform="translate(1460.65,643.00) scale(1,1.03)" font-size="70" fill="#ff0000">WO</text>
<text transform="translate(1580.18,670.20) scale(1,1.03)" font-size="40.5" fill="#ff0000">3-y</text>
<text transform="translate(1637.62,643.00) scale(1,1.03)" font-size="70" fill="#ff0000">(80 Pa)</text>
<text transform="translate(503.15,857.80) scale(1,1.03)" font-size="70" fill="#00ff00">WO</text>
<text transform="translate(622.38,884.50) scale(1,1.03)" font-size="40.5" fill="#00ff00">3-y</text>
<text transform="translate(679.02,857.80) scale(1,1.03)" font-size="70" fill="#00ff00">(40 Pa)_500</text>
<text transform="translate(1063.57,820.60) scale(1,1.03)" font-size="43" fill="#00ff00">o</text>
<text transform="translate(1087.40,857.80) scale(1,1.03)" font-size="70" fill="#00ff00">C</text>
<text transform="translate(637.45,1305.80) scale(1,1.03)" font-size="70" fill="#0000ff">WO</text>
<text transform="translate(756.68,1332.30) scale(1,1.03)" font-size="40.5" fill="#0000ff">3-y</text>
<text transform="translate(814.02,1305.80) scale(1,1.03)" font-size="70" fill="#0000ff">(80 Pa)_500</text>
<text transform="translate(1197.77,1267.50) scale(1,1.03)" font-size="43" fill="#0000ff">o</text>
<text transform="translate(1222.70,1305.80) scale(1,1.03)" font-size="70" fill="#0000ff">C</text>
</svg>
</body></html>
